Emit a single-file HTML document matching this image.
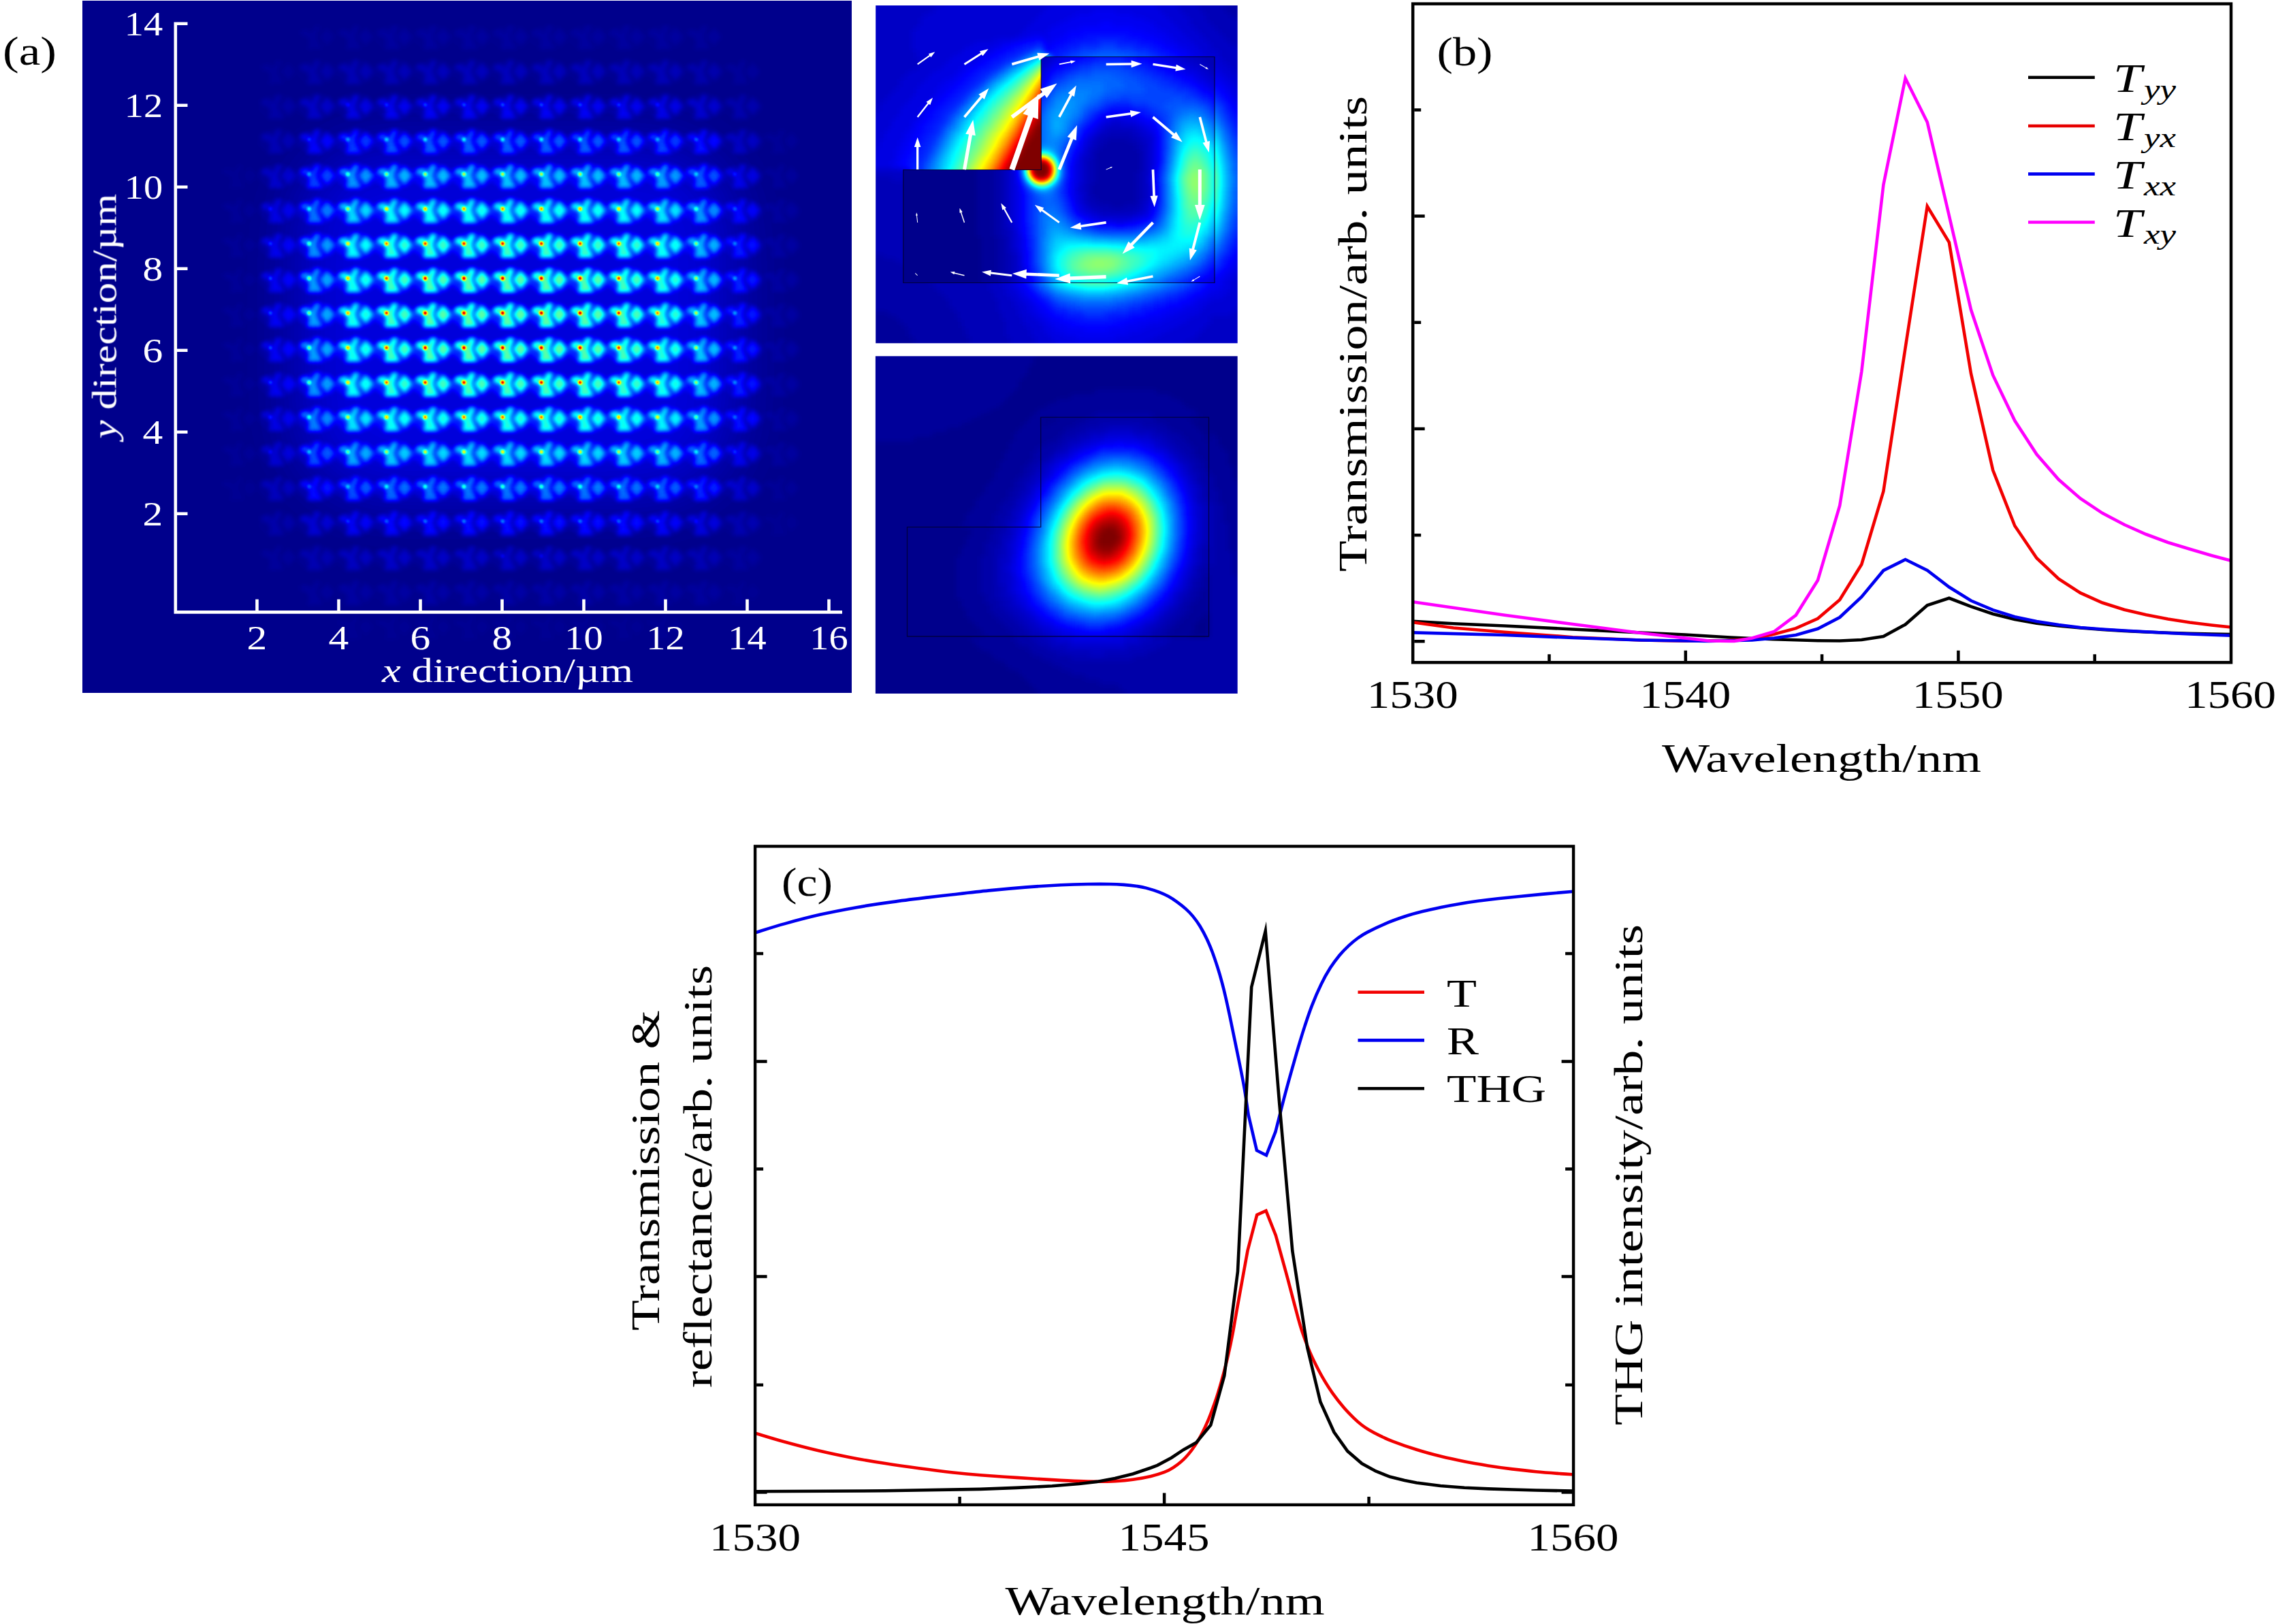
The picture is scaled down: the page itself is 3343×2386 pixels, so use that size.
<!DOCTYPE html>
<html><head><meta charset="utf-8"><title>Figure</title>
<style>html,body{margin:0;padding:0;background:#fff}svg{display:block}text{font-family:"Liberation Serif",serif}</style>
</head><body>
<svg xmlns="http://www.w3.org/2000/svg" width="3343" height="2386" viewBox="0 0 3343 2386">
<defs>
<filter id="jet" filterUnits="userSpaceOnUse" x="0" y="0" width="3343" height="2386" color-interpolation-filters="sRGB">
<feComponentTransfer>
<feFuncR type="table" tableValues="0 0 0 0 .5 1 1 1 .5"/>
<feFuncG type="table" tableValues="0 0 .5 1 1 1 .5 0 0"/>
<feFuncB type="table" tableValues=".55 1 1 1 .5 0 0 0 0"/>
</feComponentTransfer></filter>
<filter id="b22" filterUnits="userSpaceOnUse" x="100" y="0" width="1200" height="1040" color-interpolation-filters="sRGB"><feGaussianBlur stdDeviation="3.3"/></filter>
<filter id="b12" filterUnits="userSpaceOnUse" x="100" y="0" width="1200" height="1040" color-interpolation-filters="sRGB"><feGaussianBlur stdDeviation="1.6"/></filter>
<filter id="b40" filterUnits="userSpaceOnUse" x="100" y="-50" width="1200" height="1100" color-interpolation-filters="sRGB"><feGaussianBlur stdDeviation="48"/></filter>
<filter id="jb" filterUnits="userSpaceOnUse" x="1240" y="-40" width="640" height="1120" color-interpolation-filters="sRGB"><feGaussianBlur stdDeviation="4.5"/>
<feComponentTransfer>
<feFuncR type="table" tableValues="0 0 0 0 .5 1 1 1 .5"/>
<feFuncG type="table" tableValues="0 0 .5 1 1 1 .5 0 0"/>
<feFuncB type="table" tableValues=".55 1 1 1 .5 0 0 0 0"/>
<feFuncA type="linear" slope="0" intercept="1"/>
</feComponentTransfer></filter>
</defs>
<rect width="3343" height="2386" fill="#fff"/>
<g id="pa">
<clipPath id="ca"><rect x="121.2" y="1.0" width="1129.3" height="1016.5"/></clipPath>
<radialGradient id="ga" cx="757.0" cy="472.0" r="1" gradientUnits="userSpaceOnUse" gradientTransform="translate(757.0 472.0) scale(590.4 536.4) translate(-757.0 -472.0)">
<stop offset="0.000" stop-color="#fff" stop-opacity="0.115"/>
<stop offset="0.083" stop-color="#fff" stop-opacity="0.115"/>
<stop offset="0.167" stop-color="#fff" stop-opacity="0.114"/>
<stop offset="0.250" stop-color="#fff" stop-opacity="0.112"/>
<stop offset="0.333" stop-color="#fff" stop-opacity="0.105"/>
<stop offset="0.417" stop-color="#fff" stop-opacity="0.092"/>
<stop offset="0.500" stop-color="#fff" stop-opacity="0.073"/>
<stop offset="0.583" stop-color="#fff" stop-opacity="0.050"/>
<stop offset="0.667" stop-color="#fff" stop-opacity="0.027"/>
<stop offset="0.750" stop-color="#fff" stop-opacity="0.012"/>
<stop offset="0.833" stop-color="#fff" stop-opacity="0.003"/>
<stop offset="0.917" stop-color="#fff" stop-opacity="0.001"/>
<stop offset="1.000" stop-color="#fff" stop-opacity="0.000"/>
</radialGradient>
<g clip-path="url(#ca)"><g filter="url(#jet)">
<rect x="101.2" y="-19.0" width="1169.3" height="1056.5" fill="#000"/>
<rect x="440" y="215" width="635" height="515" rx="120" fill="#fff" opacity="0.085" filter="url(#b40)"/>
<g filter="url(#b22)"><g transform="translate(340.3 255.9) scale(1.1)" opacity="0.009"><path d="M-12-7L-2-8L3-3L9-14L15-12L10 2L14 11L18 18L-3 19L0 10L-2 3L-12-1ZM24-10L34 2L24 14L14 2Z" fill="#fff"/><ellipse cx="11" cy="3" rx="27" ry="17" fill="#fff" fill-opacity=".2"/></g><g transform="translate(340.3 306.9) scale(1.1)" opacity="0.011"><path d="M-12-7L-2-8L3-3L9-14L15-12L10 2L14 11L18 18L-3 19L0 10L-2 3L-12-1ZM24-10L34 2L24 14L14 2Z" fill="#fff"/><ellipse cx="11" cy="3" rx="27" ry="17" fill="#fff" fill-opacity=".2"/></g><g transform="translate(340.3 357.9) scale(1.1)" opacity="0.013"><path d="M-12-7L-2-8L3-3L9-14L15-12L10 2L14 11L18 18L-3 19L0 10L-2 3L-12-1ZM24-10L34 2L24 14L14 2Z" fill="#fff"/><ellipse cx="11" cy="3" rx="27" ry="17" fill="#fff" fill-opacity=".2"/></g><g transform="translate(340.3 408.9) scale(1.1)" opacity="0.013"><path d="M-12-7L-2-8L3-3L9-14L15-12L10 2L14 11L18 18L-3 19L0 10L-2 3L-12-1ZM24-10L34 2L24 14L14 2Z" fill="#fff"/><ellipse cx="11" cy="3" rx="27" ry="17" fill="#fff" fill-opacity=".2"/></g><g transform="translate(340.3 459.9) scale(1.1)" opacity="0.013"><path d="M-12-7L-2-8L3-3L9-14L15-12L10 2L14 11L18 18L-3 19L0 10L-2 3L-12-1ZM24-10L34 2L24 14L14 2Z" fill="#fff"/><ellipse cx="11" cy="3" rx="27" ry="17" fill="#fff" fill-opacity=".2"/></g><g transform="translate(340.3 510.9) scale(1.1)" opacity="0.013"><path d="M-12-7L-2-8L3-3L9-14L15-12L10 2L14 11L18 18L-3 19L0 10L-2 3L-12-1ZM24-10L34 2L24 14L14 2Z" fill="#fff"/><ellipse cx="11" cy="3" rx="27" ry="17" fill="#fff" fill-opacity=".2"/></g><g transform="translate(340.3 561.9) scale(1.1)" opacity="0.013"><path d="M-12-7L-2-8L3-3L9-14L15-12L10 2L14 11L18 18L-3 19L0 10L-2 3L-12-1ZM24-10L34 2L24 14L14 2Z" fill="#fff"/><ellipse cx="11" cy="3" rx="27" ry="17" fill="#fff" fill-opacity=".2"/></g><g transform="translate(340.3 612.9) scale(1.1)" opacity="0.012"><path d="M-12-7L-2-8L3-3L9-14L15-12L10 2L14 11L18 18L-3 19L0 10L-2 3L-12-1ZM24-10L34 2L24 14L14 2Z" fill="#fff"/><ellipse cx="11" cy="3" rx="27" ry="17" fill="#fff" fill-opacity=".2"/></g><g transform="translate(340.3 663.9) scale(1.1)" opacity="0.010"><path d="M-12-7L-2-8L3-3L9-14L15-12L10 2L14 11L18 18L-3 19L0 10L-2 3L-12-1ZM24-10L34 2L24 14L14 2Z" fill="#fff"/><ellipse cx="11" cy="3" rx="27" ry="17" fill="#fff" fill-opacity=".2"/></g><g transform="translate(340.3 714.9) scale(1.1)" opacity="0.007"><path d="M-12-7L-2-8L3-3L9-14L15-12L10 2L14 11L18 18L-3 19L0 10L-2 3L-12-1ZM24-10L34 2L24 14L14 2Z" fill="#fff"/><ellipse cx="11" cy="3" rx="27" ry="17" fill="#fff" fill-opacity=".2"/></g><g transform="translate(397.1 102.9) scale(1.1)" opacity="0.013"><path d="M-12-7L-2-8L3-3L9-14L15-12L10 2L14 11L18 18L-3 19L0 10L-2 3L-12-1ZM24-10L34 2L24 14L14 2Z" fill="#fff"/><ellipse cx="11" cy="3" rx="27" ry="17" fill="#fff" fill-opacity=".2"/></g><g transform="translate(397.1 153.9) scale(1.1)" opacity="0.027"><path d="M-12-7L-2-8L3-3L9-14L15-12L10 2L14 11L18 18L-3 19L0 10L-2 3L-12-1ZM24-10L34 2L24 14L14 2Z" fill="#fff"/><ellipse cx="11" cy="3" rx="27" ry="17" fill="#fff" fill-opacity=".2"/></g><g transform="translate(397.1 204.9) scale(1.1)" opacity="0.045"><path d="M-12-7L-2-8L3-3L9-14L15-12L10 2L14 11L18 18L-3 19L0 10L-2 3L-12-1ZM24-10L34 2L24 14L14 2Z" fill="#fff"/><ellipse cx="11" cy="3" rx="27" ry="17" fill="#fff" fill-opacity=".2"/></g><g transform="translate(397.1 255.9) scale(1.1)" opacity="0.064"><path d="M-12-7L-2-8L3-3L9-14L15-12L10 2L14 11L18 18L-3 19L0 10L-2 3L-12-1ZM24-10L34 2L24 14L14 2Z" fill="#fff"/><ellipse cx="11" cy="3" rx="27" ry="17" fill="#fff" fill-opacity=".2"/></g><g transform="translate(397.1 306.9) scale(1.1)" opacity="0.081"><path d="M-12-7L-2-8L3-3L9-14L15-12L10 2L14 11L18 18L-3 19L0 10L-2 3L-12-1ZM24-10L34 2L24 14L14 2Z" fill="#fff"/><ellipse cx="11" cy="3" rx="27" ry="17" fill="#fff" fill-opacity=".2"/></g><g transform="translate(397.1 357.9) scale(1.1)" opacity="0.091"><path d="M-12-7L-2-8L3-3L9-14L15-12L10 2L14 11L18 18L-3 19L0 10L-2 3L-12-1ZM24-10L34 2L24 14L14 2Z" fill="#fff"/><ellipse cx="11" cy="3" rx="27" ry="17" fill="#fff" fill-opacity=".2"/></g><g transform="translate(397.1 408.9) scale(1.1)" opacity="0.096"><path d="M-12-7L-2-8L3-3L9-14L15-12L10 2L14 11L18 18L-3 19L0 10L-2 3L-12-1ZM24-10L34 2L24 14L14 2Z" fill="#fff"/><ellipse cx="11" cy="3" rx="27" ry="17" fill="#fff" fill-opacity=".2"/></g><g transform="translate(397.1 459.9) scale(1.1)" opacity="0.097"><path d="M-12-7L-2-8L3-3L9-14L15-12L10 2L14 11L18 18L-3 19L0 10L-2 3L-12-1ZM24-10L34 2L24 14L14 2Z" fill="#fff"/><ellipse cx="11" cy="3" rx="27" ry="17" fill="#fff" fill-opacity=".2"/></g><g transform="translate(397.1 510.9) scale(1.1)" opacity="0.097"><path d="M-12-7L-2-8L3-3L9-14L15-12L10 2L14 11L18 18L-3 19L0 10L-2 3L-12-1ZM24-10L34 2L24 14L14 2Z" fill="#fff"/><ellipse cx="11" cy="3" rx="27" ry="17" fill="#fff" fill-opacity=".2"/></g><g transform="translate(397.1 561.9) scale(1.1)" opacity="0.093"><path d="M-12-7L-2-8L3-3L9-14L15-12L10 2L14 11L18 18L-3 19L0 10L-2 3L-12-1ZM24-10L34 2L24 14L14 2Z" fill="#fff"/><ellipse cx="11" cy="3" rx="27" ry="17" fill="#fff" fill-opacity=".2"/></g><g transform="translate(397.1 612.9) scale(1.1)" opacity="0.084"><path d="M-12-7L-2-8L3-3L9-14L15-12L10 2L14 11L18 18L-3 19L0 10L-2 3L-12-1ZM24-10L34 2L24 14L14 2Z" fill="#fff"/><ellipse cx="11" cy="3" rx="27" ry="17" fill="#fff" fill-opacity=".2"/></g><g transform="translate(397.1 663.9) scale(1.1)" opacity="0.069"><path d="M-12-7L-2-8L3-3L9-14L15-12L10 2L14 11L18 18L-3 19L0 10L-2 3L-12-1ZM24-10L34 2L24 14L14 2Z" fill="#fff"/><ellipse cx="11" cy="3" rx="27" ry="17" fill="#fff" fill-opacity=".2"/></g><g transform="translate(397.1 714.9) scale(1.1)" opacity="0.050"><path d="M-12-7L-2-8L3-3L9-14L15-12L10 2L14 11L18 18L-3 19L0 10L-2 3L-12-1ZM24-10L34 2L24 14L14 2Z" fill="#fff"/><ellipse cx="11" cy="3" rx="27" ry="17" fill="#fff" fill-opacity=".2"/></g><g transform="translate(397.1 765.9) scale(1.1)" opacity="0.031"><path d="M-12-7L-2-8L3-3L9-14L15-12L10 2L14 11L18 18L-3 19L0 10L-2 3L-12-1ZM24-10L34 2L24 14L14 2Z" fill="#fff"/><ellipse cx="11" cy="3" rx="27" ry="17" fill="#fff" fill-opacity=".2"/></g><g transform="translate(397.1 816.9) scale(1.1)" opacity="0.016"><path d="M-12-7L-2-8L3-3L9-14L15-12L10 2L14 11L18 18L-3 19L0 10L-2 3L-12-1ZM24-10L34 2L24 14L14 2Z" fill="#fff"/><ellipse cx="11" cy="3" rx="27" ry="17" fill="#fff" fill-opacity=".2"/></g><g transform="translate(454.0 51.9) scale(1.1)" opacity="0.012"><path d="M-12-7L-2-8L3-3L9-14L15-12L10 2L14 11L18 18L-3 19L0 10L-2 3L-12-1ZM24-10L34 2L24 14L14 2Z" fill="#fff"/><ellipse cx="11" cy="3" rx="27" ry="17" fill="#fff" fill-opacity=".2"/></g><g transform="translate(454.0 102.9) scale(1.1)" opacity="0.031"><path d="M-12-7L-2-8L3-3L9-14L15-12L10 2L14 11L18 18L-3 19L0 10L-2 3L-12-1ZM24-10L34 2L24 14L14 2Z" fill="#fff"/><ellipse cx="11" cy="3" rx="27" ry="17" fill="#fff" fill-opacity=".2"/></g><g transform="translate(454.0 153.9) scale(1.1)" opacity="0.064"><path d="M-12-7L-2-8L3-3L9-14L15-12L10 2L14 11L18 18L-3 19L0 10L-2 3L-12-1ZM24-10L34 2L24 14L14 2Z" fill="#fff"/><ellipse cx="11" cy="3" rx="27" ry="17" fill="#fff" fill-opacity=".2"/></g><g transform="translate(454.0 204.9) scale(1.1)" opacity="0.109"><path d="M-12-7L-2-8L3-3L9-14L15-12L10 2L14 11L18 18L-3 19L0 10L-2 3L-12-1ZM24-10L34 2L24 14L14 2Z" fill="#fff"/><ellipse cx="11" cy="3" rx="27" ry="17" fill="#fff" fill-opacity=".2"/></g><g transform="translate(454.0 255.9) scale(1.1)" opacity="0.157"><path d="M-12-7L-2-8L3-3L9-14L15-12L10 2L14 11L18 18L-3 19L0 10L-2 3L-12-1ZM24-10L34 2L24 14L14 2Z" fill="#fff"/><ellipse cx="11" cy="3" rx="27" ry="17" fill="#fff" fill-opacity=".2"/></g><g transform="translate(454.0 306.9) scale(1.1)" opacity="0.197"><path d="M-12-7L-2-8L3-3L9-14L15-12L10 2L14 11L18 18L-3 19L0 10L-2 3L-12-1ZM24-10L34 2L24 14L14 2Z" fill="#fff"/><ellipse cx="11" cy="3" rx="27" ry="17" fill="#fff" fill-opacity=".2"/></g><g transform="translate(454.0 357.9) scale(1.1)" opacity="0.224"><path d="M-12-7L-2-8L3-3L9-14L15-12L10 2L14 11L18 18L-3 19L0 10L-2 3L-12-1ZM24-10L34 2L24 14L14 2Z" fill="#fff"/><ellipse cx="11" cy="3" rx="27" ry="17" fill="#fff" fill-opacity=".2"/></g><g transform="translate(454.0 408.9) scale(1.1)" opacity="0.237"><path d="M-12-7L-2-8L3-3L9-14L15-12L10 2L14 11L18 18L-3 19L0 10L-2 3L-12-1ZM24-10L34 2L24 14L14 2Z" fill="#fff"/><ellipse cx="11" cy="3" rx="27" ry="17" fill="#fff" fill-opacity=".2"/></g><g transform="translate(454.0 459.9) scale(1.1)" opacity="0.240"><path d="M-12-7L-2-8L3-3L9-14L15-12L10 2L14 11L18 18L-3 19L0 10L-2 3L-12-1ZM24-10L34 2L24 14L14 2Z" fill="#fff"/><ellipse cx="11" cy="3" rx="27" ry="17" fill="#fff" fill-opacity=".2"/></g><g transform="translate(454.0 510.9) scale(1.1)" opacity="0.239"><path d="M-12-7L-2-8L3-3L9-14L15-12L10 2L14 11L18 18L-3 19L0 10L-2 3L-12-1ZM24-10L34 2L24 14L14 2Z" fill="#fff"/><ellipse cx="11" cy="3" rx="27" ry="17" fill="#fff" fill-opacity=".2"/></g><g transform="translate(454.0 561.9) scale(1.1)" opacity="0.229"><path d="M-12-7L-2-8L3-3L9-14L15-12L10 2L14 11L18 18L-3 19L0 10L-2 3L-12-1ZM24-10L34 2L24 14L14 2Z" fill="#fff"/><ellipse cx="11" cy="3" rx="27" ry="17" fill="#fff" fill-opacity=".2"/></g><g transform="translate(454.0 612.9) scale(1.1)" opacity="0.206"><path d="M-12-7L-2-8L3-3L9-14L15-12L10 2L14 11L18 18L-3 19L0 10L-2 3L-12-1ZM24-10L34 2L24 14L14 2Z" fill="#fff"/><ellipse cx="11" cy="3" rx="27" ry="17" fill="#fff" fill-opacity=".2"/></g><g transform="translate(454.0 663.9) scale(1.1)" opacity="0.169"><path d="M-12-7L-2-8L3-3L9-14L15-12L10 2L14 11L18 18L-3 19L0 10L-2 3L-12-1ZM24-10L34 2L24 14L14 2Z" fill="#fff"/><ellipse cx="11" cy="3" rx="27" ry="17" fill="#fff" fill-opacity=".2"/></g><g transform="translate(454.0 714.9) scale(1.1)" opacity="0.122"><path d="M-12-7L-2-8L3-3L9-14L15-12L10 2L14 11L18 18L-3 19L0 10L-2 3L-12-1ZM24-10L34 2L24 14L14 2Z" fill="#fff"/><ellipse cx="11" cy="3" rx="27" ry="17" fill="#fff" fill-opacity=".2"/></g><g transform="translate(454.0 765.9) scale(1.1)" opacity="0.076"><path d="M-12-7L-2-8L3-3L9-14L15-12L10 2L14 11L18 18L-3 19L0 10L-2 3L-12-1ZM24-10L34 2L24 14L14 2Z" fill="#fff"/><ellipse cx="11" cy="3" rx="27" ry="17" fill="#fff" fill-opacity=".2"/></g><g transform="translate(454.0 816.9) scale(1.1)" opacity="0.039"><path d="M-12-7L-2-8L3-3L9-14L15-12L10 2L14 11L18 18L-3 19L0 10L-2 3L-12-1ZM24-10L34 2L24 14L14 2Z" fill="#fff"/><ellipse cx="11" cy="3" rx="27" ry="17" fill="#fff" fill-opacity=".2"/></g><g transform="translate(454.0 867.9) scale(1.1)" opacity="0.016"><path d="M-12-7L-2-8L3-3L9-14L15-12L10 2L14 11L18 18L-3 19L0 10L-2 3L-12-1ZM24-10L34 2L24 14L14 2Z" fill="#fff"/><ellipse cx="11" cy="3" rx="27" ry="17" fill="#fff" fill-opacity=".2"/></g><g transform="translate(510.9 51.9) scale(1.1)" opacity="0.017"><path d="M-12-7L-2-8L3-3L9-14L15-12L10 2L14 11L18 18L-3 19L0 10L-2 3L-12-1ZM24-10L34 2L24 14L14 2Z" fill="#fff"/><ellipse cx="11" cy="3" rx="27" ry="17" fill="#fff" fill-opacity=".2"/></g><g transform="translate(510.9 102.9) scale(1.1)" opacity="0.044"><path d="M-12-7L-2-8L3-3L9-14L15-12L10 2L14 11L18 18L-3 19L0 10L-2 3L-12-1ZM24-10L34 2L24 14L14 2Z" fill="#fff"/><ellipse cx="11" cy="3" rx="27" ry="17" fill="#fff" fill-opacity=".2"/></g><g transform="translate(510.9 153.9) scale(1.1)" opacity="0.090"><path d="M-12-7L-2-8L3-3L9-14L15-12L10 2L14 11L18 18L-3 19L0 10L-2 3L-12-1ZM24-10L34 2L24 14L14 2Z" fill="#fff"/><ellipse cx="11" cy="3" rx="27" ry="17" fill="#fff" fill-opacity=".2"/></g><g transform="translate(510.9 204.9) scale(1.1)" opacity="0.154"><path d="M-12-7L-2-8L3-3L9-14L15-12L10 2L14 11L18 18L-3 19L0 10L-2 3L-12-1ZM24-10L34 2L24 14L14 2Z" fill="#fff"/><ellipse cx="11" cy="3" rx="27" ry="17" fill="#fff" fill-opacity=".2"/></g><g transform="translate(510.9 255.9) scale(1.1)" opacity="0.222"><path d="M-12-7L-2-8L3-3L9-14L15-12L10 2L14 11L18 18L-3 19L0 10L-2 3L-12-1ZM24-10L34 2L24 14L14 2Z" fill="#fff"/><ellipse cx="11" cy="3" rx="27" ry="17" fill="#fff" fill-opacity=".2"/></g><g transform="translate(510.9 306.9) scale(1.1)" opacity="0.281"><path d="M-12-7L-2-8L3-3L9-14L15-12L10 2L14 11L18 18L-3 19L0 10L-2 3L-12-1ZM24-10L34 2L24 14L14 2Z" fill="#fff"/><ellipse cx="11" cy="3" rx="27" ry="17" fill="#fff" fill-opacity=".2"/></g><g transform="translate(510.9 357.9) scale(1.1)" opacity="0.321"><path d="M-12-7L-2-8L3-3L9-14L15-12L10 2L14 11L18 18L-3 19L0 10L-2 3L-12-1ZM24-10L34 2L24 14L14 2Z" fill="#fff"/><ellipse cx="11" cy="3" rx="27" ry="17" fill="#fff" fill-opacity=".2"/></g><g transform="translate(510.9 408.9) scale(1.1)" opacity="0.340"><path d="M-12-7L-2-8L3-3L9-14L15-12L10 2L14 11L18 18L-3 19L0 10L-2 3L-12-1ZM24-10L34 2L24 14L14 2Z" fill="#fff"/><ellipse cx="11" cy="3" rx="27" ry="17" fill="#fff" fill-opacity=".2"/></g><g transform="translate(510.9 459.9) scale(1.1)" opacity="0.345"><path d="M-12-7L-2-8L3-3L9-14L15-12L10 2L14 11L18 18L-3 19L0 10L-2 3L-12-1ZM24-10L34 2L24 14L14 2Z" fill="#fff"/><ellipse cx="11" cy="3" rx="27" ry="17" fill="#fff" fill-opacity=".2"/></g><g transform="translate(510.9 510.9) scale(1.1)" opacity="0.343"><path d="M-12-7L-2-8L3-3L9-14L15-12L10 2L14 11L18 18L-3 19L0 10L-2 3L-12-1ZM24-10L34 2L24 14L14 2Z" fill="#fff"/><ellipse cx="11" cy="3" rx="27" ry="17" fill="#fff" fill-opacity=".2"/></g><g transform="translate(510.9 561.9) scale(1.1)" opacity="0.328"><path d="M-12-7L-2-8L3-3L9-14L15-12L10 2L14 11L18 18L-3 19L0 10L-2 3L-12-1ZM24-10L34 2L24 14L14 2Z" fill="#fff"/><ellipse cx="11" cy="3" rx="27" ry="17" fill="#fff" fill-opacity=".2"/></g><g transform="translate(510.9 612.9) scale(1.1)" opacity="0.295"><path d="M-12-7L-2-8L3-3L9-14L15-12L10 2L14 11L18 18L-3 19L0 10L-2 3L-12-1ZM24-10L34 2L24 14L14 2Z" fill="#fff"/><ellipse cx="11" cy="3" rx="27" ry="17" fill="#fff" fill-opacity=".2"/></g><g transform="translate(510.9 663.9) scale(1.1)" opacity="0.240"><path d="M-12-7L-2-8L3-3L9-14L15-12L10 2L14 11L18 18L-3 19L0 10L-2 3L-12-1ZM24-10L34 2L24 14L14 2Z" fill="#fff"/><ellipse cx="11" cy="3" rx="27" ry="17" fill="#fff" fill-opacity=".2"/></g><g transform="translate(510.9 714.9) scale(1.1)" opacity="0.173"><path d="M-12-7L-2-8L3-3L9-14L15-12L10 2L14 11L18 18L-3 19L0 10L-2 3L-12-1ZM24-10L34 2L24 14L14 2Z" fill="#fff"/><ellipse cx="11" cy="3" rx="27" ry="17" fill="#fff" fill-opacity=".2"/></g><g transform="translate(510.9 765.9) scale(1.1)" opacity="0.107"><path d="M-12-7L-2-8L3-3L9-14L15-12L10 2L14 11L18 18L-3 19L0 10L-2 3L-12-1ZM24-10L34 2L24 14L14 2Z" fill="#fff"/><ellipse cx="11" cy="3" rx="27" ry="17" fill="#fff" fill-opacity=".2"/></g><g transform="translate(510.9 816.9) scale(1.1)" opacity="0.055"><path d="M-12-7L-2-8L3-3L9-14L15-12L10 2L14 11L18 18L-3 19L0 10L-2 3L-12-1ZM24-10L34 2L24 14L14 2Z" fill="#fff"/><ellipse cx="11" cy="3" rx="27" ry="17" fill="#fff" fill-opacity=".2"/></g><g transform="translate(510.9 867.9) scale(1.1)" opacity="0.023"><path d="M-12-7L-2-8L3-3L9-14L15-12L10 2L14 11L18 18L-3 19L0 10L-2 3L-12-1ZM24-10L34 2L24 14L14 2Z" fill="#fff"/><ellipse cx="11" cy="3" rx="27" ry="17" fill="#fff" fill-opacity=".2"/></g><g transform="translate(510.9 918.9) scale(1.1)" opacity="0.007"><path d="M-12-7L-2-8L3-3L9-14L15-12L10 2L14 11L18 18L-3 19L0 10L-2 3L-12-1ZM24-10L34 2L24 14L14 2Z" fill="#fff"/><ellipse cx="11" cy="3" rx="27" ry="17" fill="#fff" fill-opacity=".2"/></g><g transform="translate(567.7 51.9) scale(1.1)" opacity="0.019"><path d="M-12-7L-2-8L3-3L9-14L15-12L10 2L14 11L18 18L-3 19L0 10L-2 3L-12-1ZM24-10L34 2L24 14L14 2Z" fill="#fff"/><ellipse cx="11" cy="3" rx="27" ry="17" fill="#fff" fill-opacity=".2"/></g><g transform="translate(567.7 102.9) scale(1.1)" opacity="0.049"><path d="M-12-7L-2-8L3-3L9-14L15-12L10 2L14 11L18 18L-3 19L0 10L-2 3L-12-1ZM24-10L34 2L24 14L14 2Z" fill="#fff"/><ellipse cx="11" cy="3" rx="27" ry="17" fill="#fff" fill-opacity=".2"/></g><g transform="translate(567.7 153.9) scale(1.1)" opacity="0.101"><path d="M-12-7L-2-8L3-3L9-14L15-12L10 2L14 11L18 18L-3 19L0 10L-2 3L-12-1ZM24-10L34 2L24 14L14 2Z" fill="#fff"/><ellipse cx="11" cy="3" rx="27" ry="17" fill="#fff" fill-opacity=".2"/></g><g transform="translate(567.7 204.9) scale(1.1)" opacity="0.172"><path d="M-12-7L-2-8L3-3L9-14L15-12L10 2L14 11L18 18L-3 19L0 10L-2 3L-12-1ZM24-10L34 2L24 14L14 2Z" fill="#fff"/><ellipse cx="11" cy="3" rx="27" ry="17" fill="#fff" fill-opacity=".2"/></g><g transform="translate(567.7 255.9) scale(1.1)" opacity="0.250"><path d="M-12-7L-2-8L3-3L9-14L15-12L10 2L14 11L18 18L-3 19L0 10L-2 3L-12-1ZM24-10L34 2L24 14L14 2Z" fill="#fff"/><ellipse cx="11" cy="3" rx="27" ry="17" fill="#fff" fill-opacity=".2"/></g><g transform="translate(567.7 306.9) scale(1.1)" opacity="0.318"><path d="M-12-7L-2-8L3-3L9-14L15-12L10 2L14 11L18 18L-3 19L0 10L-2 3L-12-1ZM24-10L34 2L24 14L14 2Z" fill="#fff"/><ellipse cx="11" cy="3" rx="27" ry="17" fill="#fff" fill-opacity=".2"/></g><g transform="translate(567.7 357.9) scale(1.1)" opacity="0.364"><path d="M-12-7L-2-8L3-3L9-14L15-12L10 2L14 11L18 18L-3 19L0 10L-2 3L-12-1ZM24-10L34 2L24 14L14 2Z" fill="#fff"/><ellipse cx="11" cy="3" rx="27" ry="17" fill="#fff" fill-opacity=".2"/></g><g transform="translate(567.7 408.9) scale(1.1)" opacity="0.387"><path d="M-12-7L-2-8L3-3L9-14L15-12L10 2L14 11L18 18L-3 19L0 10L-2 3L-12-1ZM24-10L34 2L24 14L14 2Z" fill="#fff"/><ellipse cx="11" cy="3" rx="27" ry="17" fill="#fff" fill-opacity=".2"/></g><g transform="translate(567.7 459.9) scale(1.1)" opacity="0.392"><path d="M-12-7L-2-8L3-3L9-14L15-12L10 2L14 11L18 18L-3 19L0 10L-2 3L-12-1ZM24-10L34 2L24 14L14 2Z" fill="#fff"/><ellipse cx="11" cy="3" rx="27" ry="17" fill="#fff" fill-opacity=".2"/></g><g transform="translate(567.7 510.9) scale(1.1)" opacity="0.389"><path d="M-12-7L-2-8L3-3L9-14L15-12L10 2L14 11L18 18L-3 19L0 10L-2 3L-12-1ZM24-10L34 2L24 14L14 2Z" fill="#fff"/><ellipse cx="11" cy="3" rx="27" ry="17" fill="#fff" fill-opacity=".2"/></g><g transform="translate(567.7 561.9) scale(1.1)" opacity="0.373"><path d="M-12-7L-2-8L3-3L9-14L15-12L10 2L14 11L18 18L-3 19L0 10L-2 3L-12-1ZM24-10L34 2L24 14L14 2Z" fill="#fff"/><ellipse cx="11" cy="3" rx="27" ry="17" fill="#fff" fill-opacity=".2"/></g><g transform="translate(567.7 612.9) scale(1.1)" opacity="0.333"><path d="M-12-7L-2-8L3-3L9-14L15-12L10 2L14 11L18 18L-3 19L0 10L-2 3L-12-1ZM24-10L34 2L24 14L14 2Z" fill="#fff"/><ellipse cx="11" cy="3" rx="27" ry="17" fill="#fff" fill-opacity=".2"/></g><g transform="translate(567.7 663.9) scale(1.1)" opacity="0.271"><path d="M-12-7L-2-8L3-3L9-14L15-12L10 2L14 11L18 18L-3 19L0 10L-2 3L-12-1ZM24-10L34 2L24 14L14 2Z" fill="#fff"/><ellipse cx="11" cy="3" rx="27" ry="17" fill="#fff" fill-opacity=".2"/></g><g transform="translate(567.7 714.9) scale(1.1)" opacity="0.194"><path d="M-12-7L-2-8L3-3L9-14L15-12L10 2L14 11L18 18L-3 19L0 10L-2 3L-12-1ZM24-10L34 2L24 14L14 2Z" fill="#fff"/><ellipse cx="11" cy="3" rx="27" ry="17" fill="#fff" fill-opacity=".2"/></g><g transform="translate(567.7 765.9) scale(1.1)" opacity="0.119"><path d="M-12-7L-2-8L3-3L9-14L15-12L10 2L14 11L18 18L-3 19L0 10L-2 3L-12-1ZM24-10L34 2L24 14L14 2Z" fill="#fff"/><ellipse cx="11" cy="3" rx="27" ry="17" fill="#fff" fill-opacity=".2"/></g><g transform="translate(567.7 816.9) scale(1.1)" opacity="0.061"><path d="M-12-7L-2-8L3-3L9-14L15-12L10 2L14 11L18 18L-3 19L0 10L-2 3L-12-1ZM24-10L34 2L24 14L14 2Z" fill="#fff"/><ellipse cx="11" cy="3" rx="27" ry="17" fill="#fff" fill-opacity=".2"/></g><g transform="translate(567.7 867.9) scale(1.1)" opacity="0.025"><path d="M-12-7L-2-8L3-3L9-14L15-12L10 2L14 11L18 18L-3 19L0 10L-2 3L-12-1ZM24-10L34 2L24 14L14 2Z" fill="#fff"/><ellipse cx="11" cy="3" rx="27" ry="17" fill="#fff" fill-opacity=".2"/></g><g transform="translate(567.7 918.9) scale(1.1)" opacity="0.008"><path d="M-12-7L-2-8L3-3L9-14L15-12L10 2L14 11L18 18L-3 19L0 10L-2 3L-12-1ZM24-10L34 2L24 14L14 2Z" fill="#fff"/><ellipse cx="11" cy="3" rx="27" ry="17" fill="#fff" fill-opacity=".2"/></g><g transform="translate(624.5 51.9) scale(1.1)" opacity="0.019"><path d="M-12-7L-2-8L3-3L9-14L15-12L10 2L14 11L18 18L-3 19L0 10L-2 3L-12-1ZM24-10L34 2L24 14L14 2Z" fill="#fff"/><ellipse cx="11" cy="3" rx="27" ry="17" fill="#fff" fill-opacity=".2"/></g><g transform="translate(624.5 102.9) scale(1.1)" opacity="0.050"><path d="M-12-7L-2-8L3-3L9-14L15-12L10 2L14 11L18 18L-3 19L0 10L-2 3L-12-1ZM24-10L34 2L24 14L14 2Z" fill="#fff"/><ellipse cx="11" cy="3" rx="27" ry="17" fill="#fff" fill-opacity=".2"/></g><g transform="translate(624.5 153.9) scale(1.1)" opacity="0.104"><path d="M-12-7L-2-8L3-3L9-14L15-12L10 2L14 11L18 18L-3 19L0 10L-2 3L-12-1ZM24-10L34 2L24 14L14 2Z" fill="#fff"/><ellipse cx="11" cy="3" rx="27" ry="17" fill="#fff" fill-opacity=".2"/></g><g transform="translate(624.5 204.9) scale(1.1)" opacity="0.178"><path d="M-12-7L-2-8L3-3L9-14L15-12L10 2L14 11L18 18L-3 19L0 10L-2 3L-12-1ZM24-10L34 2L24 14L14 2Z" fill="#fff"/><ellipse cx="11" cy="3" rx="27" ry="17" fill="#fff" fill-opacity=".2"/></g><g transform="translate(624.5 255.9) scale(1.1)" opacity="0.260"><path d="M-12-7L-2-8L3-3L9-14L15-12L10 2L14 11L18 18L-3 19L0 10L-2 3L-12-1ZM24-10L34 2L24 14L14 2Z" fill="#fff"/><ellipse cx="11" cy="3" rx="27" ry="17" fill="#fff" fill-opacity=".2"/></g><g transform="translate(624.5 306.9) scale(1.1)" opacity="0.331"><path d="M-12-7L-2-8L3-3L9-14L15-12L10 2L14 11L18 18L-3 19L0 10L-2 3L-12-1ZM24-10L34 2L24 14L14 2Z" fill="#fff"/><ellipse cx="11" cy="3" rx="27" ry="17" fill="#fff" fill-opacity=".2"/></g><g transform="translate(624.5 357.9) scale(1.1)" opacity="0.380"><path d="M-12-7L-2-8L3-3L9-14L15-12L10 2L14 11L18 18L-3 19L0 10L-2 3L-12-1ZM24-10L34 2L24 14L14 2Z" fill="#fff"/><ellipse cx="11" cy="3" rx="27" ry="17" fill="#fff" fill-opacity=".2"/></g><g transform="translate(624.5 408.9) scale(1.1)" opacity="0.404"><path d="M-12-7L-2-8L3-3L9-14L15-12L10 2L14 11L18 18L-3 19L0 10L-2 3L-12-1ZM24-10L34 2L24 14L14 2Z" fill="#fff"/><ellipse cx="11" cy="3" rx="27" ry="17" fill="#fff" fill-opacity=".2"/></g><g transform="translate(624.5 459.9) scale(1.1)" opacity="0.410"><path d="M-12-7L-2-8L3-3L9-14L15-12L10 2L14 11L18 18L-3 19L0 10L-2 3L-12-1ZM24-10L34 2L24 14L14 2Z" fill="#fff"/><ellipse cx="11" cy="3" rx="27" ry="17" fill="#fff" fill-opacity=".2"/></g><g transform="translate(624.5 510.9) scale(1.1)" opacity="0.407"><path d="M-12-7L-2-8L3-3L9-14L15-12L10 2L14 11L18 18L-3 19L0 10L-2 3L-12-1ZM24-10L34 2L24 14L14 2Z" fill="#fff"/><ellipse cx="11" cy="3" rx="27" ry="17" fill="#fff" fill-opacity=".2"/></g><g transform="translate(624.5 561.9) scale(1.1)" opacity="0.389"><path d="M-12-7L-2-8L3-3L9-14L15-12L10 2L14 11L18 18L-3 19L0 10L-2 3L-12-1ZM24-10L34 2L24 14L14 2Z" fill="#fff"/><ellipse cx="11" cy="3" rx="27" ry="17" fill="#fff" fill-opacity=".2"/></g><g transform="translate(624.5 612.9) scale(1.1)" opacity="0.347"><path d="M-12-7L-2-8L3-3L9-14L15-12L10 2L14 11L18 18L-3 19L0 10L-2 3L-12-1ZM24-10L34 2L24 14L14 2Z" fill="#fff"/><ellipse cx="11" cy="3" rx="27" ry="17" fill="#fff" fill-opacity=".2"/></g><g transform="translate(624.5 663.9) scale(1.1)" opacity="0.281"><path d="M-12-7L-2-8L3-3L9-14L15-12L10 2L14 11L18 18L-3 19L0 10L-2 3L-12-1ZM24-10L34 2L24 14L14 2Z" fill="#fff"/><ellipse cx="11" cy="3" rx="27" ry="17" fill="#fff" fill-opacity=".2"/></g><g transform="translate(624.5 714.9) scale(1.1)" opacity="0.201"><path d="M-12-7L-2-8L3-3L9-14L15-12L10 2L14 11L18 18L-3 19L0 10L-2 3L-12-1ZM24-10L34 2L24 14L14 2Z" fill="#fff"/><ellipse cx="11" cy="3" rx="27" ry="17" fill="#fff" fill-opacity=".2"/></g><g transform="translate(624.5 765.9) scale(1.1)" opacity="0.123"><path d="M-12-7L-2-8L3-3L9-14L15-12L10 2L14 11L18 18L-3 19L0 10L-2 3L-12-1ZM24-10L34 2L24 14L14 2Z" fill="#fff"/><ellipse cx="11" cy="3" rx="27" ry="17" fill="#fff" fill-opacity=".2"/></g><g transform="translate(624.5 816.9) scale(1.1)" opacity="0.063"><path d="M-12-7L-2-8L3-3L9-14L15-12L10 2L14 11L18 18L-3 19L0 10L-2 3L-12-1ZM24-10L34 2L24 14L14 2Z" fill="#fff"/><ellipse cx="11" cy="3" rx="27" ry="17" fill="#fff" fill-opacity=".2"/></g><g transform="translate(624.5 867.9) scale(1.1)" opacity="0.026"><path d="M-12-7L-2-8L3-3L9-14L15-12L10 2L14 11L18 18L-3 19L0 10L-2 3L-12-1ZM24-10L34 2L24 14L14 2Z" fill="#fff"/><ellipse cx="11" cy="3" rx="27" ry="17" fill="#fff" fill-opacity=".2"/></g><g transform="translate(624.5 918.9) scale(1.1)" opacity="0.008"><path d="M-12-7L-2-8L3-3L9-14L15-12L10 2L14 11L18 18L-3 19L0 10L-2 3L-12-1ZM24-10L34 2L24 14L14 2Z" fill="#fff"/><ellipse cx="11" cy="3" rx="27" ry="17" fill="#fff" fill-opacity=".2"/></g><g transform="translate(681.4 51.9) scale(1.1)" opacity="0.019"><path d="M-12-7L-2-8L3-3L9-14L15-12L10 2L14 11L18 18L-3 19L0 10L-2 3L-12-1ZM24-10L34 2L24 14L14 2Z" fill="#fff"/><ellipse cx="11" cy="3" rx="27" ry="17" fill="#fff" fill-opacity=".2"/></g><g transform="translate(681.4 102.9) scale(1.1)" opacity="0.050"><path d="M-12-7L-2-8L3-3L9-14L15-12L10 2L14 11L18 18L-3 19L0 10L-2 3L-12-1ZM24-10L34 2L24 14L14 2Z" fill="#fff"/><ellipse cx="11" cy="3" rx="27" ry="17" fill="#fff" fill-opacity=".2"/></g><g transform="translate(681.4 153.9) scale(1.1)" opacity="0.105"><path d="M-12-7L-2-8L3-3L9-14L15-12L10 2L14 11L18 18L-3 19L0 10L-2 3L-12-1ZM24-10L34 2L24 14L14 2Z" fill="#fff"/><ellipse cx="11" cy="3" rx="27" ry="17" fill="#fff" fill-opacity=".2"/></g><g transform="translate(681.4 204.9) scale(1.1)" opacity="0.180"><path d="M-12-7L-2-8L3-3L9-14L15-12L10 2L14 11L18 18L-3 19L0 10L-2 3L-12-1ZM24-10L34 2L24 14L14 2Z" fill="#fff"/><ellipse cx="11" cy="3" rx="27" ry="17" fill="#fff" fill-opacity=".2"/></g><g transform="translate(681.4 255.9) scale(1.1)" opacity="0.263"><path d="M-12-7L-2-8L3-3L9-14L15-12L10 2L14 11L18 18L-3 19L0 10L-2 3L-12-1ZM24-10L34 2L24 14L14 2Z" fill="#fff"/><ellipse cx="11" cy="3" rx="27" ry="17" fill="#fff" fill-opacity=".2"/></g><g transform="translate(681.4 306.9) scale(1.1)" opacity="0.336"><path d="M-12-7L-2-8L3-3L9-14L15-12L10 2L14 11L18 18L-3 19L0 10L-2 3L-12-1ZM24-10L34 2L24 14L14 2Z" fill="#fff"/><ellipse cx="11" cy="3" rx="27" ry="17" fill="#fff" fill-opacity=".2"/></g><g transform="translate(681.4 357.9) scale(1.1)" opacity="0.386"><path d="M-12-7L-2-8L3-3L9-14L15-12L10 2L14 11L18 18L-3 19L0 10L-2 3L-12-1ZM24-10L34 2L24 14L14 2Z" fill="#fff"/><ellipse cx="11" cy="3" rx="27" ry="17" fill="#fff" fill-opacity=".2"/></g><g transform="translate(681.4 408.9) scale(1.1)" opacity="0.411"><path d="M-12-7L-2-8L3-3L9-14L15-12L10 2L14 11L18 18L-3 19L0 10L-2 3L-12-1ZM24-10L34 2L24 14L14 2Z" fill="#fff"/><ellipse cx="11" cy="3" rx="27" ry="17" fill="#fff" fill-opacity=".2"/></g><g transform="translate(681.4 459.9) scale(1.1)" opacity="0.417"><path d="M-12-7L-2-8L3-3L9-14L15-12L10 2L14 11L18 18L-3 19L0 10L-2 3L-12-1ZM24-10L34 2L24 14L14 2Z" fill="#fff"/><ellipse cx="11" cy="3" rx="27" ry="17" fill="#fff" fill-opacity=".2"/></g><g transform="translate(681.4 510.9) scale(1.1)" opacity="0.414"><path d="M-12-7L-2-8L3-3L9-14L15-12L10 2L14 11L18 18L-3 19L0 10L-2 3L-12-1ZM24-10L34 2L24 14L14 2Z" fill="#fff"/><ellipse cx="11" cy="3" rx="27" ry="17" fill="#fff" fill-opacity=".2"/></g><g transform="translate(681.4 561.9) scale(1.1)" opacity="0.395"><path d="M-12-7L-2-8L3-3L9-14L15-12L10 2L14 11L18 18L-3 19L0 10L-2 3L-12-1ZM24-10L34 2L24 14L14 2Z" fill="#fff"/><ellipse cx="11" cy="3" rx="27" ry="17" fill="#fff" fill-opacity=".2"/></g><g transform="translate(681.4 612.9) scale(1.1)" opacity="0.353"><path d="M-12-7L-2-8L3-3L9-14L15-12L10 2L14 11L18 18L-3 19L0 10L-2 3L-12-1ZM24-10L34 2L24 14L14 2Z" fill="#fff"/><ellipse cx="11" cy="3" rx="27" ry="17" fill="#fff" fill-opacity=".2"/></g><g transform="translate(681.4 663.9) scale(1.1)" opacity="0.285"><path d="M-12-7L-2-8L3-3L9-14L15-12L10 2L14 11L18 18L-3 19L0 10L-2 3L-12-1ZM24-10L34 2L24 14L14 2Z" fill="#fff"/><ellipse cx="11" cy="3" rx="27" ry="17" fill="#fff" fill-opacity=".2"/></g><g transform="translate(681.4 714.9) scale(1.1)" opacity="0.203"><path d="M-12-7L-2-8L3-3L9-14L15-12L10 2L14 11L18 18L-3 19L0 10L-2 3L-12-1ZM24-10L34 2L24 14L14 2Z" fill="#fff"/><ellipse cx="11" cy="3" rx="27" ry="17" fill="#fff" fill-opacity=".2"/></g><g transform="translate(681.4 765.9) scale(1.1)" opacity="0.124"><path d="M-12-7L-2-8L3-3L9-14L15-12L10 2L14 11L18 18L-3 19L0 10L-2 3L-12-1ZM24-10L34 2L24 14L14 2Z" fill="#fff"/><ellipse cx="11" cy="3" rx="27" ry="17" fill="#fff" fill-opacity=".2"/></g><g transform="translate(681.4 816.9) scale(1.1)" opacity="0.063"><path d="M-12-7L-2-8L3-3L9-14L15-12L10 2L14 11L18 18L-3 19L0 10L-2 3L-12-1ZM24-10L34 2L24 14L14 2Z" fill="#fff"/><ellipse cx="11" cy="3" rx="27" ry="17" fill="#fff" fill-opacity=".2"/></g><g transform="translate(681.4 867.9) scale(1.1)" opacity="0.026"><path d="M-12-7L-2-8L3-3L9-14L15-12L10 2L14 11L18 18L-3 19L0 10L-2 3L-12-1ZM24-10L34 2L24 14L14 2Z" fill="#fff"/><ellipse cx="11" cy="3" rx="27" ry="17" fill="#fff" fill-opacity=".2"/></g><g transform="translate(681.4 918.9) scale(1.1)" opacity="0.008"><path d="M-12-7L-2-8L3-3L9-14L15-12L10 2L14 11L18 18L-3 19L0 10L-2 3L-12-1ZM24-10L34 2L24 14L14 2Z" fill="#fff"/><ellipse cx="11" cy="3" rx="27" ry="17" fill="#fff" fill-opacity=".2"/></g><g transform="translate(738.2 51.9) scale(1.1)" opacity="0.019"><path d="M-12-7L-2-8L3-3L9-14L15-12L10 2L14 11L18 18L-3 19L0 10L-2 3L-12-1ZM24-10L34 2L24 14L14 2Z" fill="#fff"/><ellipse cx="11" cy="3" rx="27" ry="17" fill="#fff" fill-opacity=".2"/></g><g transform="translate(738.2 102.9) scale(1.1)" opacity="0.051"><path d="M-12-7L-2-8L3-3L9-14L15-12L10 2L14 11L18 18L-3 19L0 10L-2 3L-12-1ZM24-10L34 2L24 14L14 2Z" fill="#fff"/><ellipse cx="11" cy="3" rx="27" ry="17" fill="#fff" fill-opacity=".2"/></g><g transform="translate(738.2 153.9) scale(1.1)" opacity="0.105"><path d="M-12-7L-2-8L3-3L9-14L15-12L10 2L14 11L18 18L-3 19L0 10L-2 3L-12-1ZM24-10L34 2L24 14L14 2Z" fill="#fff"/><ellipse cx="11" cy="3" rx="27" ry="17" fill="#fff" fill-opacity=".2"/></g><g transform="translate(738.2 204.9) scale(1.1)" opacity="0.181"><path d="M-12-7L-2-8L3-3L9-14L15-12L10 2L14 11L18 18L-3 19L0 10L-2 3L-12-1ZM24-10L34 2L24 14L14 2Z" fill="#fff"/><ellipse cx="11" cy="3" rx="27" ry="17" fill="#fff" fill-opacity=".2"/></g><g transform="translate(738.2 255.9) scale(1.1)" opacity="0.264"><path d="M-12-7L-2-8L3-3L9-14L15-12L10 2L14 11L18 18L-3 19L0 10L-2 3L-12-1ZM24-10L34 2L24 14L14 2Z" fill="#fff"/><ellipse cx="11" cy="3" rx="27" ry="17" fill="#fff" fill-opacity=".2"/></g><g transform="translate(738.2 306.9) scale(1.1)" opacity="0.338"><path d="M-12-7L-2-8L3-3L9-14L15-12L10 2L14 11L18 18L-3 19L0 10L-2 3L-12-1ZM24-10L34 2L24 14L14 2Z" fill="#fff"/><ellipse cx="11" cy="3" rx="27" ry="17" fill="#fff" fill-opacity=".2"/></g><g transform="translate(738.2 357.9) scale(1.1)" opacity="0.388"><path d="M-12-7L-2-8L3-3L9-14L15-12L10 2L14 11L18 18L-3 19L0 10L-2 3L-12-1ZM24-10L34 2L24 14L14 2Z" fill="#fff"/><ellipse cx="11" cy="3" rx="27" ry="17" fill="#fff" fill-opacity=".2"/></g><g transform="translate(738.2 408.9) scale(1.1)" opacity="0.413"><path d="M-12-7L-2-8L3-3L9-14L15-12L10 2L14 11L18 18L-3 19L0 10L-2 3L-12-1ZM24-10L34 2L24 14L14 2Z" fill="#fff"/><ellipse cx="11" cy="3" rx="27" ry="17" fill="#fff" fill-opacity=".2"/></g><g transform="translate(738.2 459.9) scale(1.1)" opacity="0.420"><path d="M-12-7L-2-8L3-3L9-14L15-12L10 2L14 11L18 18L-3 19L0 10L-2 3L-12-1ZM24-10L34 2L24 14L14 2Z" fill="#fff"/><ellipse cx="11" cy="3" rx="27" ry="17" fill="#fff" fill-opacity=".2"/></g><g transform="translate(738.2 510.9) scale(1.1)" opacity="0.417"><path d="M-12-7L-2-8L3-3L9-14L15-12L10 2L14 11L18 18L-3 19L0 10L-2 3L-12-1ZM24-10L34 2L24 14L14 2Z" fill="#fff"/><ellipse cx="11" cy="3" rx="27" ry="17" fill="#fff" fill-opacity=".2"/></g><g transform="translate(738.2 561.9) scale(1.1)" opacity="0.398"><path d="M-12-7L-2-8L3-3L9-14L15-12L10 2L14 11L18 18L-3 19L0 10L-2 3L-12-1ZM24-10L34 2L24 14L14 2Z" fill="#fff"/><ellipse cx="11" cy="3" rx="27" ry="17" fill="#fff" fill-opacity=".2"/></g><g transform="translate(738.2 612.9) scale(1.1)" opacity="0.354"><path d="M-12-7L-2-8L3-3L9-14L15-12L10 2L14 11L18 18L-3 19L0 10L-2 3L-12-1ZM24-10L34 2L24 14L14 2Z" fill="#fff"/><ellipse cx="11" cy="3" rx="27" ry="17" fill="#fff" fill-opacity=".2"/></g><g transform="translate(738.2 663.9) scale(1.1)" opacity="0.286"><path d="M-12-7L-2-8L3-3L9-14L15-12L10 2L14 11L18 18L-3 19L0 10L-2 3L-12-1ZM24-10L34 2L24 14L14 2Z" fill="#fff"/><ellipse cx="11" cy="3" rx="27" ry="17" fill="#fff" fill-opacity=".2"/></g><g transform="translate(738.2 714.9) scale(1.1)" opacity="0.204"><path d="M-12-7L-2-8L3-3L9-14L15-12L10 2L14 11L18 18L-3 19L0 10L-2 3L-12-1ZM24-10L34 2L24 14L14 2Z" fill="#fff"/><ellipse cx="11" cy="3" rx="27" ry="17" fill="#fff" fill-opacity=".2"/></g><g transform="translate(738.2 765.9) scale(1.1)" opacity="0.125"><path d="M-12-7L-2-8L3-3L9-14L15-12L10 2L14 11L18 18L-3 19L0 10L-2 3L-12-1ZM24-10L34 2L24 14L14 2Z" fill="#fff"/><ellipse cx="11" cy="3" rx="27" ry="17" fill="#fff" fill-opacity=".2"/></g><g transform="translate(738.2 816.9) scale(1.1)" opacity="0.063"><path d="M-12-7L-2-8L3-3L9-14L15-12L10 2L14 11L18 18L-3 19L0 10L-2 3L-12-1ZM24-10L34 2L24 14L14 2Z" fill="#fff"/><ellipse cx="11" cy="3" rx="27" ry="17" fill="#fff" fill-opacity=".2"/></g><g transform="translate(738.2 867.9) scale(1.1)" opacity="0.026"><path d="M-12-7L-2-8L3-3L9-14L15-12L10 2L14 11L18 18L-3 19L0 10L-2 3L-12-1ZM24-10L34 2L24 14L14 2Z" fill="#fff"/><ellipse cx="11" cy="3" rx="27" ry="17" fill="#fff" fill-opacity=".2"/></g><g transform="translate(738.2 918.9) scale(1.1)" opacity="0.008"><path d="M-12-7L-2-8L3-3L9-14L15-12L10 2L14 11L18 18L-3 19L0 10L-2 3L-12-1ZM24-10L34 2L24 14L14 2Z" fill="#fff"/><ellipse cx="11" cy="3" rx="27" ry="17" fill="#fff" fill-opacity=".2"/></g><g transform="translate(795.1 51.9) scale(1.1)" opacity="0.019"><path d="M-12-7L-2-8L3-3L9-14L15-12L10 2L14 11L18 18L-3 19L0 10L-2 3L-12-1ZM24-10L34 2L24 14L14 2Z" fill="#fff"/><ellipse cx="11" cy="3" rx="27" ry="17" fill="#fff" fill-opacity=".2"/></g><g transform="translate(795.1 102.9) scale(1.1)" opacity="0.050"><path d="M-12-7L-2-8L3-3L9-14L15-12L10 2L14 11L18 18L-3 19L0 10L-2 3L-12-1ZM24-10L34 2L24 14L14 2Z" fill="#fff"/><ellipse cx="11" cy="3" rx="27" ry="17" fill="#fff" fill-opacity=".2"/></g><g transform="translate(795.1 153.9) scale(1.1)" opacity="0.105"><path d="M-12-7L-2-8L3-3L9-14L15-12L10 2L14 11L18 18L-3 19L0 10L-2 3L-12-1ZM24-10L34 2L24 14L14 2Z" fill="#fff"/><ellipse cx="11" cy="3" rx="27" ry="17" fill="#fff" fill-opacity=".2"/></g><g transform="translate(795.1 204.9) scale(1.1)" opacity="0.180"><path d="M-12-7L-2-8L3-3L9-14L15-12L10 2L14 11L18 18L-3 19L0 10L-2 3L-12-1ZM24-10L34 2L24 14L14 2Z" fill="#fff"/><ellipse cx="11" cy="3" rx="27" ry="17" fill="#fff" fill-opacity=".2"/></g><g transform="translate(795.1 255.9) scale(1.1)" opacity="0.264"><path d="M-12-7L-2-8L3-3L9-14L15-12L10 2L14 11L18 18L-3 19L0 10L-2 3L-12-1ZM24-10L34 2L24 14L14 2Z" fill="#fff"/><ellipse cx="11" cy="3" rx="27" ry="17" fill="#fff" fill-opacity=".2"/></g><g transform="translate(795.1 306.9) scale(1.1)" opacity="0.337"><path d="M-12-7L-2-8L3-3L9-14L15-12L10 2L14 11L18 18L-3 19L0 10L-2 3L-12-1ZM24-10L34 2L24 14L14 2Z" fill="#fff"/><ellipse cx="11" cy="3" rx="27" ry="17" fill="#fff" fill-opacity=".2"/></g><g transform="translate(795.1 357.9) scale(1.1)" opacity="0.387"><path d="M-12-7L-2-8L3-3L9-14L15-12L10 2L14 11L18 18L-3 19L0 10L-2 3L-12-1ZM24-10L34 2L24 14L14 2Z" fill="#fff"/><ellipse cx="11" cy="3" rx="27" ry="17" fill="#fff" fill-opacity=".2"/></g><g transform="translate(795.1 408.9) scale(1.1)" opacity="0.412"><path d="M-12-7L-2-8L3-3L9-14L15-12L10 2L14 11L18 18L-3 19L0 10L-2 3L-12-1ZM24-10L34 2L24 14L14 2Z" fill="#fff"/><ellipse cx="11" cy="3" rx="27" ry="17" fill="#fff" fill-opacity=".2"/></g><g transform="translate(795.1 459.9) scale(1.1)" opacity="0.418"><path d="M-12-7L-2-8L3-3L9-14L15-12L10 2L14 11L18 18L-3 19L0 10L-2 3L-12-1ZM24-10L34 2L24 14L14 2Z" fill="#fff"/><ellipse cx="11" cy="3" rx="27" ry="17" fill="#fff" fill-opacity=".2"/></g><g transform="translate(795.1 510.9) scale(1.1)" opacity="0.415"><path d="M-12-7L-2-8L3-3L9-14L15-12L10 2L14 11L18 18L-3 19L0 10L-2 3L-12-1ZM24-10L34 2L24 14L14 2Z" fill="#fff"/><ellipse cx="11" cy="3" rx="27" ry="17" fill="#fff" fill-opacity=".2"/></g><g transform="translate(795.1 561.9) scale(1.1)" opacity="0.396"><path d="M-12-7L-2-8L3-3L9-14L15-12L10 2L14 11L18 18L-3 19L0 10L-2 3L-12-1ZM24-10L34 2L24 14L14 2Z" fill="#fff"/><ellipse cx="11" cy="3" rx="27" ry="17" fill="#fff" fill-opacity=".2"/></g><g transform="translate(795.1 612.9) scale(1.1)" opacity="0.353"><path d="M-12-7L-2-8L3-3L9-14L15-12L10 2L14 11L18 18L-3 19L0 10L-2 3L-12-1ZM24-10L34 2L24 14L14 2Z" fill="#fff"/><ellipse cx="11" cy="3" rx="27" ry="17" fill="#fff" fill-opacity=".2"/></g><g transform="translate(795.1 663.9) scale(1.1)" opacity="0.286"><path d="M-12-7L-2-8L3-3L9-14L15-12L10 2L14 11L18 18L-3 19L0 10L-2 3L-12-1ZM24-10L34 2L24 14L14 2Z" fill="#fff"/><ellipse cx="11" cy="3" rx="27" ry="17" fill="#fff" fill-opacity=".2"/></g><g transform="translate(795.1 714.9) scale(1.1)" opacity="0.204"><path d="M-12-7L-2-8L3-3L9-14L15-12L10 2L14 11L18 18L-3 19L0 10L-2 3L-12-1ZM24-10L34 2L24 14L14 2Z" fill="#fff"/><ellipse cx="11" cy="3" rx="27" ry="17" fill="#fff" fill-opacity=".2"/></g><g transform="translate(795.1 765.9) scale(1.1)" opacity="0.124"><path d="M-12-7L-2-8L3-3L9-14L15-12L10 2L14 11L18 18L-3 19L0 10L-2 3L-12-1ZM24-10L34 2L24 14L14 2Z" fill="#fff"/><ellipse cx="11" cy="3" rx="27" ry="17" fill="#fff" fill-opacity=".2"/></g><g transform="translate(795.1 816.9) scale(1.1)" opacity="0.063"><path d="M-12-7L-2-8L3-3L9-14L15-12L10 2L14 11L18 18L-3 19L0 10L-2 3L-12-1ZM24-10L34 2L24 14L14 2Z" fill="#fff"/><ellipse cx="11" cy="3" rx="27" ry="17" fill="#fff" fill-opacity=".2"/></g><g transform="translate(795.1 867.9) scale(1.1)" opacity="0.026"><path d="M-12-7L-2-8L3-3L9-14L15-12L10 2L14 11L18 18L-3 19L0 10L-2 3L-12-1ZM24-10L34 2L24 14L14 2Z" fill="#fff"/><ellipse cx="11" cy="3" rx="27" ry="17" fill="#fff" fill-opacity=".2"/></g><g transform="translate(795.1 918.9) scale(1.1)" opacity="0.008"><path d="M-12-7L-2-8L3-3L9-14L15-12L10 2L14 11L18 18L-3 19L0 10L-2 3L-12-1ZM24-10L34 2L24 14L14 2Z" fill="#fff"/><ellipse cx="11" cy="3" rx="27" ry="17" fill="#fff" fill-opacity=".2"/></g><g transform="translate(852.0 51.9) scale(1.1)" opacity="0.019"><path d="M-12-7L-2-8L3-3L9-14L15-12L10 2L14 11L18 18L-3 19L0 10L-2 3L-12-1ZM24-10L34 2L24 14L14 2Z" fill="#fff"/><ellipse cx="11" cy="3" rx="27" ry="17" fill="#fff" fill-opacity=".2"/></g><g transform="translate(852.0 102.9) scale(1.1)" opacity="0.050"><path d="M-12-7L-2-8L3-3L9-14L15-12L10 2L14 11L18 18L-3 19L0 10L-2 3L-12-1ZM24-10L34 2L24 14L14 2Z" fill="#fff"/><ellipse cx="11" cy="3" rx="27" ry="17" fill="#fff" fill-opacity=".2"/></g><g transform="translate(852.0 153.9) scale(1.1)" opacity="0.104"><path d="M-12-7L-2-8L3-3L9-14L15-12L10 2L14 11L18 18L-3 19L0 10L-2 3L-12-1ZM24-10L34 2L24 14L14 2Z" fill="#fff"/><ellipse cx="11" cy="3" rx="27" ry="17" fill="#fff" fill-opacity=".2"/></g><g transform="translate(852.0 204.9) scale(1.1)" opacity="0.179"><path d="M-12-7L-2-8L3-3L9-14L15-12L10 2L14 11L18 18L-3 19L0 10L-2 3L-12-1ZM24-10L34 2L24 14L14 2Z" fill="#fff"/><ellipse cx="11" cy="3" rx="27" ry="17" fill="#fff" fill-opacity=".2"/></g><g transform="translate(852.0 255.9) scale(1.1)" opacity="0.261"><path d="M-12-7L-2-8L3-3L9-14L15-12L10 2L14 11L18 18L-3 19L0 10L-2 3L-12-1ZM24-10L34 2L24 14L14 2Z" fill="#fff"/><ellipse cx="11" cy="3" rx="27" ry="17" fill="#fff" fill-opacity=".2"/></g><g transform="translate(852.0 306.9) scale(1.1)" opacity="0.333"><path d="M-12-7L-2-8L3-3L9-14L15-12L10 2L14 11L18 18L-3 19L0 10L-2 3L-12-1ZM24-10L34 2L24 14L14 2Z" fill="#fff"/><ellipse cx="11" cy="3" rx="27" ry="17" fill="#fff" fill-opacity=".2"/></g><g transform="translate(852.0 357.9) scale(1.1)" opacity="0.382"><path d="M-12-7L-2-8L3-3L9-14L15-12L10 2L14 11L18 18L-3 19L0 10L-2 3L-12-1ZM24-10L34 2L24 14L14 2Z" fill="#fff"/><ellipse cx="11" cy="3" rx="27" ry="17" fill="#fff" fill-opacity=".2"/></g><g transform="translate(852.0 408.9) scale(1.1)" opacity="0.406"><path d="M-12-7L-2-8L3-3L9-14L15-12L10 2L14 11L18 18L-3 19L0 10L-2 3L-12-1ZM24-10L34 2L24 14L14 2Z" fill="#fff"/><ellipse cx="11" cy="3" rx="27" ry="17" fill="#fff" fill-opacity=".2"/></g><g transform="translate(852.0 459.9) scale(1.1)" opacity="0.412"><path d="M-12-7L-2-8L3-3L9-14L15-12L10 2L14 11L18 18L-3 19L0 10L-2 3L-12-1ZM24-10L34 2L24 14L14 2Z" fill="#fff"/><ellipse cx="11" cy="3" rx="27" ry="17" fill="#fff" fill-opacity=".2"/></g><g transform="translate(852.0 510.9) scale(1.1)" opacity="0.409"><path d="M-12-7L-2-8L3-3L9-14L15-12L10 2L14 11L18 18L-3 19L0 10L-2 3L-12-1ZM24-10L34 2L24 14L14 2Z" fill="#fff"/><ellipse cx="11" cy="3" rx="27" ry="17" fill="#fff" fill-opacity=".2"/></g><g transform="translate(852.0 561.9) scale(1.1)" opacity="0.391"><path d="M-12-7L-2-8L3-3L9-14L15-12L10 2L14 11L18 18L-3 19L0 10L-2 3L-12-1ZM24-10L34 2L24 14L14 2Z" fill="#fff"/><ellipse cx="11" cy="3" rx="27" ry="17" fill="#fff" fill-opacity=".2"/></g><g transform="translate(852.0 612.9) scale(1.1)" opacity="0.349"><path d="M-12-7L-2-8L3-3L9-14L15-12L10 2L14 11L18 18L-3 19L0 10L-2 3L-12-1ZM24-10L34 2L24 14L14 2Z" fill="#fff"/><ellipse cx="11" cy="3" rx="27" ry="17" fill="#fff" fill-opacity=".2"/></g><g transform="translate(852.0 663.9) scale(1.1)" opacity="0.283"><path d="M-12-7L-2-8L3-3L9-14L15-12L10 2L14 11L18 18L-3 19L0 10L-2 3L-12-1ZM24-10L34 2L24 14L14 2Z" fill="#fff"/><ellipse cx="11" cy="3" rx="27" ry="17" fill="#fff" fill-opacity=".2"/></g><g transform="translate(852.0 714.9) scale(1.1)" opacity="0.202"><path d="M-12-7L-2-8L3-3L9-14L15-12L10 2L14 11L18 18L-3 19L0 10L-2 3L-12-1ZM24-10L34 2L24 14L14 2Z" fill="#fff"/><ellipse cx="11" cy="3" rx="27" ry="17" fill="#fff" fill-opacity=".2"/></g><g transform="translate(852.0 765.9) scale(1.1)" opacity="0.123"><path d="M-12-7L-2-8L3-3L9-14L15-12L10 2L14 11L18 18L-3 19L0 10L-2 3L-12-1ZM24-10L34 2L24 14L14 2Z" fill="#fff"/><ellipse cx="11" cy="3" rx="27" ry="17" fill="#fff" fill-opacity=".2"/></g><g transform="translate(852.0 816.9) scale(1.1)" opacity="0.063"><path d="M-12-7L-2-8L3-3L9-14L15-12L10 2L14 11L18 18L-3 19L0 10L-2 3L-12-1ZM24-10L34 2L24 14L14 2Z" fill="#fff"/><ellipse cx="11" cy="3" rx="27" ry="17" fill="#fff" fill-opacity=".2"/></g><g transform="translate(852.0 867.9) scale(1.1)" opacity="0.026"><path d="M-12-7L-2-8L3-3L9-14L15-12L10 2L14 11L18 18L-3 19L0 10L-2 3L-12-1ZM24-10L34 2L24 14L14 2Z" fill="#fff"/><ellipse cx="11" cy="3" rx="27" ry="17" fill="#fff" fill-opacity=".2"/></g><g transform="translate(852.0 918.9) scale(1.1)" opacity="0.008"><path d="M-12-7L-2-8L3-3L9-14L15-12L10 2L14 11L18 18L-3 19L0 10L-2 3L-12-1ZM24-10L34 2L24 14L14 2Z" fill="#fff"/><ellipse cx="11" cy="3" rx="27" ry="17" fill="#fff" fill-opacity=".2"/></g><g transform="translate(908.8 51.9) scale(1.1)" opacity="0.019"><path d="M-12-7L-2-8L3-3L9-14L15-12L10 2L14 11L18 18L-3 19L0 10L-2 3L-12-1ZM24-10L34 2L24 14L14 2Z" fill="#fff"/><ellipse cx="11" cy="3" rx="27" ry="17" fill="#fff" fill-opacity=".2"/></g><g transform="translate(908.8 102.9) scale(1.1)" opacity="0.049"><path d="M-12-7L-2-8L3-3L9-14L15-12L10 2L14 11L18 18L-3 19L0 10L-2 3L-12-1ZM24-10L34 2L24 14L14 2Z" fill="#fff"/><ellipse cx="11" cy="3" rx="27" ry="17" fill="#fff" fill-opacity=".2"/></g><g transform="translate(908.8 153.9) scale(1.1)" opacity="0.102"><path d="M-12-7L-2-8L3-3L9-14L15-12L10 2L14 11L18 18L-3 19L0 10L-2 3L-12-1ZM24-10L34 2L24 14L14 2Z" fill="#fff"/><ellipse cx="11" cy="3" rx="27" ry="17" fill="#fff" fill-opacity=".2"/></g><g transform="translate(908.8 204.9) scale(1.1)" opacity="0.175"><path d="M-12-7L-2-8L3-3L9-14L15-12L10 2L14 11L18 18L-3 19L0 10L-2 3L-12-1ZM24-10L34 2L24 14L14 2Z" fill="#fff"/><ellipse cx="11" cy="3" rx="27" ry="17" fill="#fff" fill-opacity=".2"/></g><g transform="translate(908.8 255.9) scale(1.1)" opacity="0.254"><path d="M-12-7L-2-8L3-3L9-14L15-12L10 2L14 11L18 18L-3 19L0 10L-2 3L-12-1ZM24-10L34 2L24 14L14 2Z" fill="#fff"/><ellipse cx="11" cy="3" rx="27" ry="17" fill="#fff" fill-opacity=".2"/></g><g transform="translate(908.8 306.9) scale(1.1)" opacity="0.323"><path d="M-12-7L-2-8L3-3L9-14L15-12L10 2L14 11L18 18L-3 19L0 10L-2 3L-12-1ZM24-10L34 2L24 14L14 2Z" fill="#fff"/><ellipse cx="11" cy="3" rx="27" ry="17" fill="#fff" fill-opacity=".2"/></g><g transform="translate(908.8 357.9) scale(1.1)" opacity="0.369"><path d="M-12-7L-2-8L3-3L9-14L15-12L10 2L14 11L18 18L-3 19L0 10L-2 3L-12-1ZM24-10L34 2L24 14L14 2Z" fill="#fff"/><ellipse cx="11" cy="3" rx="27" ry="17" fill="#fff" fill-opacity=".2"/></g><g transform="translate(908.8 408.9) scale(1.1)" opacity="0.392"><path d="M-12-7L-2-8L3-3L9-14L15-12L10 2L14 11L18 18L-3 19L0 10L-2 3L-12-1ZM24-10L34 2L24 14L14 2Z" fill="#fff"/><ellipse cx="11" cy="3" rx="27" ry="17" fill="#fff" fill-opacity=".2"/></g><g transform="translate(908.8 459.9) scale(1.1)" opacity="0.398"><path d="M-12-7L-2-8L3-3L9-14L15-12L10 2L14 11L18 18L-3 19L0 10L-2 3L-12-1ZM24-10L34 2L24 14L14 2Z" fill="#fff"/><ellipse cx="11" cy="3" rx="27" ry="17" fill="#fff" fill-opacity=".2"/></g><g transform="translate(908.8 510.9) scale(1.1)" opacity="0.395"><path d="M-12-7L-2-8L3-3L9-14L15-12L10 2L14 11L18 18L-3 19L0 10L-2 3L-12-1ZM24-10L34 2L24 14L14 2Z" fill="#fff"/><ellipse cx="11" cy="3" rx="27" ry="17" fill="#fff" fill-opacity=".2"/></g><g transform="translate(908.8 561.9) scale(1.1)" opacity="0.378"><path d="M-12-7L-2-8L3-3L9-14L15-12L10 2L14 11L18 18L-3 19L0 10L-2 3L-12-1ZM24-10L34 2L24 14L14 2Z" fill="#fff"/><ellipse cx="11" cy="3" rx="27" ry="17" fill="#fff" fill-opacity=".2"/></g><g transform="translate(908.8 612.9) scale(1.1)" opacity="0.338"><path d="M-12-7L-2-8L3-3L9-14L15-12L10 2L14 11L18 18L-3 19L0 10L-2 3L-12-1ZM24-10L34 2L24 14L14 2Z" fill="#fff"/><ellipse cx="11" cy="3" rx="27" ry="17" fill="#fff" fill-opacity=".2"/></g><g transform="translate(908.8 663.9) scale(1.1)" opacity="0.275"><path d="M-12-7L-2-8L3-3L9-14L15-12L10 2L14 11L18 18L-3 19L0 10L-2 3L-12-1ZM24-10L34 2L24 14L14 2Z" fill="#fff"/><ellipse cx="11" cy="3" rx="27" ry="17" fill="#fff" fill-opacity=".2"/></g><g transform="translate(908.8 714.9) scale(1.1)" opacity="0.197"><path d="M-12-7L-2-8L3-3L9-14L15-12L10 2L14 11L18 18L-3 19L0 10L-2 3L-12-1ZM24-10L34 2L24 14L14 2Z" fill="#fff"/><ellipse cx="11" cy="3" rx="27" ry="17" fill="#fff" fill-opacity=".2"/></g><g transform="translate(908.8 765.9) scale(1.1)" opacity="0.121"><path d="M-12-7L-2-8L3-3L9-14L15-12L10 2L14 11L18 18L-3 19L0 10L-2 3L-12-1ZM24-10L34 2L24 14L14 2Z" fill="#fff"/><ellipse cx="11" cy="3" rx="27" ry="17" fill="#fff" fill-opacity=".2"/></g><g transform="translate(908.8 816.9) scale(1.1)" opacity="0.062"><path d="M-12-7L-2-8L3-3L9-14L15-12L10 2L14 11L18 18L-3 19L0 10L-2 3L-12-1ZM24-10L34 2L24 14L14 2Z" fill="#fff"/><ellipse cx="11" cy="3" rx="27" ry="17" fill="#fff" fill-opacity=".2"/></g><g transform="translate(908.8 867.9) scale(1.1)" opacity="0.025"><path d="M-12-7L-2-8L3-3L9-14L15-12L10 2L14 11L18 18L-3 19L0 10L-2 3L-12-1ZM24-10L34 2L24 14L14 2Z" fill="#fff"/><ellipse cx="11" cy="3" rx="27" ry="17" fill="#fff" fill-opacity=".2"/></g><g transform="translate(908.8 918.9) scale(1.1)" opacity="0.008"><path d="M-12-7L-2-8L3-3L9-14L15-12L10 2L14 11L18 18L-3 19L0 10L-2 3L-12-1ZM24-10L34 2L24 14L14 2Z" fill="#fff"/><ellipse cx="11" cy="3" rx="27" ry="17" fill="#fff" fill-opacity=".2"/></g><g transform="translate(965.7 51.9) scale(1.1)" opacity="0.018"><path d="M-12-7L-2-8L3-3L9-14L15-12L10 2L14 11L18 18L-3 19L0 10L-2 3L-12-1ZM24-10L34 2L24 14L14 2Z" fill="#fff"/><ellipse cx="11" cy="3" rx="27" ry="17" fill="#fff" fill-opacity=".2"/></g><g transform="translate(965.7 102.9) scale(1.1)" opacity="0.046"><path d="M-12-7L-2-8L3-3L9-14L15-12L10 2L14 11L18 18L-3 19L0 10L-2 3L-12-1ZM24-10L34 2L24 14L14 2Z" fill="#fff"/><ellipse cx="11" cy="3" rx="27" ry="17" fill="#fff" fill-opacity=".2"/></g><g transform="translate(965.7 153.9) scale(1.1)" opacity="0.094"><path d="M-12-7L-2-8L3-3L9-14L15-12L10 2L14 11L18 18L-3 19L0 10L-2 3L-12-1ZM24-10L34 2L24 14L14 2Z" fill="#fff"/><ellipse cx="11" cy="3" rx="27" ry="17" fill="#fff" fill-opacity=".2"/></g><g transform="translate(965.7 204.9) scale(1.1)" opacity="0.160"><path d="M-12-7L-2-8L3-3L9-14L15-12L10 2L14 11L18 18L-3 19L0 10L-2 3L-12-1ZM24-10L34 2L24 14L14 2Z" fill="#fff"/><ellipse cx="11" cy="3" rx="27" ry="17" fill="#fff" fill-opacity=".2"/></g><g transform="translate(965.7 255.9) scale(1.1)" opacity="0.232"><path d="M-12-7L-2-8L3-3L9-14L15-12L10 2L14 11L18 18L-3 19L0 10L-2 3L-12-1ZM24-10L34 2L24 14L14 2Z" fill="#fff"/><ellipse cx="11" cy="3" rx="27" ry="17" fill="#fff" fill-opacity=".2"/></g><g transform="translate(965.7 306.9) scale(1.1)" opacity="0.294"><path d="M-12-7L-2-8L3-3L9-14L15-12L10 2L14 11L18 18L-3 19L0 10L-2 3L-12-1ZM24-10L34 2L24 14L14 2Z" fill="#fff"/><ellipse cx="11" cy="3" rx="27" ry="17" fill="#fff" fill-opacity=".2"/></g><g transform="translate(965.7 357.9) scale(1.1)" opacity="0.335"><path d="M-12-7L-2-8L3-3L9-14L15-12L10 2L14 11L18 18L-3 19L0 10L-2 3L-12-1ZM24-10L34 2L24 14L14 2Z" fill="#fff"/><ellipse cx="11" cy="3" rx="27" ry="17" fill="#fff" fill-opacity=".2"/></g><g transform="translate(965.7 408.9) scale(1.1)" opacity="0.355"><path d="M-12-7L-2-8L3-3L9-14L15-12L10 2L14 11L18 18L-3 19L0 10L-2 3L-12-1ZM24-10L34 2L24 14L14 2Z" fill="#fff"/><ellipse cx="11" cy="3" rx="27" ry="17" fill="#fff" fill-opacity=".2"/></g><g transform="translate(965.7 459.9) scale(1.1)" opacity="0.360"><path d="M-12-7L-2-8L3-3L9-14L15-12L10 2L14 11L18 18L-3 19L0 10L-2 3L-12-1ZM24-10L34 2L24 14L14 2Z" fill="#fff"/><ellipse cx="11" cy="3" rx="27" ry="17" fill="#fff" fill-opacity=".2"/></g><g transform="translate(965.7 510.9) scale(1.1)" opacity="0.358"><path d="M-12-7L-2-8L3-3L9-14L15-12L10 2L14 11L18 18L-3 19L0 10L-2 3L-12-1ZM24-10L34 2L24 14L14 2Z" fill="#fff"/><ellipse cx="11" cy="3" rx="27" ry="17" fill="#fff" fill-opacity=".2"/></g><g transform="translate(965.7 561.9) scale(1.1)" opacity="0.343"><path d="M-12-7L-2-8L3-3L9-14L15-12L10 2L14 11L18 18L-3 19L0 10L-2 3L-12-1ZM24-10L34 2L24 14L14 2Z" fill="#fff"/><ellipse cx="11" cy="3" rx="27" ry="17" fill="#fff" fill-opacity=".2"/></g><g transform="translate(965.7 612.9) scale(1.1)" opacity="0.308"><path d="M-12-7L-2-8L3-3L9-14L15-12L10 2L14 11L18 18L-3 19L0 10L-2 3L-12-1ZM24-10L34 2L24 14L14 2Z" fill="#fff"/><ellipse cx="11" cy="3" rx="27" ry="17" fill="#fff" fill-opacity=".2"/></g><g transform="translate(965.7 663.9) scale(1.1)" opacity="0.251"><path d="M-12-7L-2-8L3-3L9-14L15-12L10 2L14 11L18 18L-3 19L0 10L-2 3L-12-1ZM24-10L34 2L24 14L14 2Z" fill="#fff"/><ellipse cx="11" cy="3" rx="27" ry="17" fill="#fff" fill-opacity=".2"/></g><g transform="translate(965.7 714.9) scale(1.1)" opacity="0.180"><path d="M-12-7L-2-8L3-3L9-14L15-12L10 2L14 11L18 18L-3 19L0 10L-2 3L-12-1ZM24-10L34 2L24 14L14 2Z" fill="#fff"/><ellipse cx="11" cy="3" rx="27" ry="17" fill="#fff" fill-opacity=".2"/></g><g transform="translate(965.7 765.9) scale(1.1)" opacity="0.111"><path d="M-12-7L-2-8L3-3L9-14L15-12L10 2L14 11L18 18L-3 19L0 10L-2 3L-12-1ZM24-10L34 2L24 14L14 2Z" fill="#fff"/><ellipse cx="11" cy="3" rx="27" ry="17" fill="#fff" fill-opacity=".2"/></g><g transform="translate(965.7 816.9) scale(1.1)" opacity="0.057"><path d="M-12-7L-2-8L3-3L9-14L15-12L10 2L14 11L18 18L-3 19L0 10L-2 3L-12-1ZM24-10L34 2L24 14L14 2Z" fill="#fff"/><ellipse cx="11" cy="3" rx="27" ry="17" fill="#fff" fill-opacity=".2"/></g><g transform="translate(965.7 867.9) scale(1.1)" opacity="0.023"><path d="M-12-7L-2-8L3-3L9-14L15-12L10 2L14 11L18 18L-3 19L0 10L-2 3L-12-1ZM24-10L34 2L24 14L14 2Z" fill="#fff"/><ellipse cx="11" cy="3" rx="27" ry="17" fill="#fff" fill-opacity=".2"/></g><g transform="translate(965.7 918.9) scale(1.1)" opacity="0.008"><path d="M-12-7L-2-8L3-3L9-14L15-12L10 2L14 11L18 18L-3 19L0 10L-2 3L-12-1ZM24-10L34 2L24 14L14 2Z" fill="#fff"/><ellipse cx="11" cy="3" rx="27" ry="17" fill="#fff" fill-opacity=".2"/></g><g transform="translate(1022.5 51.9) scale(1.1)" opacity="0.014"><path d="M-12-7L-2-8L3-3L9-14L15-12L10 2L14 11L18 18L-3 19L0 10L-2 3L-12-1ZM24-10L34 2L24 14L14 2Z" fill="#fff"/><ellipse cx="11" cy="3" rx="27" ry="17" fill="#fff" fill-opacity=".2"/></g><g transform="translate(1022.5 102.9) scale(1.1)" opacity="0.035"><path d="M-12-7L-2-8L3-3L9-14L15-12L10 2L14 11L18 18L-3 19L0 10L-2 3L-12-1ZM24-10L34 2L24 14L14 2Z" fill="#fff"/><ellipse cx="11" cy="3" rx="27" ry="17" fill="#fff" fill-opacity=".2"/></g><g transform="translate(1022.5 153.9) scale(1.1)" opacity="0.072"><path d="M-12-7L-2-8L3-3L9-14L15-12L10 2L14 11L18 18L-3 19L0 10L-2 3L-12-1ZM24-10L34 2L24 14L14 2Z" fill="#fff"/><ellipse cx="11" cy="3" rx="27" ry="17" fill="#fff" fill-opacity=".2"/></g><g transform="translate(1022.5 204.9) scale(1.1)" opacity="0.122"><path d="M-12-7L-2-8L3-3L9-14L15-12L10 2L14 11L18 18L-3 19L0 10L-2 3L-12-1ZM24-10L34 2L24 14L14 2Z" fill="#fff"/><ellipse cx="11" cy="3" rx="27" ry="17" fill="#fff" fill-opacity=".2"/></g><g transform="translate(1022.5 255.9) scale(1.1)" opacity="0.176"><path d="M-12-7L-2-8L3-3L9-14L15-12L10 2L14 11L18 18L-3 19L0 10L-2 3L-12-1ZM24-10L34 2L24 14L14 2Z" fill="#fff"/><ellipse cx="11" cy="3" rx="27" ry="17" fill="#fff" fill-opacity=".2"/></g><g transform="translate(1022.5 306.9) scale(1.1)" opacity="0.222"><path d="M-12-7L-2-8L3-3L9-14L15-12L10 2L14 11L18 18L-3 19L0 10L-2 3L-12-1ZM24-10L34 2L24 14L14 2Z" fill="#fff"/><ellipse cx="11" cy="3" rx="27" ry="17" fill="#fff" fill-opacity=".2"/></g><g transform="translate(1022.5 357.9) scale(1.1)" opacity="0.253"><path d="M-12-7L-2-8L3-3L9-14L15-12L10 2L14 11L18 18L-3 19L0 10L-2 3L-12-1ZM24-10L34 2L24 14L14 2Z" fill="#fff"/><ellipse cx="11" cy="3" rx="27" ry="17" fill="#fff" fill-opacity=".2"/></g><g transform="translate(1022.5 408.9) scale(1.1)" opacity="0.267"><path d="M-12-7L-2-8L3-3L9-14L15-12L10 2L14 11L18 18L-3 19L0 10L-2 3L-12-1ZM24-10L34 2L24 14L14 2Z" fill="#fff"/><ellipse cx="11" cy="3" rx="27" ry="17" fill="#fff" fill-opacity=".2"/></g><g transform="translate(1022.5 459.9) scale(1.1)" opacity="0.271"><path d="M-12-7L-2-8L3-3L9-14L15-12L10 2L14 11L18 18L-3 19L0 10L-2 3L-12-1ZM24-10L34 2L24 14L14 2Z" fill="#fff"/><ellipse cx="11" cy="3" rx="27" ry="17" fill="#fff" fill-opacity=".2"/></g><g transform="translate(1022.5 510.9) scale(1.1)" opacity="0.269"><path d="M-12-7L-2-8L3-3L9-14L15-12L10 2L14 11L18 18L-3 19L0 10L-2 3L-12-1ZM24-10L34 2L24 14L14 2Z" fill="#fff"/><ellipse cx="11" cy="3" rx="27" ry="17" fill="#fff" fill-opacity=".2"/></g><g transform="translate(1022.5 561.9) scale(1.1)" opacity="0.258"><path d="M-12-7L-2-8L3-3L9-14L15-12L10 2L14 11L18 18L-3 19L0 10L-2 3L-12-1ZM24-10L34 2L24 14L14 2Z" fill="#fff"/><ellipse cx="11" cy="3" rx="27" ry="17" fill="#fff" fill-opacity=".2"/></g><g transform="translate(1022.5 612.9) scale(1.1)" opacity="0.232"><path d="M-12-7L-2-8L3-3L9-14L15-12L10 2L14 11L18 18L-3 19L0 10L-2 3L-12-1ZM24-10L34 2L24 14L14 2Z" fill="#fff"/><ellipse cx="11" cy="3" rx="27" ry="17" fill="#fff" fill-opacity=".2"/></g><g transform="translate(1022.5 663.9) scale(1.1)" opacity="0.190"><path d="M-12-7L-2-8L3-3L9-14L15-12L10 2L14 11L18 18L-3 19L0 10L-2 3L-12-1ZM24-10L34 2L24 14L14 2Z" fill="#fff"/><ellipse cx="11" cy="3" rx="27" ry="17" fill="#fff" fill-opacity=".2"/></g><g transform="translate(1022.5 714.9) scale(1.1)" opacity="0.137"><path d="M-12-7L-2-8L3-3L9-14L15-12L10 2L14 11L18 18L-3 19L0 10L-2 3L-12-1ZM24-10L34 2L24 14L14 2Z" fill="#fff"/><ellipse cx="11" cy="3" rx="27" ry="17" fill="#fff" fill-opacity=".2"/></g><g transform="translate(1022.5 765.9) scale(1.1)" opacity="0.085"><path d="M-12-7L-2-8L3-3L9-14L15-12L10 2L14 11L18 18L-3 19L0 10L-2 3L-12-1ZM24-10L34 2L24 14L14 2Z" fill="#fff"/><ellipse cx="11" cy="3" rx="27" ry="17" fill="#fff" fill-opacity=".2"/></g><g transform="translate(1022.5 816.9) scale(1.1)" opacity="0.044"><path d="M-12-7L-2-8L3-3L9-14L15-12L10 2L14 11L18 18L-3 19L0 10L-2 3L-12-1ZM24-10L34 2L24 14L14 2Z" fill="#fff"/><ellipse cx="11" cy="3" rx="27" ry="17" fill="#fff" fill-opacity=".2"/></g><g transform="translate(1022.5 867.9) scale(1.1)" opacity="0.018"><path d="M-12-7L-2-8L3-3L9-14L15-12L10 2L14 11L18 18L-3 19L0 10L-2 3L-12-1ZM24-10L34 2L24 14L14 2Z" fill="#fff"/><ellipse cx="11" cy="3" rx="27" ry="17" fill="#fff" fill-opacity=".2"/></g><g transform="translate(1079.3 102.9) scale(1.1)" opacity="0.017"><path d="M-12-7L-2-8L3-3L9-14L15-12L10 2L14 11L18 18L-3 19L0 10L-2 3L-12-1ZM24-10L34 2L24 14L14 2Z" fill="#fff"/><ellipse cx="11" cy="3" rx="27" ry="17" fill="#fff" fill-opacity=".2"/></g><g transform="translate(1079.3 153.9) scale(1.1)" opacity="0.035"><path d="M-12-7L-2-8L3-3L9-14L15-12L10 2L14 11L18 18L-3 19L0 10L-2 3L-12-1ZM24-10L34 2L24 14L14 2Z" fill="#fff"/><ellipse cx="11" cy="3" rx="27" ry="17" fill="#fff" fill-opacity=".2"/></g><g transform="translate(1079.3 204.9) scale(1.1)" opacity="0.059"><path d="M-12-7L-2-8L3-3L9-14L15-12L10 2L14 11L18 18L-3 19L0 10L-2 3L-12-1ZM24-10L34 2L24 14L14 2Z" fill="#fff"/><ellipse cx="11" cy="3" rx="27" ry="17" fill="#fff" fill-opacity=".2"/></g><g transform="translate(1079.3 255.9) scale(1.1)" opacity="0.085"><path d="M-12-7L-2-8L3-3L9-14L15-12L10 2L14 11L18 18L-3 19L0 10L-2 3L-12-1ZM24-10L34 2L24 14L14 2Z" fill="#fff"/><ellipse cx="11" cy="3" rx="27" ry="17" fill="#fff" fill-opacity=".2"/></g><g transform="translate(1079.3 306.9) scale(1.1)" opacity="0.107"><path d="M-12-7L-2-8L3-3L9-14L15-12L10 2L14 11L18 18L-3 19L0 10L-2 3L-12-1ZM24-10L34 2L24 14L14 2Z" fill="#fff"/><ellipse cx="11" cy="3" rx="27" ry="17" fill="#fff" fill-opacity=".2"/></g><g transform="translate(1079.3 357.9) scale(1.1)" opacity="0.122"><path d="M-12-7L-2-8L3-3L9-14L15-12L10 2L14 11L18 18L-3 19L0 10L-2 3L-12-1ZM24-10L34 2L24 14L14 2Z" fill="#fff"/><ellipse cx="11" cy="3" rx="27" ry="17" fill="#fff" fill-opacity=".2"/></g><g transform="translate(1079.3 408.9) scale(1.1)" opacity="0.128"><path d="M-12-7L-2-8L3-3L9-14L15-12L10 2L14 11L18 18L-3 19L0 10L-2 3L-12-1ZM24-10L34 2L24 14L14 2Z" fill="#fff"/><ellipse cx="11" cy="3" rx="27" ry="17" fill="#fff" fill-opacity=".2"/></g><g transform="translate(1079.3 459.9) scale(1.1)" opacity="0.130"><path d="M-12-7L-2-8L3-3L9-14L15-12L10 2L14 11L18 18L-3 19L0 10L-2 3L-12-1ZM24-10L34 2L24 14L14 2Z" fill="#fff"/><ellipse cx="11" cy="3" rx="27" ry="17" fill="#fff" fill-opacity=".2"/></g><g transform="translate(1079.3 510.9) scale(1.1)" opacity="0.129"><path d="M-12-7L-2-8L3-3L9-14L15-12L10 2L14 11L18 18L-3 19L0 10L-2 3L-12-1ZM24-10L34 2L24 14L14 2Z" fill="#fff"/><ellipse cx="11" cy="3" rx="27" ry="17" fill="#fff" fill-opacity=".2"/></g><g transform="translate(1079.3 561.9) scale(1.1)" opacity="0.124"><path d="M-12-7L-2-8L3-3L9-14L15-12L10 2L14 11L18 18L-3 19L0 10L-2 3L-12-1ZM24-10L34 2L24 14L14 2Z" fill="#fff"/><ellipse cx="11" cy="3" rx="27" ry="17" fill="#fff" fill-opacity=".2"/></g><g transform="translate(1079.3 612.9) scale(1.1)" opacity="0.112"><path d="M-12-7L-2-8L3-3L9-14L15-12L10 2L14 11L18 18L-3 19L0 10L-2 3L-12-1ZM24-10L34 2L24 14L14 2Z" fill="#fff"/><ellipse cx="11" cy="3" rx="27" ry="17" fill="#fff" fill-opacity=".2"/></g><g transform="translate(1079.3 663.9) scale(1.1)" opacity="0.092"><path d="M-12-7L-2-8L3-3L9-14L15-12L10 2L14 11L18 18L-3 19L0 10L-2 3L-12-1ZM24-10L34 2L24 14L14 2Z" fill="#fff"/><ellipse cx="11" cy="3" rx="27" ry="17" fill="#fff" fill-opacity=".2"/></g><g transform="translate(1079.3 714.9) scale(1.1)" opacity="0.067"><path d="M-12-7L-2-8L3-3L9-14L15-12L10 2L14 11L18 18L-3 19L0 10L-2 3L-12-1ZM24-10L34 2L24 14L14 2Z" fill="#fff"/><ellipse cx="11" cy="3" rx="27" ry="17" fill="#fff" fill-opacity=".2"/></g><g transform="translate(1079.3 765.9) scale(1.1)" opacity="0.041"><path d="M-12-7L-2-8L3-3L9-14L15-12L10 2L14 11L18 18L-3 19L0 10L-2 3L-12-1ZM24-10L34 2L24 14L14 2Z" fill="#fff"/><ellipse cx="11" cy="3" rx="27" ry="17" fill="#fff" fill-opacity=".2"/></g><g transform="translate(1079.3 816.9) scale(1.1)" opacity="0.021"><path d="M-12-7L-2-8L3-3L9-14L15-12L10 2L14 11L18 18L-3 19L0 10L-2 3L-12-1ZM24-10L34 2L24 14L14 2Z" fill="#fff"/><ellipse cx="11" cy="3" rx="27" ry="17" fill="#fff" fill-opacity=".2"/></g><g transform="translate(1079.3 867.9) scale(1.1)" opacity="0.009"><path d="M-12-7L-2-8L3-3L9-14L15-12L10 2L14 11L18 18L-3 19L0 10L-2 3L-12-1ZM24-10L34 2L24 14L14 2Z" fill="#fff"/><ellipse cx="11" cy="3" rx="27" ry="17" fill="#fff" fill-opacity=".2"/></g><g transform="translate(1136.2 204.9) scale(1.1)" opacity="0.011"><path d="M-12-7L-2-8L3-3L9-14L15-12L10 2L14 11L18 18L-3 19L0 10L-2 3L-12-1ZM24-10L34 2L24 14L14 2Z" fill="#fff"/><ellipse cx="11" cy="3" rx="27" ry="17" fill="#fff" fill-opacity=".2"/></g><g transform="translate(1136.2 255.9) scale(1.1)" opacity="0.016"><path d="M-12-7L-2-8L3-3L9-14L15-12L10 2L14 11L18 18L-3 19L0 10L-2 3L-12-1ZM24-10L34 2L24 14L14 2Z" fill="#fff"/><ellipse cx="11" cy="3" rx="27" ry="17" fill="#fff" fill-opacity=".2"/></g><g transform="translate(1136.2 306.9) scale(1.1)" opacity="0.020"><path d="M-12-7L-2-8L3-3L9-14L15-12L10 2L14 11L18 18L-3 19L0 10L-2 3L-12-1ZM24-10L34 2L24 14L14 2Z" fill="#fff"/><ellipse cx="11" cy="3" rx="27" ry="17" fill="#fff" fill-opacity=".2"/></g><g transform="translate(1136.2 357.9) scale(1.1)" opacity="0.023"><path d="M-12-7L-2-8L3-3L9-14L15-12L10 2L14 11L18 18L-3 19L0 10L-2 3L-12-1ZM24-10L34 2L24 14L14 2Z" fill="#fff"/><ellipse cx="11" cy="3" rx="27" ry="17" fill="#fff" fill-opacity=".2"/></g><g transform="translate(1136.2 408.9) scale(1.1)" opacity="0.024"><path d="M-12-7L-2-8L3-3L9-14L15-12L10 2L14 11L18 18L-3 19L0 10L-2 3L-12-1ZM24-10L34 2L24 14L14 2Z" fill="#fff"/><ellipse cx="11" cy="3" rx="27" ry="17" fill="#fff" fill-opacity=".2"/></g><g transform="translate(1136.2 459.9) scale(1.1)" opacity="0.025"><path d="M-12-7L-2-8L3-3L9-14L15-12L10 2L14 11L18 18L-3 19L0 10L-2 3L-12-1ZM24-10L34 2L24 14L14 2Z" fill="#fff"/><ellipse cx="11" cy="3" rx="27" ry="17" fill="#fff" fill-opacity=".2"/></g><g transform="translate(1136.2 510.9) scale(1.1)" opacity="0.024"><path d="M-12-7L-2-8L3-3L9-14L15-12L10 2L14 11L18 18L-3 19L0 10L-2 3L-12-1ZM24-10L34 2L24 14L14 2Z" fill="#fff"/><ellipse cx="11" cy="3" rx="27" ry="17" fill="#fff" fill-opacity=".2"/></g><g transform="translate(1136.2 561.9) scale(1.1)" opacity="0.024"><path d="M-12-7L-2-8L3-3L9-14L15-12L10 2L14 11L18 18L-3 19L0 10L-2 3L-12-1ZM24-10L34 2L24 14L14 2Z" fill="#fff"/><ellipse cx="11" cy="3" rx="27" ry="17" fill="#fff" fill-opacity=".2"/></g><g transform="translate(1136.2 612.9) scale(1.1)" opacity="0.021"><path d="M-12-7L-2-8L3-3L9-14L15-12L10 2L14 11L18 18L-3 19L0 10L-2 3L-12-1ZM24-10L34 2L24 14L14 2Z" fill="#fff"/><ellipse cx="11" cy="3" rx="27" ry="17" fill="#fff" fill-opacity=".2"/></g><g transform="translate(1136.2 663.9) scale(1.1)" opacity="0.018"><path d="M-12-7L-2-8L3-3L9-14L15-12L10 2L14 11L18 18L-3 19L0 10L-2 3L-12-1ZM24-10L34 2L24 14L14 2Z" fill="#fff"/><ellipse cx="11" cy="3" rx="27" ry="17" fill="#fff" fill-opacity=".2"/></g><g transform="translate(1136.2 714.9) scale(1.1)" opacity="0.013"><path d="M-12-7L-2-8L3-3L9-14L15-12L10 2L14 11L18 18L-3 19L0 10L-2 3L-12-1ZM24-10L34 2L24 14L14 2Z" fill="#fff"/><ellipse cx="11" cy="3" rx="27" ry="17" fill="#fff" fill-opacity=".2"/></g><g transform="translate(1136.2 765.9) scale(1.1)" opacity="0.008"><path d="M-12-7L-2-8L3-3L9-14L15-12L10 2L14 11L18 18L-3 19L0 10L-2 3L-12-1ZM24-10L34 2L24 14L14 2Z" fill="#fff"/><ellipse cx="11" cy="3" rx="27" ry="17" fill="#fff" fill-opacity=".2"/></g></g>
<g filter="url(#b12)"><circle cx="397.1" cy="306.9" r="2.8" fill="#fff" opacity="0.075"/><circle cx="397.1" cy="357.9" r="2.8" fill="#fff" opacity="0.098"/><circle cx="397.1" cy="408.9" r="2.8" fill="#fff" opacity="0.112"/><circle cx="397.1" cy="459.9" r="2.8" fill="#fff" opacity="0.117"/><circle cx="397.1" cy="510.9" r="2.8" fill="#fff" opacity="0.114"/><circle cx="397.1" cy="561.9" r="2.8" fill="#fff" opacity="0.103"/><circle cx="397.1" cy="612.9" r="2.8" fill="#fff" opacity="0.082"/><circle cx="397.1" cy="663.9" r="2.8" fill="#fff" opacity="0.057"/><circle cx="454.0" cy="204.9" r="2.8" fill="#fff" opacity="0.085"/><circle cx="454.0" cy="255.9" r="2.8" fill="#fff" opacity="0.155"/><circle cx="454.0" cy="306.9" r="2.8" fill="#fff" opacity="0.236"/><circle cx="454.0" cy="357.9" r="2.8" fill="#fff" opacity="0.306"/><circle cx="454.0" cy="408.9" r="2.8" fill="#fff" opacity="0.351"/><circle cx="454.0" cy="459.9" r="2.8" fill="#fff" opacity="0.366"/><circle cx="454.0" cy="510.9" r="2.8" fill="#fff" opacity="0.358"/><circle cx="454.0" cy="561.9" r="2.8" fill="#fff" opacity="0.321"/><circle cx="454.0" cy="612.9" r="2.8" fill="#fff" opacity="0.257"/><circle cx="454.0" cy="663.9" r="2.8" fill="#fff" opacity="0.177"/><circle cx="454.0" cy="714.9" r="2.8" fill="#fff" opacity="0.102"/><circle cx="510.9" cy="153.9" r="2.8" fill="#fff" opacity="0.064"/><circle cx="510.9" cy="204.9" r="2.8" fill="#fff" opacity="0.147"/><circle cx="510.9" cy="255.9" r="2.8" fill="#fff" opacity="0.269"/><circle cx="510.9" cy="306.9" r="2.8" fill="#fff" opacity="0.409"/><circle cx="510.9" cy="357.9" r="2.8" fill="#fff" opacity="0.531"/><circle cx="510.9" cy="408.9" r="2.8" fill="#fff" opacity="0.609"/><circle cx="510.9" cy="459.9" r="2.8" fill="#fff" opacity="0.636"/><circle cx="510.9" cy="510.9" r="2.8" fill="#fff" opacity="0.621"/><circle cx="510.9" cy="561.9" r="2.8" fill="#fff" opacity="0.558"/><circle cx="510.9" cy="612.9" r="2.8" fill="#fff" opacity="0.446"/><circle cx="510.9" cy="663.9" r="2.8" fill="#fff" opacity="0.308"/><circle cx="510.9" cy="714.9" r="2.8" fill="#fff" opacity="0.178"/><circle cx="510.9" cy="765.9" r="2.8" fill="#fff" opacity="0.083"/><circle cx="567.7" cy="153.9" r="2.8" fill="#fff" opacity="0.084"/><circle cx="567.7" cy="204.9" r="2.8" fill="#fff" opacity="0.193"/><circle cx="567.7" cy="255.9" r="2.8" fill="#fff" opacity="0.354"/><circle cx="567.7" cy="306.9" r="2.8" fill="#fff" opacity="0.537"/><circle cx="567.7" cy="357.9" r="2.8" fill="#fff" opacity="0.698"/><circle cx="567.7" cy="408.9" r="2.8" fill="#fff" opacity="0.800"/><circle cx="567.7" cy="459.9" r="2.8" fill="#fff" opacity="0.836"/><circle cx="567.7" cy="510.9" r="2.8" fill="#fff" opacity="0.816"/><circle cx="567.7" cy="561.9" r="2.8" fill="#fff" opacity="0.733"/><circle cx="567.7" cy="612.9" r="2.8" fill="#fff" opacity="0.586"/><circle cx="567.7" cy="663.9" r="2.8" fill="#fff" opacity="0.405"/><circle cx="567.7" cy="714.9" r="2.8" fill="#fff" opacity="0.233"/><circle cx="567.7" cy="765.9" r="2.8" fill="#fff" opacity="0.109"/><circle cx="624.5" cy="153.9" r="2.8" fill="#fff" opacity="0.098"/><circle cx="624.5" cy="204.9" r="2.8" fill="#fff" opacity="0.223"/><circle cx="624.5" cy="255.9" r="2.8" fill="#fff" opacity="0.410"/><circle cx="624.5" cy="306.9" r="2.8" fill="#fff" opacity="0.622"/><circle cx="624.5" cy="357.9" r="2.8" fill="#fff" opacity="0.808"/><circle cx="624.5" cy="408.9" r="2.8" fill="#fff" opacity="0.926"/><circle cx="624.5" cy="459.9" r="2.8" fill="#fff" opacity="0.967"/><circle cx="624.5" cy="510.9" r="2.8" fill="#fff" opacity="0.945"/><circle cx="624.5" cy="561.9" r="2.8" fill="#fff" opacity="0.848"/><circle cx="624.5" cy="612.9" r="2.8" fill="#fff" opacity="0.679"/><circle cx="624.5" cy="663.9" r="2.8" fill="#fff" opacity="0.468"/><circle cx="624.5" cy="714.9" r="2.8" fill="#fff" opacity="0.270"/><circle cx="624.5" cy="765.9" r="2.8" fill="#fff" opacity="0.126"/><circle cx="681.4" cy="153.9" r="2.8" fill="#fff" opacity="0.106"/><circle cx="681.4" cy="204.9" r="2.8" fill="#fff" opacity="0.242"/><circle cx="681.4" cy="255.9" r="2.8" fill="#fff" opacity="0.444"/><circle cx="681.4" cy="306.9" r="2.8" fill="#fff" opacity="0.674"/><circle cx="681.4" cy="357.9" r="2.8" fill="#fff" opacity="0.875"/><circle cx="681.4" cy="408.9" r="2.8" fill="#fff" opacity="1.000"/><circle cx="681.4" cy="459.9" r="2.8" fill="#fff" opacity="1.000"/><circle cx="681.4" cy="510.9" r="2.8" fill="#fff" opacity="1.000"/><circle cx="681.4" cy="561.9" r="2.8" fill="#fff" opacity="0.919"/><circle cx="681.4" cy="612.9" r="2.8" fill="#fff" opacity="0.735"/><circle cx="681.4" cy="663.9" r="2.8" fill="#fff" opacity="0.507"/><circle cx="681.4" cy="714.9" r="2.8" fill="#fff" opacity="0.292"/><circle cx="681.4" cy="765.9" r="2.8" fill="#fff" opacity="0.136"/><circle cx="738.2" cy="153.9" r="2.8" fill="#fff" opacity="0.109"/><circle cx="738.2" cy="204.9" r="2.8" fill="#fff" opacity="0.249"/><circle cx="738.2" cy="255.9" r="2.8" fill="#fff" opacity="0.457"/><circle cx="738.2" cy="306.9" r="2.8" fill="#fff" opacity="0.694"/><circle cx="738.2" cy="357.9" r="2.8" fill="#fff" opacity="0.901"/><circle cx="738.2" cy="408.9" r="2.8" fill="#fff" opacity="1.000"/><circle cx="738.2" cy="459.9" r="2.8" fill="#fff" opacity="1.000"/><circle cx="738.2" cy="510.9" r="2.8" fill="#fff" opacity="1.000"/><circle cx="738.2" cy="561.9" r="2.8" fill="#fff" opacity="0.946"/><circle cx="738.2" cy="612.9" r="2.8" fill="#fff" opacity="0.757"/><circle cx="738.2" cy="663.9" r="2.8" fill="#fff" opacity="0.522"/><circle cx="738.2" cy="714.9" r="2.8" fill="#fff" opacity="0.301"/><circle cx="738.2" cy="765.9" r="2.8" fill="#fff" opacity="0.140"/><circle cx="738.2" cy="816.9" r="2.8" fill="#fff" opacity="0.051"/><circle cx="795.1" cy="153.9" r="2.8" fill="#fff" opacity="0.107"/><circle cx="795.1" cy="204.9" r="2.8" fill="#fff" opacity="0.245"/><circle cx="795.1" cy="255.9" r="2.8" fill="#fff" opacity="0.449"/><circle cx="795.1" cy="306.9" r="2.8" fill="#fff" opacity="0.681"/><circle cx="795.1" cy="357.9" r="2.8" fill="#fff" opacity="0.885"/><circle cx="795.1" cy="408.9" r="2.8" fill="#fff" opacity="1.000"/><circle cx="795.1" cy="459.9" r="2.8" fill="#fff" opacity="1.000"/><circle cx="795.1" cy="510.9" r="2.8" fill="#fff" opacity="1.000"/><circle cx="795.1" cy="561.9" r="2.8" fill="#fff" opacity="0.929"/><circle cx="795.1" cy="612.9" r="2.8" fill="#fff" opacity="0.743"/><circle cx="795.1" cy="663.9" r="2.8" fill="#fff" opacity="0.513"/><circle cx="795.1" cy="714.9" r="2.8" fill="#fff" opacity="0.296"/><circle cx="795.1" cy="765.9" r="2.8" fill="#fff" opacity="0.138"/><circle cx="795.1" cy="816.9" r="2.8" fill="#fff" opacity="0.050"/><circle cx="852.0" cy="153.9" r="2.8" fill="#fff" opacity="0.100"/><circle cx="852.0" cy="204.9" r="2.8" fill="#fff" opacity="0.229"/><circle cx="852.0" cy="255.9" r="2.8" fill="#fff" opacity="0.419"/><circle cx="852.0" cy="306.9" r="2.8" fill="#fff" opacity="0.637"/><circle cx="852.0" cy="357.9" r="2.8" fill="#fff" opacity="0.827"/><circle cx="852.0" cy="408.9" r="2.8" fill="#fff" opacity="0.948"/><circle cx="852.0" cy="459.9" r="2.8" fill="#fff" opacity="0.991"/><circle cx="852.0" cy="510.9" r="2.8" fill="#fff" opacity="0.968"/><circle cx="852.0" cy="561.9" r="2.8" fill="#fff" opacity="0.869"/><circle cx="852.0" cy="612.9" r="2.8" fill="#fff" opacity="0.695"/><circle cx="852.0" cy="663.9" r="2.8" fill="#fff" opacity="0.480"/><circle cx="852.0" cy="714.9" r="2.8" fill="#fff" opacity="0.276"/><circle cx="852.0" cy="765.9" r="2.8" fill="#fff" opacity="0.129"/><circle cx="908.8" cy="153.9" r="2.8" fill="#fff" opacity="0.088"/><circle cx="908.8" cy="204.9" r="2.8" fill="#fff" opacity="0.201"/><circle cx="908.8" cy="255.9" r="2.8" fill="#fff" opacity="0.369"/><circle cx="908.8" cy="306.9" r="2.8" fill="#fff" opacity="0.561"/><circle cx="908.8" cy="357.9" r="2.8" fill="#fff" opacity="0.728"/><circle cx="908.8" cy="408.9" r="2.8" fill="#fff" opacity="0.835"/><circle cx="908.8" cy="459.9" r="2.8" fill="#fff" opacity="0.872"/><circle cx="908.8" cy="510.9" r="2.8" fill="#fff" opacity="0.852"/><circle cx="908.8" cy="561.9" r="2.8" fill="#fff" opacity="0.765"/><circle cx="908.8" cy="612.9" r="2.8" fill="#fff" opacity="0.612"/><circle cx="908.8" cy="663.9" r="2.8" fill="#fff" opacity="0.422"/><circle cx="908.8" cy="714.9" r="2.8" fill="#fff" opacity="0.243"/><circle cx="908.8" cy="765.9" r="2.8" fill="#fff" opacity="0.114"/><circle cx="965.7" cy="153.9" r="2.8" fill="#fff" opacity="0.070"/><circle cx="965.7" cy="204.9" r="2.8" fill="#fff" opacity="0.159"/><circle cx="965.7" cy="255.9" r="2.8" fill="#fff" opacity="0.292"/><circle cx="965.7" cy="306.9" r="2.8" fill="#fff" opacity="0.444"/><circle cx="965.7" cy="357.9" r="2.8" fill="#fff" opacity="0.577"/><circle cx="965.7" cy="408.9" r="2.8" fill="#fff" opacity="0.661"/><circle cx="965.7" cy="459.9" r="2.8" fill="#fff" opacity="0.691"/><circle cx="965.7" cy="510.9" r="2.8" fill="#fff" opacity="0.675"/><circle cx="965.7" cy="561.9" r="2.8" fill="#fff" opacity="0.606"/><circle cx="965.7" cy="612.9" r="2.8" fill="#fff" opacity="0.485"/><circle cx="965.7" cy="663.9" r="2.8" fill="#fff" opacity="0.334"/><circle cx="965.7" cy="714.9" r="2.8" fill="#fff" opacity="0.193"/><circle cx="965.7" cy="765.9" r="2.8" fill="#fff" opacity="0.090"/><circle cx="1022.5" cy="204.9" r="2.8" fill="#fff" opacity="0.100"/><circle cx="1022.5" cy="255.9" r="2.8" fill="#fff" opacity="0.184"/><circle cx="1022.5" cy="306.9" r="2.8" fill="#fff" opacity="0.279"/><circle cx="1022.5" cy="357.9" r="2.8" fill="#fff" opacity="0.362"/><circle cx="1022.5" cy="408.9" r="2.8" fill="#fff" opacity="0.415"/><circle cx="1022.5" cy="459.9" r="2.8" fill="#fff" opacity="0.434"/><circle cx="1022.5" cy="510.9" r="2.8" fill="#fff" opacity="0.424"/><circle cx="1022.5" cy="561.9" r="2.8" fill="#fff" opacity="0.381"/><circle cx="1022.5" cy="612.9" r="2.8" fill="#fff" opacity="0.304"/><circle cx="1022.5" cy="663.9" r="2.8" fill="#fff" opacity="0.210"/><circle cx="1022.5" cy="714.9" r="2.8" fill="#fff" opacity="0.121"/><circle cx="1022.5" cy="765.9" r="2.8" fill="#fff" opacity="0.057"/><circle cx="1079.3" cy="255.9" r="2.8" fill="#fff" opacity="0.070"/><circle cx="1079.3" cy="306.9" r="2.8" fill="#fff" opacity="0.107"/><circle cx="1079.3" cy="357.9" r="2.8" fill="#fff" opacity="0.139"/><circle cx="1079.3" cy="408.9" r="2.8" fill="#fff" opacity="0.159"/><circle cx="1079.3" cy="459.9" r="2.8" fill="#fff" opacity="0.166"/><circle cx="1079.3" cy="510.9" r="2.8" fill="#fff" opacity="0.162"/><circle cx="1079.3" cy="561.9" r="2.8" fill="#fff" opacity="0.146"/><circle cx="1079.3" cy="612.9" r="2.8" fill="#fff" opacity="0.116"/><circle cx="1079.3" cy="663.9" r="2.8" fill="#fff" opacity="0.080"/></g>
</g></g>
<path d="M257.8 32.4V901.7M255.5 899.4H1237M260 754.7h15.5M260 634.7h15.5M260 514.7h15.5M260 394.7h15.5M260 274.7h15.5M260 154.7h15.5M260 34.7h15.5M377.5 897v-16.5M497.5 897v-16.5M617.5 897v-16.5M737.5 897v-16.5M857.5 897v-16.5M977.5 897v-16.5M1097.5 897v-16.5M1217.5 897v-16.5" stroke="#fff" stroke-width="4.6" fill="none"/>
<g fill="#fff" font-size="50">
<text x="209.5" y="772.0" textLength="29.7" lengthAdjust="spacingAndGlyphs">2</text>
<text x="209.5" y="652.0" textLength="29.7" lengthAdjust="spacingAndGlyphs">4</text>
<text x="209.5" y="532.0" textLength="29.7" lengthAdjust="spacingAndGlyphs">6</text>
<text x="209.5" y="412.0" textLength="29.7" lengthAdjust="spacingAndGlyphs">8</text>
<text x="182.8" y="292.0" textLength="56.4" lengthAdjust="spacingAndGlyphs">10</text>
<text x="182.8" y="172.0" textLength="56.4" lengthAdjust="spacingAndGlyphs">12</text>
<text x="182.8" y="52.0" textLength="56.4" lengthAdjust="spacingAndGlyphs">14</text>
<text x="362.6" y="953.8" textLength="29.7" lengthAdjust="spacingAndGlyphs">2</text>
<text x="482.6" y="953.8" textLength="29.7" lengthAdjust="spacingAndGlyphs">4</text>
<text x="602.6" y="953.8" textLength="29.7" lengthAdjust="spacingAndGlyphs">6</text>
<text x="722.6" y="953.8" textLength="29.7" lengthAdjust="spacingAndGlyphs">8</text>
<text x="829.3" y="953.8" textLength="56.4" lengthAdjust="spacingAndGlyphs">10</text>
<text x="949.3" y="953.8" textLength="56.4" lengthAdjust="spacingAndGlyphs">12</text>
<text x="1069.3" y="953.8" textLength="56.4" lengthAdjust="spacingAndGlyphs">14</text>
<text x="1189.3" y="953.8" textLength="56.4" lengthAdjust="spacingAndGlyphs">16</text>
<text x="561" y="1002" font-size="51" textLength="369" lengthAdjust="spacingAndGlyphs"><tspan font-style="italic">x</tspan> direction/µm</text>
<text transform="translate(170.4 644.5) rotate(-90)" font-size="51" textLength="360" lengthAdjust="spacingAndGlyphs"><tspan font-style="italic">y</tspan> direction/µm</text>
</g>
<text x="4" y="95.3" font-size="60" textLength="79" lengthAdjust="spacingAndGlyphs">(a)</text>
</g>
<g id="ptr">
<clipPath id="ctr"><rect x="1286.2" y="8.0" width="531.5" height="496.3"/></clipPath>
<clipPath id="cL"><path d="M1326.8 249.5H1529.3V83.5H1784.0V415.5H1326.8Z"/></clipPath>
<g clip-path="url(#ctr)">
<g filter="url(#jb)"><rect x="1256.2" y="-22.0" width="591.5" height="556.3" fill="#0d0d0d"/><g transform="translate(1280.2 2.0) scale(6.0)" shape-rendering="crispEdges"><path fill="#040404" d="M0 76h4v1h-4zM0 77h6v1h-6zM0 78h7v1h-7zM0 79h8v1h-8zM0 80h9v2h-9zM0 82h10v1h-10zM0 83h11v2h-11z"/><path fill="#080808" d="M86 0h5v2h-5zM87 2h4v1h-4zM88 3h3v1h-3zM0 62h3v1h-3zM0 63h6v1h-6zM0 64h8v1h-8zM0 65h10v1h-10zM0 66h11v1h-11zM0 67h13v1h-13zM0 68h14v1h-14zM0 69h15v1h-15zM0 70h16v1h-16zM0 71h17v1h-17zM0 72h18v1h-18zM0 73h19v2h-19zM0 75h20v1h-20zM4 76h17v1h-17zM6 77h15v1h-15zM7 78h15v1h-15zM8 79h14v1h-14zM9 80h14v2h-14zM10 82h14v1h-14zM11 83h13v2h-13z"/><path fill="#0c0c0c" d="M80 0h6v2h-6zM81 2h6v1h-6zM82 3h6v1h-6zM82 4h9v1h-9zM83 5h8v1h-8zM84 6h7v1h-7zM85 7h6v1h-6zM86 8h5v1h-5zM87 9h4v1h-4zM88 10h3v1h-3zM90 11h1v1h-1zM0 42h1v1h-1zM0 43h5v1h-5zM0 44h11v1h-11zM0 45h17v1h-17zM0 46h20v1h-20zM0 47h21v1h-21zM0 48h22v2h-22zM0 50h23v1h-23zM0 51h24v1h-24zM0 52h25v3h-25zM0 55h26v2h-26zM0 57h27v4h-27zM0 61h28v1h-28zM3 62h25v1h-25zM6 63h22v1h-22zM8 64h20v1h-20zM10 65h18v1h-18zM11 66h17v1h-17zM13 67h15v1h-15zM14 68h15v1h-15zM15 69h14v1h-14zM16 70h13v1h-13zM17 71h13v1h-13zM18 72h12v1h-12zM19 73h12v2h-12zM20 75h11v1h-11zM21 76h11v2h-11zM22 78h11v2h-11zM23 80h10v2h-10zM24 82h10v3h-10z"/><path fill="#101010" d="M0 0h18v1h-18zM75 0h5v2h-5zM0 1h16v1h-16zM0 2h15v1h-15zM76 2h5v1h-5zM0 3h13v1h-13zM77 3h5v1h-5zM0 4h12v2h-12zM0 14h12v2h-12zM78 4h4v1h-4zM78 5h5v1h-5zM0 6h11v1h-11zM0 12h11v2h-11zM0 16h11v1h-11zM79 6h5v1h-5zM0 7h10v5h-10zM80 7h5v1h-5zM81 8h5v1h-5zM82 9h5v1h-5zM83 10h5v1h-5zM83 11h7v1h-7zM85 12h6v2h-6zM86 14h5v1h-5zM87 15h4v1h-4zM88 16h3v1h-3zM88 76h3v1h-3zM0 17h9v1h-9zM0 41h9v1h-9zM89 17h2v1h-2zM89 75h2v1h-2zM0 18h8v1h-8zM0 19h7v2h-7zM0 21h6v1h-6zM0 22h5v1h-5zM0 23h4v1h-4zM0 24h3v1h-3zM0 25h2v2h-2zM0 27h1v1h-1zM58 34h3v1h-3zM57 35h7v1h-7zM57 49h7v1h-7zM56 36h9v1h-9zM55 37h10v7h-10zM55 48h10v1h-10zM1 42h8v1h-8zM5 43h4v1h-4zM11 44h18v1h-18zM54 44h11v4h-11zM17 45h12v1h-12zM20 46h9v1h-9zM21 47h8v1h-8zM22 48h7v2h-7zM23 50h6v1h-6zM24 51h6v1h-6zM25 52h5v3h-5zM26 55h4v2h-4zM27 57h4v4h-4zM28 61h3v2h-3zM28 63h4v5h-4zM29 68h3v2h-3zM29 70h4v1h-4zM30 71h3v1h-3zM30 72h4v1h-4zM31 73h4v2h-4zM90 74h1v1h-1zM31 75h5v1h-5zM32 76h4v1h-4zM32 77h5v1h-5zM83 77h8v2h-8zM33 78h4v1h-4zM33 79h5v1h-5zM82 79h9v1h-9zM33 80h6v2h-6zM81 80h10v1h-10zM80 81h11v1h-11zM34 82h6v2h-6zM79 82h12v1h-12zM77 83h14v1h-14zM34 84h7v1h-7zM76 84h15v1h-15z"/><path fill="#141414" d="M18 0h27v1h-27zM69 0h6v1h-6zM16 1h27v1h-27zM70 1h5v1h-5zM15 2h27v1h-27zM71 2h5v1h-5zM13 3h28v1h-28zM72 3h5v1h-5zM12 4h28v1h-28zM73 4h5v1h-5zM12 5h27v1h-27zM74 5h4v1h-4zM11 6h27v1h-27zM75 6h4v1h-4zM10 7h27v1h-27zM76 7h4v1h-4zM10 8h26v1h-26zM77 8h4v1h-4zM10 9h20v1h-20zM78 9h4v1h-4zM10 10h15v1h-15zM79 10h4v1h-4zM10 11h13v1h-13zM80 11h3v1h-3zM11 12h11v1h-11zM81 12h4v1h-4zM11 13h9v1h-9zM82 13h3v1h-3zM12 14h7v1h-7zM83 14h3v1h-3zM12 15h6v1h-6zM84 15h3v1h-3zM11 16h6v1h-6zM85 16h3v1h-3zM9 17h6v1h-6zM86 17h3v1h-3zM8 18h6v1h-6zM87 18h4v1h-4zM87 71h4v1h-4zM7 19h6v1h-6zM88 19h3v1h-3zM88 68h3v3h-3zM7 20h5v1h-5zM89 20h2v1h-2zM89 67h2v1h-2zM6 21h5v1h-5zM90 21h1v1h-1zM90 66h1v1h-1zM5 22h6v1h-6zM4 23h6v1h-6zM3 24h6v1h-6zM2 25h6v1h-6zM2 26h5v1h-5zM1 27h6v1h-6zM0 28h6v1h-6zM0 29h5v2h-5zM0 31h4v1h-4zM0 32h3v2h-3zM58 32h4v1h-4zM57 33h7v1h-7zM0 34h2v2h-2zM56 34h2v1h-2zM61 34h5v1h-5zM55 35h2v1h-2zM64 35h3v1h-3zM0 36h1v2h-1zM54 36h2v1h-2zM65 36h2v6h-2zM54 37h1v2h-1zM53 39h2v5h-2zM53 48h2v1h-2zM65 42h1v7h-1zM29 44h2v7h-2zM53 44h1v4h-1zM54 49h3v1h-3zM64 49h2v1h-2zM55 50h10v1h-10zM30 51h1v1h-1zM59 51h3v1h-3zM30 52h2v5h-2zM31 57h1v1h-1zM31 58h2v5h-2zM32 63h1v3h-1zM32 66h2v4h-2zM33 70h2v1h-2zM33 71h3v1h-3zM34 72h2v1h-2zM86 72h5v1h-5zM35 73h2v1h-2zM83 73h8v1h-8zM35 74h3v1h-3zM82 74h8v1h-8zM36 75h2v1h-2zM81 75h8v1h-8zM36 76h3v1h-3zM80 76h8v1h-8zM37 77h3v1h-3zM78 77h5v1h-5zM37 78h4v1h-4zM77 78h6v1h-6zM38 79h4v1h-4zM75 79h7v1h-7zM39 80h3v1h-3zM73 80h8v1h-8zM39 81h4v1h-4zM71 81h9v1h-9zM40 82h4v1h-4zM69 82h10v1h-10zM40 83h5v1h-5zM67 83h10v1h-10zM41 84h5v1h-5zM64 84h12v1h-12z"/><path fill="#181818" d="M45 0h24v1h-24zM43 1h27v1h-27zM42 2h12v1h-12zM60 2h11v1h-11zM41 3h9v1h-9zM64 3h8v1h-8zM40 4h8v1h-8zM67 4h6v1h-6zM39 5h7v1h-7zM69 5h5v1h-5zM38 6h6v1h-6zM70 6h5v1h-5zM37 7h6v1h-6zM72 7h4v1h-4zM36 8h3v1h-3zM42 8h1v1h-1zM73 8h4v1h-4zM30 9h5v1h-5zM74 9h4v1h-4zM25 10h7v1h-7zM75 10h4v1h-4zM23 11h7v1h-7zM77 11h3v1h-3zM22 12h6v1h-6zM78 12h3v1h-3zM20 13h6v1h-6zM79 13h3v1h-3zM79 74h3v1h-3zM19 14h6v1h-6zM80 14h3v1h-3zM80 73h3v1h-3zM18 15h5v1h-5zM81 15h3v1h-3zM17 16h5v1h-5zM82 16h3v1h-3zM15 17h6v1h-6zM83 17h3v1h-3zM14 18h6v1h-6zM85 18h2v1h-2zM13 19h5v1h-5zM86 19h2v1h-2zM86 68h2v2h-2zM12 20h5v1h-5zM87 20h2v1h-2zM87 67h2v1h-2zM11 21h5v2h-5zM88 21h2v1h-2zM88 66h2v1h-2zM88 22h3v1h-3zM10 23h5v1h-5zM89 23h2v1h-2zM89 65h2v1h-2zM9 24h5v1h-5zM90 24h1v1h-1zM90 63h1v2h-1zM8 25h5v1h-5zM7 26h5v2h-5zM6 28h5v1h-5zM5 29h5v2h-5zM4 31h5v1h-5zM57 31h6v1h-6zM3 32h5v2h-5zM56 32h2v1h-2zM62 32h3v1h-3zM62 51h3v1h-3zM55 33h2v1h-2zM64 33h3v1h-3zM2 34h5v2h-5zM54 34h2v1h-2zM66 34h1v1h-1zM66 42h1v8h-1zM54 35h1v1h-1zM67 35h1v7h-1zM1 36h5v2h-5zM53 36h1v2h-1zM0 38h6v1h-6zM52 38h2v1h-2zM52 49h2v1h-2zM0 39h5v2h-5zM52 39h1v6h-1zM52 47h1v2h-1zM31 44h2v8h-2zM51 45h2v2h-2zM53 50h2v1h-2zM65 50h2v1h-2zM55 51h4v1h-4zM32 52h1v5h-1zM59 52h3v1h-3zM32 57h2v1h-2zM33 58h1v5h-1zM33 63h2v3h-2zM34 66h1v3h-1zM34 69h2v1h-2zM35 70h1v1h-1zM85 70h3v1h-3zM36 71h1v1h-1zM83 71h4v1h-4zM36 72h2v1h-2zM82 72h4v1h-4zM37 73h2v1h-2zM38 74h2v2h-2zM77 75h4v1h-4zM39 76h2v1h-2zM75 76h5v1h-5zM40 77h2v1h-2zM73 77h5v1h-5zM41 78h2v1h-2zM71 78h6v1h-6zM42 79h2v1h-2zM68 79h7v1h-7zM42 80h3v1h-3zM66 80h7v1h-7zM43 81h4v1h-4zM63 81h8v1h-8zM44 82h6v1h-6zM60 82h9v1h-9zM45 83h22v1h-22zM46 84h18v1h-18z"/><path fill="#1c1c1c" d="M54 2h6v1h-6zM50 3h14v1h-14zM48 4h19v1h-19zM46 5h10v1h-10zM59 5h10v1h-10zM44 6h7v1h-7zM64 6h6v1h-6zM43 7h5v1h-5zM67 7h5v1h-5zM39 8h3v1h-3zM43 8h4v1h-4zM69 8h4v1h-4zM35 9h3v1h-3zM42 9h3v1h-3zM71 9h3v1h-3zM32 10h2v1h-2zM43 10h1v1h-1zM72 10h3v1h-3zM30 11h2v1h-2zM74 11h3v1h-3zM28 12h2v1h-2zM75 12h3v1h-3zM26 13h3v1h-3zM77 13h2v1h-2zM25 14h2v1h-2zM78 14h2v1h-2zM78 73h2v1h-2zM23 15h3v1h-3zM79 15h2v1h-2zM22 16h2v1h-2zM81 16h1v1h-1zM21 17h2v1h-2zM82 17h1v1h-1zM20 18h2v1h-2zM83 18h2v1h-2zM18 19h3v1h-3zM84 19h2v1h-2zM84 68h2v1h-2zM17 20h3v1h-3zM85 20h2v1h-2zM85 67h2v1h-2zM16 21h3v1h-3zM86 21h2v1h-2zM86 66h2v1h-2zM16 22h2v1h-2zM87 22h1v1h-1zM15 23h2v1h-2zM88 23h1v1h-1zM14 24h2v1h-2zM88 24h2v1h-2zM88 64h2v1h-2zM13 25h2v1h-2zM89 25h2v1h-2zM89 62h2v1h-2zM12 26h2v1h-2zM90 26h1v2h-1zM90 61h1v1h-1zM12 27h1v1h-1zM11 28h2v1h-2zM10 29h2v1h-2zM10 30h1v1h-1zM57 30h7v1h-7zM9 31h2v1h-2zM56 31h1v1h-1zM63 31h3v1h-3zM8 32h2v2h-2zM55 32h1v1h-1zM65 32h2v1h-2zM65 51h2v1h-2zM54 33h1v1h-1zM67 33h1v2h-1zM67 42h1v8h-1zM7 34h2v2h-2zM53 34h1v2h-1zM6 36h2v2h-2zM52 36h1v2h-1zM52 50h1v1h-1zM68 36h1v4h-1zM6 38h1v1h-1zM51 38h1v7h-1zM51 47h1v3h-1zM5 39h2v2h-2zM33 44h1v12h-1zM53 51h2v1h-2zM55 52h4v1h-4zM62 52h3v1h-3zM33 56h2v1h-2zM34 57h1v6h-1zM35 63h1v6h-1zM89 63h1v1h-1zM87 65h2v1h-2zM36 69h1v1h-1zM83 69h3v1h-3zM36 70h2v1h-2zM82 70h3v1h-3zM37 71h1v1h-1zM81 71h2v1h-2zM38 72h1v1h-1zM79 72h3v1h-3zM39 73h1v1h-1zM40 74h1v1h-1zM76 74h3v1h-3zM40 75h2v1h-2zM73 75h4v1h-4zM41 76h2v1h-2zM71 76h4v1h-4zM42 77h2v1h-2zM68 77h5v1h-5zM43 78h3v1h-3zM65 78h6v1h-6zM44 79h4v1h-4zM62 79h6v1h-6zM45 80h7v1h-7zM58 80h8v1h-8zM47 81h16v1h-16zM50 82h10v1h-10z"/><path fill="#202020" d="M56 5h3v1h-3zM51 6h13v1h-13zM48 7h19v1h-19zM47 8h5v1h-5zM63 8h6v1h-6zM38 9h3v1h-3zM45 9h4v1h-4zM66 9h5v1h-5zM34 10h3v1h-3zM42 10h1v1h-1zM44 10h3v1h-3zM44 77h3v1h-3zM69 10h3v1h-3zM32 11h3v1h-3zM42 11h3v1h-3zM71 11h3v1h-3zM30 12h3v1h-3zM42 12h2v1h-2zM42 75h2v1h-2zM73 12h2v1h-2zM29 13h2v1h-2zM75 13h2v1h-2zM27 14h2v1h-2zM75 14h3v1h-3zM75 73h3v1h-3zM26 15h2v1h-2zM77 15h2v1h-2zM77 72h2v1h-2zM24 16h2v1h-2zM79 16h2v1h-2zM79 71h2v1h-2zM23 17h2v1h-2zM80 17h2v1h-2zM22 18h2v1h-2zM81 18h2v1h-2zM21 19h2v1h-2zM82 19h2v1h-2zM20 20h2v1h-2zM83 20h2v1h-2zM19 21h2v1h-2zM85 21h1v1h-1zM85 66h1v1h-1zM18 22h2v1h-2zM85 22h2v1h-2zM17 23h2v1h-2zM86 23h2v1h-2zM16 24h2v1h-2zM87 24h1v1h-1zM87 64h1v1h-1zM15 25h2v1h-2zM88 25h1v1h-1zM88 62h1v1h-1zM14 26h2v1h-2zM88 26h2v1h-2zM13 27h2v2h-2zM89 27h1v1h-1zM89 61h1v1h-1zM90 28h1v2h-1zM90 58h1v2h-1zM12 29h2v1h-2zM58 29h6v1h-6zM11 30h2v2h-2zM56 30h1v1h-1zM64 30h2v1h-2zM55 31h1v1h-1zM66 31h1v1h-1zM10 32h2v2h-2zM54 32h1v1h-1zM67 32h1v1h-1zM67 50h1v2h-1zM53 33h1v1h-1zM68 33h1v3h-1zM68 40h1v3h-1zM68 44h1v5h-1zM9 34h2v2h-2zM52 34h1v2h-1zM52 51h1v1h-1zM8 36h2v2h-2zM51 37h1v1h-1zM51 50h1v1h-1zM7 38h2v2h-2zM50 39h1v10h-1zM7 40h1v1h-1zM34 44h1v12h-1zM53 52h2v1h-2zM65 52h2v1h-2zM56 53h8v1h-8zM35 57h1v6h-1zM89 60h2v1h-2zM87 63h2v1h-2zM36 65h1v4h-1zM86 65h1v1h-1zM84 67h1v1h-1zM83 68h1v1h-1zM37 69h1v1h-1zM82 69h1v1h-1zM38 70h1v1h-1zM81 70h1v1h-1zM38 71h2v1h-2zM39 72h2v1h-2zM40 73h2v1h-2zM41 74h2v1h-2zM72 74h4v1h-4zM69 75h4v1h-4zM43 76h2v1h-2zM67 76h4v1h-4zM63 77h5v1h-5zM46 78h4v1h-4zM60 78h5v1h-5zM48 79h14v1h-14zM52 80h6v1h-6z"/><path fill="#242424" d="M52 8h11v1h-11zM41 9h1v1h-1zM41 72h1v1h-1zM49 9h6v1h-6zM61 9h5v1h-5zM37 10h3v1h-3zM47 10h4v1h-4zM65 10h4v1h-4zM35 11h2v1h-2zM45 11h3v1h-3zM45 76h3v1h-3zM68 11h3v1h-3zM33 12h2v1h-2zM44 12h2v1h-2zM70 12h3v1h-3zM31 13h2v1h-2zM44 13h1v1h-1zM44 75h1v1h-1zM72 13h3v1h-3zM72 73h3v1h-3zM29 14h3v1h-3zM73 14h2v1h-2zM28 15h2v1h-2zM75 15h2v1h-2zM75 72h2v1h-2zM26 16h3v1h-3zM77 16h2v1h-2zM77 71h2v1h-2zM25 17h2v1h-2zM78 17h2v1h-2zM24 18h2v1h-2zM80 18h1v1h-1zM23 19h2v1h-2zM81 19h1v1h-1zM81 69h1v1h-1zM22 20h2v1h-2zM82 20h1v1h-1zM21 21h2v1h-2zM83 21h2v1h-2zM20 22h2v1h-2zM84 22h1v1h-1zM84 66h1v1h-1zM19 23h2v1h-2zM85 23h1v1h-1zM85 65h1v1h-1zM18 24h2v1h-2zM86 24h1v1h-1zM86 63h1v2h-1zM17 25h2v1h-2zM87 25h1v2h-1zM87 62h1v1h-1zM16 26h2v1h-2zM15 27h2v2h-2zM88 27h1v1h-1zM88 60h1v2h-1zM58 28h5v1h-5zM58 77h5v1h-5zM88 28h2v1h-2zM14 29h2v1h-2zM56 29h2v1h-2zM64 29h2v1h-2zM64 53h2v1h-2zM89 29h1v1h-1zM89 58h1v2h-1zM13 30h2v2h-2zM55 30h1v1h-1zM66 30h2v1h-2zM89 30h2v1h-2zM54 31h1v1h-1zM67 31h2v1h-2zM90 31h1v2h-1zM90 56h1v2h-1zM12 32h2v1h-2zM53 32h1v1h-1zM68 32h1v1h-1zM68 43h1v1h-1zM68 49h1v2h-1zM12 33h1v1h-1zM52 33h1v1h-1zM52 52h1v1h-1zM69 33h1v8h-1zM11 34h2v1h-2zM11 35h1v1h-1zM51 35h1v2h-1zM51 51h1v1h-1zM10 36h2v1h-2zM10 37h1v1h-1zM50 37h1v2h-1zM50 49h1v2h-1zM9 38h2v2h-2zM8 40h2v1h-2zM49 40h1v8h-1zM9 41h1v1h-1zM35 44h1v13h-1zM67 52h1v1h-1zM54 53h2v1h-2zM36 58h1v7h-1zM37 67h1v2h-1zM83 67h1v1h-1zM81 68h2v1h-2zM38 69h1v1h-1zM39 70h1v1h-1zM79 70h2v1h-2zM40 71h1v1h-1zM42 73h1v1h-1zM43 74h1v1h-1zM69 74h3v1h-3zM66 75h3v1h-3zM63 76h4v1h-4zM47 77h5v1h-5zM50 78h10v1h-10z"/><path fill="#282828" d="M55 9h6v1h-6zM40 10h2v1h-2zM51 10h5v1h-5zM60 10h5v1h-5zM37 11h3v1h-3zM48 11h3v1h-3zM64 11h4v1h-4zM35 12h3v1h-3zM46 12h3v1h-3zM68 12h2v1h-2zM33 13h3v1h-3zM45 13h2v1h-2zM70 13h2v1h-2zM32 14h2v1h-2zM44 14h2v1h-2zM71 14h2v1h-2zM30 15h2v1h-2zM73 15h2v1h-2zM29 16h2v1h-2zM75 16h2v1h-2zM75 71h2v1h-2zM27 17h2v1h-2zM76 17h2v1h-2zM26 18h2v1h-2zM78 18h2v1h-2zM25 19h2v1h-2zM79 19h2v1h-2zM79 69h2v1h-2zM24 20h2v1h-2zM81 20h1v1h-1zM23 21h2v1h-2zM82 21h1v1h-1zM22 22h2v1h-2zM83 22h1v1h-1zM83 66h1v1h-1zM21 23h2v1h-2zM84 23h1v1h-1zM84 65h1v1h-1zM20 24h2v1h-2zM85 24h1v1h-1zM85 63h1v2h-1zM19 25h2v1h-2zM86 25h1v2h-1zM86 62h1v1h-1zM18 26h2v1h-2zM17 27h2v1h-2zM59 27h2v1h-2zM87 27h1v2h-1zM87 60h1v2h-1zM17 28h1v1h-1zM57 28h1v1h-1zM63 28h3v1h-3zM63 75h3v1h-3zM16 29h2v1h-2zM55 29h1v1h-1zM66 29h2v1h-2zM88 29h1v2h-1zM88 58h1v2h-1zM15 30h2v2h-2zM54 30h1v1h-1zM68 30h1v1h-1zM68 51h1v1h-1zM53 31h1v1h-1zM53 53h1v1h-1zM69 31h1v2h-1zM69 41h1v2h-1zM69 44h1v5h-1zM89 31h1v2h-1zM89 56h1v2h-1zM14 32h2v1h-2zM52 32h1v1h-1zM13 33h2v2h-2zM90 33h1v3h-1zM90 53h1v3h-1zM51 34h1v1h-1zM51 52h1v1h-1zM12 35h2v2h-2zM50 36h1v1h-1zM50 51h1v1h-1zM11 37h2v2h-2zM49 38h1v2h-1zM49 48h1v2h-1zM11 39h1v1h-1zM10 40h2v2h-2zM9 42h2v2h-2zM36 44h1v2h-1zM36 54h1v4h-1zM48 45h1v1h-1zM66 53h1v1h-1zM56 54h8v1h-8zM37 61h1v6h-1zM81 67h2v1h-2zM38 68h1v1h-1zM80 68h1v1h-1zM77 70h2v1h-2zM42 72h1v1h-1zM72 72h3v1h-3zM43 73h1v1h-1zM69 73h3v1h-3zM44 74h1v1h-1zM66 74h3v1h-3zM45 75h3v1h-3zM48 76h4v1h-4zM57 76h6v1h-6zM52 77h6v1h-6z"/><path fill="#2d2d2d" d="M56 10h4v1h-4zM40 11h1v1h-1zM40 70h1v1h-1zM51 11h5v1h-5zM60 11h4v1h-4zM38 12h1v1h-1zM38 65h1v3h-1zM49 12h2v1h-2zM65 12h3v1h-3zM36 13h1v1h-1zM36 46h1v8h-1zM47 13h1v1h-1zM68 13h2v1h-2zM34 14h1v1h-1zM46 14h1v1h-1zM69 14h2v1h-2zM32 15h1v1h-1zM44 15h2v1h-2zM71 15h2v1h-2zM31 16h1v1h-1zM73 16h2v1h-2zM73 71h2v1h-2zM29 17h1v1h-1zM74 17h2v1h-2zM28 18h1v1h-1zM76 18h2v1h-2zM27 19h1v1h-1zM78 19h1v1h-1zM78 69h1v1h-1zM26 20h1v1h-1zM79 20h2v1h-2zM80 21h2v1h-2zM82 22h1v1h-1zM82 66h1v1h-1zM83 23h1v1h-1zM83 65h1v1h-1zM22 24h1v1h-1zM84 24h1v1h-1zM84 64h1v1h-1zM21 25h1v1h-1zM85 25h1v1h-1zM85 62h1v1h-1zM20 26h1v1h-1zM19 27h1v1h-1zM57 27h2v1h-2zM61 27h4v1h-4zM86 27h1v1h-1zM86 61h1v1h-1zM18 28h1v2h-1zM56 28h1v1h-1zM66 28h1v1h-1zM54 29h1v1h-1zM68 29h1v1h-1zM68 52h1v1h-1zM87 29h1v1h-1zM87 59h1v1h-1zM17 30h1v1h-1zM53 30h1v1h-1zM69 30h1v1h-1zM69 43h1v1h-1zM69 49h1v2h-1zM52 31h1v1h-1zM52 53h1v1h-1zM88 31h1v2h-1zM88 56h1v2h-1zM16 32h1v1h-1zM70 32h1v7h-1zM15 33h1v2h-1zM51 33h1v1h-1zM89 33h1v2h-1zM89 53h1v3h-1zM14 35h1v2h-1zM50 35h1v1h-1zM50 52h1v1h-1zM90 36h1v3h-1zM90 49h1v4h-1zM13 37h1v2h-1zM49 37h1v1h-1zM49 50h1v1h-1zM12 39h1v3h-1zM48 39h1v6h-1zM48 46h1v3h-1zM11 42h1v2h-1zM37 44h1v1h-1zM37 56h1v5h-1zM67 53h1v1h-1zM54 54h2v1h-2zM64 54h2v1h-2zM80 67h1v1h-1zM39 68h1v2h-1zM79 68h1v1h-1zM76 70h1v1h-1zM41 71h1v1h-1zM43 72h1v1h-1zM70 72h2v1h-2zM44 73h1v1h-1zM67 73h2v1h-2zM45 74h2v1h-2zM63 74h3v1h-3zM48 75h3v1h-3zM59 75h4v1h-4zM52 76h5v1h-5z"/><path fill="#313131" d="M41 11h1v1h-1zM41 70h1v1h-1zM56 11h4v1h-4zM51 12h4v1h-4zM61 12h4v1h-4zM48 13h3v1h-3zM65 13h3v1h-3zM35 14h1v1h-1zM47 14h2v1h-2zM67 14h2v1h-2zM67 28h2v1h-2zM33 15h1v1h-1zM46 15h1v1h-1zM69 15h2v1h-2zM44 16h2v1h-2zM71 16h2v1h-2zM71 71h2v1h-2zM30 17h1v1h-1zM72 17h2v1h-2zM29 18h1v1h-1zM74 18h2v1h-2zM74 70h2v1h-2zM76 19h2v1h-2zM78 20h1v1h-1zM78 68h1v1h-1zM25 21h1v1h-1zM79 21h1v1h-1zM79 67h1v1h-1zM24 22h1v1h-1zM81 22h1v1h-1zM81 66h1v1h-1zM23 23h1v1h-1zM82 23h1v1h-1zM82 65h1v1h-1zM83 24h1v1h-1zM83 64h1v1h-1zM84 25h1v1h-1zM84 63h1v1h-1zM58 26h6v1h-6zM85 26h1v2h-1zM85 61h1v1h-1zM20 27h1v1h-1zM56 27h1v1h-1zM65 27h2v1h-2zM19 28h1v1h-1zM55 28h1v1h-1zM86 28h1v2h-1zM86 59h1v2h-1zM69 29h1v1h-1zM69 51h1v1h-1zM70 30h1v2h-1zM70 39h1v3h-1zM87 30h1v2h-1zM87 57h1v2h-1zM17 31h1v1h-1zM51 32h1v1h-1zM51 53h1v1h-1zM16 33h1v1h-1zM88 33h1v2h-1zM88 54h1v2h-1zM50 34h1v1h-1zM15 35h1v1h-1zM89 35h1v3h-1zM89 51h1v2h-1zM49 36h1v1h-1zM49 51h1v1h-1zM14 37h1v1h-1zM48 37h1v2h-1zM48 49h1v2h-1zM13 39h1v1h-1zM90 39h1v10h-1zM47 41h1v7h-1zM12 42h1v1h-1zM37 45h1v11h-1zM68 53h1v1h-1zM53 54h1v1h-1zM66 54h1v1h-1zM58 55h5v1h-5zM38 59h1v6h-1zM39 67h1v1h-1zM40 69h1v1h-1zM77 69h1v1h-1zM42 71h1v1h-1zM68 72h2v1h-2zM45 73h1v1h-1zM64 73h3v1h-3zM47 74h3v1h-3zM60 74h3v1h-3zM51 75h8v1h-8z"/><path fill="#353535" d="M39 12h1v1h-1zM39 64h1v3h-1zM55 12h6v1h-6zM37 13h1v1h-1zM51 13h2v1h-2zM63 13h2v1h-2zM63 55h2v1h-2zM49 14h2v1h-2zM64 14h3v1h-3zM64 26h3v1h-3zM47 15h2v1h-2zM67 15h2v1h-2zM67 27h2v1h-2zM32 16h1v1h-1zM46 16h1v1h-1zM69 16h2v1h-2zM69 71h2v1h-2zM44 17h1v1h-1zM44 72h1v1h-1zM70 17h2v1h-2zM72 18h2v1h-2zM72 70h2v1h-2zM28 19h1v1h-1zM74 19h2v1h-2zM27 20h1v1h-1zM76 20h2v1h-2zM26 21h1v1h-1zM78 21h1v1h-1zM78 67h1v1h-1zM25 22h1v1h-1zM79 22h2v1h-2zM24 23h1v1h-1zM81 23h1v1h-1zM81 65h1v1h-1zM23 24h1v1h-1zM82 24h1v1h-1zM82 64h1v1h-1zM22 25h1v1h-1zM83 25h1v1h-1zM83 63h1v1h-1zM21 26h1v1h-1zM57 26h1v1h-1zM84 26h1v1h-1zM84 62h1v1h-1zM55 27h1v1h-1zM54 28h1v1h-1zM69 28h1v1h-1zM69 52h1v1h-1zM85 28h1v1h-1zM85 60h1v1h-1zM19 29h1v1h-1zM53 29h1v1h-1zM70 29h1v1h-1zM70 42h1v9h-1zM18 30h1v1h-1zM52 30h1v1h-1zM52 54h1v1h-1zM86 30h1v1h-1zM86 58h1v1h-1zM51 31h1v1h-1zM17 32h1v1h-1zM87 32h1v1h-1zM87 56h1v1h-1zM50 33h1v1h-1zM50 53h1v1h-1zM16 34h1v1h-1zM49 35h1v1h-1zM49 52h1v1h-1zM88 35h1v2h-1zM88 52h1v2h-1zM15 36h1v1h-1zM48 36h1v1h-1zM48 51h1v1h-1zM14 38h1v1h-1zM47 38h1v3h-1zM47 48h1v2h-1zM89 38h1v4h-1zM89 46h1v5h-1zM13 40h1v2h-1zM12 43h1v1h-1zM38 44h1v6h-1zM38 52h1v7h-1zM67 54h1v1h-1zM55 55h3v1h-3zM80 66h1v1h-1zM40 68h1v1h-1zM77 68h1v1h-1zM75 69h2v1h-2zM42 70h1v1h-1zM43 71h1v1h-1zM66 72h2v1h-2zM46 73h2v1h-2zM62 73h2v1h-2zM50 74h10v1h-10z"/><path fill="#393939" d="M53 13h10v1h-10zM36 14h1v1h-1zM51 14h3v1h-3zM61 14h3v1h-3zM34 15h1v1h-1zM49 15h2v1h-2zM64 15h3v1h-3zM47 16h2v1h-2zM66 16h3v1h-3zM31 17h1v1h-1zM45 17h2v1h-2zM45 72h2v1h-2zM68 17h2v1h-2zM30 18h1v1h-1zM44 18h1v1h-1zM44 71h1v1h-1zM70 18h2v1h-2zM71 19h3v1h-3zM73 20h3v1h-3zM75 21h3v1h-3zM77 22h2v1h-2zM79 23h2v1h-2zM81 24h1v1h-1zM81 64h1v1h-1zM57 25h9v1h-9zM82 25h1v1h-1zM82 63h1v1h-1zM56 26h1v1h-1zM67 26h2v1h-2zM67 71h2v1h-2zM83 26h1v1h-1zM83 62h1v1h-1zM21 27h1v1h-1zM54 27h1v1h-1zM69 27h1v1h-1zM69 53h1v1h-1zM84 27h1v1h-1zM84 61h1v1h-1zM20 28h1v1h-1zM53 28h1v1h-1zM70 28h1v1h-1zM70 51h1v1h-1zM52 29h1v1h-1zM71 29h1v11h-1zM71 70h1v1h-1zM85 29h1v1h-1zM85 59h1v1h-1zM19 30h1v1h-1zM51 30h1v1h-1zM51 54h1v1h-1zM18 31h1v1h-1zM86 31h1v1h-1zM86 57h1v1h-1zM50 32h1v1h-1zM17 33h1v1h-1zM87 33h1v2h-1zM87 54h1v2h-1zM49 34h1v1h-1zM49 53h1v1h-1zM16 35h1v1h-1zM48 35h1v1h-1zM48 52h1v1h-1zM15 37h1v1h-1zM47 37h1v1h-1zM47 50h1v1h-1zM88 37h1v2h-1zM88 49h1v3h-1zM14 39h1v1h-1zM46 40h1v8h-1zM13 42h1v1h-1zM89 42h1v4h-1zM39 44h1v4h-1zM39 57h1v7h-1zM38 50h1v2h-1zM68 54h1v1h-1zM53 55h2v1h-2zM65 55h2v1h-2zM80 65h1v1h-1zM79 66h1v1h-1zM40 67h1v1h-1zM77 67h1v1h-1zM75 68h2v1h-2zM41 69h1v1h-1zM74 69h1v1h-1zM64 72h2v1h-2zM48 73h3v1h-3zM59 73h3v1h-3z"/><path fill="#3d3d3d" d="M40 12h1v1h-1zM40 44h1v3h-1zM40 65h1v2h-1zM38 13h1v1h-1zM54 14h7v1h-7zM35 15h1v1h-1zM51 15h3v1h-3zM61 15h3v1h-3zM33 16h1v1h-1zM49 16h1v1h-1zM49 33h1v1h-1zM64 16h2v1h-2zM32 17h1v1h-1zM47 17h1v1h-1zM47 36h1v1h-1zM47 51h1v1h-1zM66 17h2v1h-2zM45 18h2v1h-2zM68 18h2v1h-2zM29 19h1v1h-1zM44 19h1v1h-1zM69 19h2v1h-2zM69 26h2v1h-2zM69 70h2v1h-2zM28 20h1v1h-1zM70 20h3v1h-3zM27 21h1v1h-1zM72 21h3v1h-3zM26 22h1v1h-1zM75 22h2v1h-2zM25 23h1v1h-1zM77 23h2v1h-2zM24 24h1v1h-1zM58 24h9v1h-9zM80 24h1v1h-1zM23 25h1v1h-1zM56 25h1v1h-1zM66 25h3v1h-3zM81 25h1v1h-1zM22 26h1v1h-1zM55 26h1v1h-1zM53 27h1v1h-1zM70 27h1v1h-1zM70 52h1v1h-1zM83 27h1v1h-1zM83 61h1v1h-1zM52 28h1v1h-1zM52 55h1v1h-1zM71 28h1v1h-1zM71 40h1v2h-1zM84 28h1v1h-1zM84 60h1v1h-1zM20 29h1v1h-1zM51 29h1v1h-1zM72 29h1v1h-1zM85 30h1v1h-1zM85 58h1v1h-1zM50 31h1v1h-1zM50 54h1v1h-1zM18 32h1v1h-1zM86 32h1v2h-1zM86 56h1v1h-1zM17 34h1v1h-1zM48 34h1v1h-1zM87 35h1v2h-1zM87 52h1v2h-1zM16 36h1v1h-1zM15 38h1v1h-1zM46 38h1v2h-1zM46 48h1v2h-1zM88 39h1v4h-1zM88 44h1v5h-1zM14 40h1v2h-1zM45 41h1v6h-1zM13 43h1v1h-1zM39 48h1v9h-1zM69 54h1v1h-1zM67 55h1v1h-1zM59 56h4v1h-4zM78 66h1v1h-1zM76 67h1v1h-1zM41 68h1v1h-1zM74 68h1v1h-1zM42 69h1v1h-1zM72 69h2v1h-2zM43 70h1v1h-1zM66 71h1v1h-1zM47 72h2v1h-2zM62 72h2v1h-2zM51 73h8v1h-8z"/><path fill="#414141" d="M41 12h1v1h-1zM41 46h1v1h-1zM41 67h1v1h-1zM39 13h1v1h-1zM37 14h1v1h-1zM54 15h7v1h-7zM50 16h3v1h-3zM61 16h3v1h-3zM48 17h2v1h-2zM64 17h2v1h-2zM64 71h2v1h-2zM31 18h1v1h-1zM47 18h1v1h-1zM47 35h1v1h-1zM47 52h1v1h-1zM65 18h3v1h-3zM45 19h1v1h-1zM45 39h1v2h-1zM45 47h1v2h-1zM66 19h3v1h-3zM44 20h1v1h-1zM44 41h1v3h-1zM44 45h1v2h-1zM67 20h3v1h-3zM68 21h4v1h-4zM68 22h7v1h-7zM59 23h18v1h-18zM57 24h1v1h-1zM67 24h6v1h-6zM77 24h3v1h-3zM55 25h1v1h-1zM69 25h3v1h-3zM80 25h1v1h-1zM80 64h1v1h-1zM23 26h1v1h-1zM54 26h1v1h-1zM71 26h2v2h-2zM82 26h1v1h-1zM82 62h1v1h-1zM22 27h1v1h-1zM21 28h1v1h-1zM72 28h1v1h-1zM72 30h1v6h-1zM84 29h1v1h-1zM84 59h1v1h-1zM20 30h1v1h-1zM50 30h1v1h-1zM19 31h1v1h-1zM85 31h1v1h-1zM85 57h1v1h-1zM49 32h1v1h-1zM49 54h1v1h-1zM18 33h1v1h-1zM86 34h1v1h-1zM86 54h1v2h-1zM17 35h1v1h-1zM16 37h1v1h-1zM46 37h1v1h-1zM46 50h1v1h-1zM87 37h1v2h-1zM87 50h1v2h-1zM15 39h1v2h-1zM14 42h1v2h-1zM71 42h1v9h-1zM71 69h1v1h-1zM88 43h1v1h-1zM41 44h4v1h-4zM41 45h2v1h-2zM40 47h2v1h-2zM40 48h1v17h-1zM48 53h1v1h-1zM70 53h1v1h-1zM51 55h1v1h-1zM68 55h1v1h-1zM68 70h1v1h-1zM55 56h4v1h-4zM63 56h3v1h-3zM81 63h1v1h-1zM79 65h1v1h-1zM77 66h1v1h-1zM75 67h1v1h-1zM73 68h1v1h-1zM45 71h2v1h-2zM49 72h2v1h-2zM59 72h3v1h-3z"/><path fill="#454545" d="M43 13h1v1h-1zM43 45h1v1h-1zM43 69h1v1h-1zM36 15h1v1h-1zM34 16h1v1h-1zM53 16h8v1h-8zM33 17h1v1h-1zM50 17h3v1h-3zM60 17h4v1h-4zM48 18h2v1h-2zM62 18h3v1h-3zM30 19h1v1h-1zM46 19h2v1h-2zM63 19h3v1h-3zM29 20h1v1h-1zM45 20h1v1h-1zM45 37h1v2h-1zM45 49h1v2h-1zM64 20h3v1h-3zM28 21h1v1h-1zM44 21h1v1h-1zM44 39h1v2h-1zM44 70h1v1h-1zM63 21h5v1h-5zM27 22h1v1h-1zM60 22h8v1h-8zM26 23h1v1h-1zM57 23h2v1h-2zM25 24h1v1h-1zM55 24h2v1h-2zM73 24h4v1h-4zM24 25h1v1h-1zM54 25h1v1h-1zM72 25h5v1h-5zM78 25h2v1h-2zM53 26h1v1h-1zM73 26h2v1h-2zM81 26h1v1h-1zM81 62h1v1h-1zM52 27h1v1h-1zM73 27h1v3h-1zM82 27h1v1h-1zM82 61h1v1h-1zM22 28h1v1h-1zM51 28h1v1h-1zM83 28h1v1h-1zM83 60h1v1h-1zM21 29h1v1h-1zM50 29h1v1h-1zM50 55h1v1h-1zM84 30h1v1h-1zM20 31h1v1h-1zM49 31h1v1h-1zM19 32h1v1h-1zM85 32h1v1h-1zM85 56h1v1h-1zM48 33h1v1h-1zM48 54h1v1h-1zM18 34h1v1h-1zM47 34h1v1h-1zM47 53h1v1h-1zM47 71h1v1h-1zM46 35h1v2h-1zM46 51h1v2h-1zM86 35h1v1h-1zM86 52h1v2h-1zM17 36h1v1h-1zM72 36h1v3h-1zM72 68h1v1h-1zM16 38h1v1h-1zM87 39h1v3h-1zM87 46h1v4h-1zM15 41h1v1h-1zM42 46h2v1h-2zM42 47h3v1h-3zM41 48h4v1h-4zM41 49h1v4h-1zM41 65h1v2h-1zM71 51h1v1h-1zM70 54h1v1h-1zM70 69h1v1h-1zM69 55h1v1h-1zM53 56h2v1h-2zM66 56h1v1h-1zM80 63h1v1h-1zM79 64h1v1h-1zM78 65h1v1h-1zM76 66h1v1h-1zM74 67h1v1h-1zM42 68h1v1h-1zM66 70h2v1h-2zM62 71h2v1h-2zM51 72h8v1h-8z"/><path fill="#494949" d="M40 13h1v1h-1zM38 14h1v1h-1zM35 16h1v1h-1zM53 17h7v1h-7zM32 18h1v1h-1zM50 18h3v1h-3zM59 18h3v1h-3zM31 19h1v1h-1zM48 19h2v1h-2zM48 71h2v1h-2zM60 19h3v1h-3zM46 20h2v1h-2zM60 20h4v1h-4zM45 21h1v1h-1zM45 36h1v1h-1zM45 51h1v1h-1zM45 70h1v1h-1zM59 21h4v1h-4zM44 22h1v1h-1zM44 37h1v2h-1zM57 22h3v1h-3zM56 23h1v1h-1zM54 24h1v1h-1zM53 25h1v1h-1zM77 25h1v1h-1zM77 65h1v1h-1zM24 26h1v1h-1zM52 26h1v1h-1zM52 56h1v1h-1zM75 26h2v1h-2zM79 26h2v1h-2zM23 27h1v1h-1zM51 27h1v1h-1zM74 27h1v2h-1zM81 27h1v1h-1zM50 28h1v1h-1zM82 28h1v1h-1zM83 29h1v1h-1zM83 59h1v1h-1zM21 30h1v1h-1zM49 30h1v1h-1zM49 55h1v1h-1zM73 30h1v3h-1zM73 67h1v1h-1zM48 31h1v2h-1zM19 33h1v1h-1zM47 33h1v1h-1zM47 54h1v1h-1zM85 33h1v1h-1zM85 55h1v1h-1zM46 34h1v1h-1zM46 53h1v1h-1zM18 35h1v1h-1zM86 36h1v2h-1zM86 51h1v1h-1zM17 37h1v1h-1zM16 39h1v2h-1zM72 39h1v2h-1zM15 42h1v2h-1zM87 42h1v4h-1zM42 49h3v2h-3zM42 51h1v1h-1zM42 67h1v1h-1zM71 52h1v1h-1zM41 53h1v12h-1zM67 56h1v1h-1zM84 58h1v1h-1zM78 64h1v1h-1zM75 66h1v1h-1zM70 68h2v1h-2zM68 69h2v1h-2zM65 70h1v1h-1zM60 71h2v1h-2z"/><path fill="#4d4d4d" d="M37 15h1v1h-1zM34 17h1v1h-1zM53 18h6v1h-6zM50 19h10v1h-10zM30 20h1v1h-1zM48 20h2v1h-2zM56 20h4v1h-4zM29 21h1v1h-1zM46 21h2v1h-2zM56 21h3v1h-3zM28 22h1v1h-1zM45 22h1v1h-1zM45 35h1v1h-1zM55 22h2v1h-2zM27 23h1v1h-1zM44 23h1v1h-1zM44 36h1v1h-1zM44 69h1v1h-1zM54 23h2v1h-2zM26 24h1v1h-1zM53 24h1v1h-1zM25 25h1v1h-1zM52 25h1v1h-1zM51 26h1v1h-1zM77 26h2v1h-2zM50 27h1v1h-1zM75 27h1v1h-1zM80 27h1v1h-1zM80 62h1v1h-1zM23 28h1v1h-1zM81 28h1v1h-1zM81 61h1v1h-1zM22 29h1v1h-1zM49 29h1v1h-1zM74 29h1v1h-1zM74 66h1v1h-1zM82 29h1v1h-1zM82 60h1v1h-1zM48 30h1v1h-1zM48 55h1v1h-1zM83 30h1v1h-1zM83 58h1v1h-1zM21 31h1v1h-1zM84 31h1v1h-1zM84 57h1v1h-1zM20 32h1v1h-1zM47 32h1v1h-1zM73 33h1v3h-1zM19 34h1v1h-1zM85 34h1v1h-1zM85 54h1v1h-1zM18 36h1v1h-1zM17 38h1v1h-1zM86 38h1v2h-1zM86 48h1v3h-1zM16 41h1v1h-1zM72 41h1v2h-1zM72 45h1v6h-1zM43 51h2v1h-2zM42 52h4v1h-4zM42 53h1v4h-1zM42 66h1v1h-1zM71 53h1v1h-1zM70 55h1v1h-1zM50 56h2v1h-2zM50 71h2v1h-2zM68 56h1v1h-1zM56 57h10v1h-10zM79 63h1v1h-1zM77 64h1v1h-1zM76 65h1v1h-1zM71 67h2v1h-2zM43 68h1v1h-1zM69 68h1v1h-1zM67 69h1v1h-1zM46 70h1v1h-1zM63 70h2v1h-2zM57 71h3v1h-3z"/><path fill="#515151" d="M41 13h2v1h-2zM39 14h1v1h-1zM36 16h1v1h-1zM33 18h1v1h-1zM32 19h1v1h-1zM50 20h6v1h-6zM48 21h8v1h-8zM46 22h2v1h-2zM53 22h2v1h-2zM45 23h1v1h-1zM52 23h2v1h-2zM44 24h1v1h-1zM44 35h1v1h-1zM52 24h1v1h-1zM51 25h1v1h-1zM25 26h1v1h-1zM50 26h1v1h-1zM24 27h1v1h-1zM49 27h1v2h-1zM49 56h1v1h-1zM76 27h4v1h-4zM75 28h1v1h-1zM75 65h1v1h-1zM48 29h1v1h-1zM22 30h1v1h-1zM74 30h1v2h-1zM47 31h1v1h-1zM47 55h1v1h-1zM47 70h1v1h-1zM83 31h1v1h-1zM83 57h1v1h-1zM84 32h1v1h-1zM84 56h1v1h-1zM20 33h1v1h-1zM46 33h1v1h-1zM46 54h1v1h-1zM44 34h2v1h-2zM19 35h1v1h-1zM85 35h1v2h-1zM85 52h1v2h-1zM73 36h1v2h-1zM18 37h1v1h-1zM17 39h1v2h-1zM86 40h1v8h-1zM16 42h1v2h-1zM72 43h1v2h-1zM72 51h1v2h-1zM43 53h3v1h-3zM43 54h1v2h-1zM43 67h1v1h-1zM71 54h1v1h-1zM69 56h1v1h-1zM42 57h1v5h-1zM42 64h1v2h-1zM53 57h3v1h-3zM66 57h2v1h-2zM82 59h1v1h-1zM81 60h1v1h-1zM78 63h1v1h-1zM76 64h1v1h-1zM72 66h2v1h-2zM70 67h1v1h-1zM68 68h1v1h-1zM66 69h1v1h-1zM62 70h1v1h-1zM52 71h5v1h-5z"/><path fill="#555555" d="M38 15h1v1h-1zM35 17h1v1h-1zM31 20h1v1h-1zM30 21h1v1h-1zM29 22h1v1h-1zM48 22h5v1h-5zM28 23h1v1h-1zM46 23h6v1h-6zM27 24h1v1h-1zM45 24h2v1h-2zM49 24h3v1h-3zM26 25h1v1h-1zM44 25h1v2h-1zM44 55h1v1h-1zM44 68h1v1h-1zM49 25h2v1h-2zM49 26h1v1h-1zM48 27h1v2h-1zM48 56h1v1h-1zM24 28h1v1h-1zM76 28h5v1h-5zM23 29h1v1h-1zM47 29h1v2h-1zM75 29h1v2h-1zM75 64h1v1h-1zM81 29h1v1h-1zM82 30h1v1h-1zM82 58h1v1h-1zM22 31h1v1h-1zM21 32h1v1h-1zM44 32h3v1h-3zM74 32h1v2h-1zM83 32h1v1h-1zM44 33h2v1h-2zM44 54h2v1h-2zM84 33h1v1h-1zM84 55h1v1h-1zM20 34h1v1h-1zM19 36h1v1h-1zM85 37h1v1h-1zM85 51h1v1h-1zM18 38h1v2h-1zM73 38h1v2h-1zM17 41h1v1h-1zM72 53h1v1h-1zM46 55h1v1h-1zM71 55h1v1h-1zM71 66h1v1h-1zM43 56h1v2h-1zM70 56h1v1h-1zM51 57h2v1h-2zM68 57h1v1h-1zM80 61h1v1h-1zM42 62h1v2h-1zM79 62h1v1h-1zM77 63h1v1h-1zM73 65h2v1h-2zM69 67h1v1h-1zM67 68h1v1h-1zM45 69h1v1h-1zM65 69h1v1h-1zM48 70h2v1h-2zM60 70h2v1h-2z"/><path fill="#595959" d="M40 14h1v1h-1zM37 16h1v1h-1zM34 18h1v1h-1zM33 19h1v1h-1zM47 24h2v1h-2zM45 25h4v2h-4zM26 26h1v1h-1zM25 27h1v1h-1zM44 27h1v2h-1zM44 30h1v1h-1zM44 56h1v1h-1zM46 27h2v1h-2zM46 56h2v1h-2zM47 28h1v1h-1zM46 29h1v2h-1zM46 69h1v1h-1zM76 29h1v1h-1zM76 63h1v1h-1zM80 29h1v1h-1zM80 60h1v1h-1zM23 30h1v1h-1zM81 30h1v1h-1zM81 59h1v1h-1zM44 31h3v1h-3zM75 31h1v1h-1zM82 31h1v1h-1zM22 32h1v1h-1zM21 33h1v1h-1zM74 34h1v2h-1zM74 64h1v1h-1zM84 34h1v1h-1zM84 54h1v1h-1zM20 35h1v1h-1zM19 37h1v1h-1zM85 38h1v2h-1zM85 49h1v2h-1zM18 40h1v1h-1zM73 40h1v2h-1zM17 42h1v2h-1zM72 54h1v1h-1zM72 65h1v1h-1zM45 55h1v1h-1zM71 56h1v1h-1zM83 56h1v1h-1zM50 57h1v1h-1zM69 57h1v1h-1zM43 58h1v2h-1zM43 66h1v1h-1zM60 58h5v1h-5zM79 61h1v1h-1zM78 62h1v1h-1zM70 66h1v1h-1zM68 67h1v1h-1zM66 68h1v1h-1zM64 69h1v1h-1zM50 70h2v1h-2zM58 70h2v1h-2z"/><path fill="#5d5d5d" d="M39 15h1v1h-1zM36 17h1v1h-1zM32 20h1v1h-1zM31 21h1v1h-1zM30 22h1v1h-1zM29 23h1v1h-1zM28 24h1v1h-1zM27 25h1v1h-1zM45 27h1v1h-1zM45 30h1v1h-1zM45 56h1v1h-1zM45 68h1v1h-1zM25 28h1v1h-1zM45 28h2v1h-2zM24 29h1v1h-1zM44 29h2v1h-2zM77 29h3v1h-3zM76 30h1v1h-1zM80 30h1v1h-1zM23 31h1v1h-1zM75 32h1v1h-1zM75 63h1v1h-1zM82 32h1v1h-1zM82 57h1v1h-1zM83 33h1v1h-1zM83 55h1v1h-1zM21 34h1v1h-1zM84 35h1v1h-1zM84 53h1v1h-1zM20 36h1v1h-1zM74 36h1v2h-1zM19 38h1v2h-1zM85 40h1v2h-1zM85 46h1v3h-1zM18 41h1v1h-1zM73 42h1v1h-1zM73 44h1v8h-1zM73 64h1v1h-1zM72 55h1v1h-1zM44 57h1v2h-1zM44 67h1v1h-1zM47 57h3v1h-3zM70 57h1v1h-1zM55 58h5v1h-5zM65 58h3v1h-3zM81 58h1v1h-1zM43 60h1v6h-1zM78 61h1v1h-1zM77 62h1v1h-1zM71 65h1v1h-1zM69 66h1v1h-1zM67 67h1v1h-1zM65 68h1v1h-1zM47 69h1v1h-1zM62 69h2v1h-2zM52 70h6v1h-6z"/><path fill="#616161" d="M35 18h1v1h-1zM34 19h1v1h-1zM28 25h1v1h-1zM27 26h1v1h-1zM26 27h1v1h-1zM25 29h1v1h-1zM24 30h1v1h-1zM77 30h3v1h-3zM76 31h1v1h-1zM76 62h1v1h-1zM81 31h1v1h-1zM23 32h1v1h-1zM22 33h1v1h-1zM75 33h1v1h-1zM83 34h1v1h-1zM83 54h1v1h-1zM21 35h1v1h-1zM84 36h1v1h-1zM84 52h1v1h-1zM20 37h1v2h-1zM74 38h1v1h-1zM74 63h1v1h-1zM19 40h1v1h-1zM18 42h1v2h-1zM85 42h1v4h-1zM73 43h1v1h-1zM73 52h1v2h-1zM72 56h1v1h-1zM72 64h1v1h-1zM82 56h1v1h-1zM45 57h2v1h-2zM71 57h1v1h-1zM45 58h1v1h-1zM51 58h4v1h-4zM68 58h2v1h-2zM44 59h1v1h-1zM44 66h1v1h-1zM80 59h1v1h-1zM79 60h1v1h-1zM77 61h1v1h-1zM70 65h1v1h-1zM68 66h1v1h-1zM66 67h1v1h-1zM46 68h1v1h-1zM64 68h1v1h-1zM48 69h1v1h-1zM61 69h1v1h-1z"/><path fill="#656565" d="M41 14h1v1h-1zM38 16h1v1h-1zM37 17h1v1h-1zM33 20h1v1h-1zM32 21h1v1h-1zM31 22h1v1h-1zM30 23h1v1h-1zM29 24h1v1h-1zM27 27h1v1h-1zM26 28h1v1h-1zM24 31h1v1h-1zM77 31h1v1h-1zM80 31h1v1h-1zM80 58h1v1h-1zM76 32h1v1h-1zM76 61h1v1h-1zM81 32h1v1h-1zM81 57h1v1h-1zM23 33h1v1h-1zM82 33h1v1h-1zM82 55h1v1h-1zM22 34h1v2h-1zM75 34h1v2h-1zM83 35h1v1h-1zM83 53h1v1h-1zM21 36h1v2h-1zM84 37h1v2h-1zM84 50h1v2h-1zM20 39h1v1h-1zM74 39h1v2h-1zM19 41h1v2h-1zM73 54h1v2h-1zM72 57h1v1h-1zM46 58h5v1h-5zM70 58h1v1h-1zM45 59h1v1h-1zM45 67h1v1h-1zM79 59h1v1h-1zM44 60h1v2h-1zM44 65h1v1h-1zM78 60h1v1h-1zM74 62h2v1h-2zM72 63h2v1h-2zM71 64h1v1h-1zM69 65h1v1h-1zM67 66h1v1h-1zM65 67h1v1h-1zM47 68h1v1h-1zM63 68h1v1h-1zM49 69h1v1h-1zM60 69h1v1h-1z"/><path fill="#696969" d="M40 15h1v1h-1zM36 18h1v1h-1zM35 19h1v1h-1zM34 20h1v1h-1zM33 21h1v1h-1zM32 22h1v1h-1zM31 23h1v1h-1zM30 24h1v1h-1zM29 25h1v1h-1zM28 26h1v1h-1zM27 28h1v1h-1zM26 29h1v1h-1zM25 30h1v1h-1zM78 31h2v1h-2zM24 32h1v1h-1zM77 32h1v1h-1zM80 32h1v1h-1zM76 33h1v1h-1zM81 33h1v1h-1zM81 56h1v1h-1zM23 34h1v1h-1zM82 34h1v1h-1zM82 54h1v1h-1zM22 36h1v1h-1zM75 36h1v1h-1zM83 36h1v1h-1zM83 52h1v1h-1zM21 38h1v1h-1zM84 39h1v1h-1zM84 49h1v1h-1zM20 40h1v1h-1zM74 41h1v1h-1zM74 47h1v6h-1zM19 43h1v1h-1zM73 56h1v2h-1zM71 58h2v1h-2zM46 59h1v1h-1zM46 67h1v1h-1zM60 59h11v1h-11zM78 59h1v1h-1zM45 60h1v1h-1zM76 60h2v1h-2zM74 61h2v1h-2zM44 62h1v3h-1zM72 62h2v1h-2zM71 63h1v1h-1zM70 64h1v1h-1zM68 65h1v1h-1zM66 66h1v1h-1zM64 67h1v1h-1zM62 68h1v1h-1zM50 69h2v1h-2zM58 69h2v1h-2z"/><path fill="#6d6d6d" d="M39 16h1v1h-1zM29 26h1v1h-1zM28 27h1v1h-1zM26 30h1v1h-1zM25 31h1v1h-1zM78 32h2v1h-2zM24 33h1v1h-1zM77 33h1v1h-1zM77 59h1v1h-1zM76 34h1v1h-1zM23 35h1v1h-1zM82 35h1v1h-1zM82 53h1v1h-1zM22 37h1v1h-1zM75 37h1v2h-1zM83 37h1v1h-1zM83 51h1v1h-1zM21 39h1v1h-1zM84 40h1v2h-1zM84 46h1v3h-1zM20 41h1v2h-1zM74 42h1v1h-1zM74 44h1v3h-1zM74 53h1v3h-1zM81 55h1v1h-1zM80 57h1v1h-1zM73 58h1v1h-1zM79 58h1v1h-1zM47 59h3v1h-3zM53 59h7v1h-7zM71 59h4v1h-4zM46 60h1v1h-1zM70 60h6v1h-6zM45 61h1v1h-1zM45 66h1v1h-1zM71 61h3v1h-3zM71 62h1v1h-1zM70 63h1v1h-1zM69 64h1v1h-1zM67 65h1v1h-1zM63 67h1v1h-1zM48 68h1v1h-1zM60 68h2v1h-2zM52 69h6v1h-6z"/><path fill="#717171" d="M42 14h2v1h-2zM38 17h1v1h-1zM37 18h1v1h-1zM36 19h1v1h-1zM35 20h1v1h-1zM34 21h1v1h-1zM33 22h1v1h-1zM32 23h1v1h-1zM31 24h1v1h-1zM30 25h1v1h-1zM28 28h1v1h-1zM27 29h1v1h-1zM26 31h1v1h-1zM25 32h1v1h-1zM78 33h3v1h-3zM24 34h1v1h-1zM81 34h1v1h-1zM81 54h1v1h-1zM76 35h1v1h-1zM23 36h1v1h-1zM82 36h1v1h-1zM82 52h1v1h-1zM22 38h1v1h-1zM83 38h1v1h-1zM83 49h1v2h-1zM75 39h1v1h-1zM21 40h1v1h-1zM84 42h1v4h-1zM20 43h1v1h-1zM74 43h1v1h-1zM74 56h1v2h-1zM80 56h1v1h-1zM79 57h1v1h-1zM74 58h5v1h-5zM50 59h3v1h-3zM75 59h2v1h-2zM47 60h1v1h-1zM47 67h1v1h-1zM64 60h6v1h-6zM69 61h2v2h-2zM45 62h1v4h-1zM69 63h1v1h-1zM68 64h1v1h-1zM66 65h1v1h-1zM46 66h1v1h-1zM65 66h1v1h-1zM62 67h1v1h-1zM49 68h2v1h-2zM59 68h1v1h-1z"/><path fill="#757575" d="M41 15h1v1h-1zM31 25h1v1h-1zM30 26h1v1h-1zM29 27h1v1h-1zM28 29h1v1h-1zM27 30h1v1h-1zM26 32h1v1h-1zM25 33h1v1h-1zM77 34h2v1h-2zM80 34h1v1h-1zM80 55h1v1h-1zM24 35h1v1h-1zM81 35h1v1h-1zM76 36h1v1h-1zM23 37h1v1h-1zM82 37h1v1h-1zM82 51h1v1h-1zM22 39h1v1h-1zM83 39h1v2h-1zM83 48h1v1h-1zM75 40h1v1h-1zM75 49h1v8h-1zM21 41h1v2h-1zM79 56h1v1h-1zM75 57h4v1h-4zM48 60h1v1h-1zM48 67h1v1h-1zM61 60h3v1h-3zM46 61h1v2h-1zM46 65h1v1h-1zM67 61h2v1h-2zM68 62h1v2h-1zM67 64h1v1h-1zM65 65h1v1h-1zM64 66h1v1h-1zM61 67h1v1h-1zM51 68h2v1h-2zM57 68h2v1h-2z"/><path fill="#797979" d="M40 16h1v1h-1zM39 17h1v1h-1zM38 18h1v1h-1zM37 19h1v1h-1zM36 20h1v1h-1zM35 21h1v1h-1zM34 22h1v1h-1zM33 23h1v1h-1zM32 24h1v1h-1zM30 27h1v1h-1zM29 28h1v1h-1zM28 30h1v1h-1zM27 31h1v1h-1zM26 33h1v1h-1zM25 34h1v2h-1zM79 34h1v1h-1zM79 55h1v1h-1zM77 35h1v1h-1zM80 35h1v1h-1zM80 54h1v1h-1zM24 36h1v1h-1zM81 36h1v1h-1zM81 53h1v1h-1zM76 37h1v2h-1zM76 55h1v1h-1zM23 38h1v1h-1zM82 38h1v1h-1zM82 50h1v1h-1zM22 40h1v2h-1zM75 41h1v1h-1zM75 46h1v3h-1zM83 41h1v2h-1zM83 45h1v3h-1zM21 43h1v1h-1zM76 56h3v1h-3zM49 60h2v1h-2zM59 60h2v1h-2zM47 61h1v1h-1zM47 66h1v1h-1zM65 61h2v1h-2zM67 62h1v2h-1zM46 63h1v2h-1zM66 64h1v1h-1zM63 66h1v1h-1zM49 67h1v1h-1zM60 67h1v1h-1zM53 68h4v1h-4z"/><path fill="#7d7d7d" d="M33 24h1v1h-1zM32 25h1v1h-1zM31 26h1v1h-1zM30 28h1v1h-1zM29 29h1v1h-1zM27 32h1v1h-1zM26 34h1v1h-1zM78 35h2v1h-2zM25 36h1v1h-1zM77 36h1v1h-1zM24 37h1v2h-1zM81 37h1v1h-1zM81 52h1v1h-1zM23 39h1v2h-1zM76 39h1v1h-1zM76 52h1v3h-1zM82 39h1v1h-1zM82 49h1v1h-1zM22 42h1v1h-1zM75 42h1v1h-1zM75 44h1v2h-1zM83 43h1v2h-1zM80 53h1v1h-1zM79 54h1v1h-1zM77 55h2v1h-2zM51 60h8v1h-8zM48 61h1v1h-1zM48 66h1v1h-1zM63 61h2v1h-2zM47 62h1v1h-1zM47 65h1v1h-1zM65 62h2v1h-2zM66 63h1v1h-1zM65 64h1v1h-1zM64 65h1v1h-1zM62 66h1v1h-1zM50 67h1v1h-1zM59 67h1v1h-1z"/><path fill="#828282" d="M36 21h1v1h-1zM35 22h1v1h-1zM34 23h1v1h-1zM31 27h1v1h-1zM29 30h1v1h-1zM28 31h1v1h-1zM27 33h1v1h-1zM26 35h1v1h-1zM78 36h3v1h-3zM25 37h1v1h-1zM77 37h1v1h-1zM77 53h1v1h-1zM81 38h1v1h-1zM81 51h1v1h-1zM24 39h1v1h-1zM76 40h1v1h-1zM76 49h1v3h-1zM82 40h1v1h-1zM82 47h1v2h-1zM23 41h1v1h-1zM22 43h1v1h-1zM75 43h1v1h-1zM80 52h1v1h-1zM79 53h1v1h-1zM77 54h2v1h-2zM49 61h1v1h-1zM49 66h1v1h-1zM61 61h2v1h-2zM48 62h1v1h-1zM64 62h1v1h-1zM64 64h1v1h-1zM47 63h1v2h-1zM64 63h2v1h-2zM63 65h1v1h-1zM61 66h1v1h-1zM51 67h2v1h-2zM57 67h2v1h-2z"/><path fill="#868686" d="M42 15h2v1h-2zM40 17h1v1h-1zM39 18h1v1h-1zM38 19h1v1h-1zM37 20h1v1h-1zM33 25h1v1h-1zM32 26h1v1h-1zM31 28h1v1h-1zM30 29h1v1h-1zM29 31h1v1h-1zM28 32h1v1h-1zM27 34h1v1h-1zM26 36h1v1h-1zM78 37h3v1h-3zM25 38h1v1h-1zM77 38h1v1h-1zM77 51h1v1h-1zM81 39h1v1h-1zM81 49h1v2h-1zM76 41h1v1h-1zM76 46h1v3h-1zM82 41h1v2h-1zM82 45h1v2h-1zM23 42h1v1h-1zM80 51h1v1h-1zM77 52h3v1h-3zM78 53h1v1h-1zM50 61h2v1h-2zM59 61h2v1h-2zM49 62h1v1h-1zM63 62h1v3h-1zM48 63h1v3h-1zM62 65h1v1h-1zM50 66h1v1h-1zM60 66h1v1h-1zM53 67h4v1h-4z"/><path fill="#8a8a8a" d="M41 16h1v1h-1zM36 22h1v1h-1zM35 23h1v1h-1zM34 24h1v1h-1zM32 27h1v1h-1zM30 30h1v1h-1zM28 33h1v1h-1zM27 35h1v1h-1zM26 37h1v1h-1zM78 38h3v1h-3zM77 39h1v1h-1zM77 49h1v2h-1zM24 40h1v1h-1zM81 40h1v1h-1zM81 48h1v1h-1zM76 42h1v1h-1zM76 44h1v2h-1zM23 43h1v1h-1zM82 43h1v2h-1zM80 50h1v1h-1zM78 51h2v1h-2zM52 61h7v1h-7zM50 62h1v1h-1zM61 62h2v1h-2zM49 63h1v3h-1zM62 63h1v2h-1zM61 65h1v1h-1zM51 66h1v1h-1zM58 66h2v1h-2z"/><path fill="#8e8e8e" d="M38 20h1v1h-1zM37 21h1v1h-1zM34 25h1v1h-1zM33 26h1v1h-1zM32 28h1v1h-1zM31 29h1v1h-1zM30 31h1v1h-1zM29 32h1v1h-1zM28 34h1v1h-1zM27 36h1v1h-1zM25 39h1v1h-1zM78 39h3v1h-3zM77 40h1v1h-1zM77 47h1v2h-1zM24 41h1v1h-1zM81 41h1v1h-1zM81 46h1v2h-1zM76 43h1v1h-1zM80 49h1v1h-1zM78 50h2v1h-2zM51 62h1v1h-1zM60 62h1v1h-1zM60 65h1v1h-1zM50 63h1v1h-1zM50 65h1v1h-1zM61 63h1v2h-1zM52 66h6v1h-6z"/><path fill="#929292" d="M39 19h1v1h-1zM36 23h1v1h-1zM35 24h1v1h-1zM33 27h1v1h-1zM31 30h1v1h-1zM29 33h1v1h-1zM28 35h1v1h-1zM27 37h1v1h-1zM26 38h1v1h-1zM25 40h1v1h-1zM78 40h3v1h-3zM78 48h3v1h-3zM77 41h1v2h-1zM77 45h1v2h-1zM24 42h1v2h-1zM81 42h1v4h-1zM80 47h1v1h-1zM78 49h2v1h-2zM52 62h3v1h-3zM57 62h3v1h-3zM51 63h1v1h-1zM60 63h1v2h-1zM50 64h2v1h-2zM51 65h2v1h-2zM58 65h2v1h-2z"/><path fill="#969696" d="M40 18h1v1h-1zM37 22h1v1h-1zM35 25h1v1h-1zM34 26h1v1h-1zM33 28h1v1h-1zM32 29h1v1h-1zM31 31h1v1h-1zM30 32h1v1h-1zM29 34h1v1h-1zM28 36h1v1h-1zM26 39h1v1h-1zM25 41h1v1h-1zM78 41h3v1h-3zM80 42h1v1h-1zM80 45h1v2h-1zM77 43h1v2h-1zM78 46h1v1h-1zM78 47h2v1h-2zM55 62h2v1h-2zM52 63h2v1h-2zM59 63h1v2h-1zM52 64h1v1h-1zM53 65h5v1h-5z"/><path fill="#9a9a9a" d="M42 16h2v1h-2zM41 17h1v1h-1zM38 21h1v1h-1zM36 24h1v1h-1zM34 27h1v1h-1zM32 30h1v1h-1zM30 33h1v1h-1zM29 35h1v1h-1zM28 37h1v1h-1zM27 38h1v1h-1zM26 40h1v1h-1zM25 42h1v1h-1zM78 42h2v1h-2zM78 45h2v1h-2zM78 43h1v1h-1zM80 43h1v1h-1zM78 44h3v1h-3zM79 46h1v1h-1zM54 63h5v1h-5zM53 64h6v1h-6z"/><path fill="#9e9e9e" d="M39 20h1v1h-1zM37 23h1v1h-1zM35 26h1v1h-1zM33 29h1v1h-1zM32 31h1v1h-1zM31 32h1v1h-1zM30 34h1v1h-1zM29 36h1v1h-1zM27 39h1v1h-1zM26 41h1v1h-1zM25 43h1v1h-1zM79 43h1v1h-1z"/><path fill="#a2a2a2" d="M40 19h1v1h-1zM38 22h1v1h-1zM36 25h1v1h-1zM34 28h1v1h-1zM33 30h1v1h-1zM31 33h1v1h-1zM30 35h1v1h-1zM28 38h1v1h-1zM27 40h1v1h-1zM26 42h1v1h-1z"/><path fill="#a6a6a6" d="M41 18h1v1h-1zM39 21h1v1h-1zM37 24h1v1h-1zM35 27h1v1h-1zM34 29h1v1h-1zM32 32h1v1h-1zM29 37h1v1h-1zM28 39h1v1h-1zM26 43h1v1h-1z"/><path fill="#aaaaaa" d="M42 17h2v1h-2zM40 20h1v1h-1zM38 23h1v1h-1zM36 26h1v1h-1zM33 31h1v1h-1zM31 34h1v1h-1zM30 36h1v1h-1zM29 38h1v1h-1zM27 41h1v1h-1z"/><path fill="#aeaeae" d="M39 22h1v1h-1zM37 25h1v1h-1zM35 28h1v1h-1zM34 30h1v1h-1zM32 33h1v1h-1zM31 35h1v1h-1zM28 40h1v1h-1zM27 42h1v1h-1z"/><path fill="#b2b2b2" d="M41 19h1v1h-1zM38 24h1v1h-1zM36 27h1v1h-1zM35 29h1v1h-1zM33 32h1v1h-1zM32 34h1v1h-1zM30 37h1v1h-1zM29 39h1v1h-1zM28 41h1v1h-1zM27 43h1v1h-1z"/><path fill="#b6b6b6" d="M42 18h2v1h-2zM40 21h1v1h-1zM37 26h1v1h-1zM34 31h1v1h-1zM33 33h1v1h-1zM31 36h1v1h-1zM30 38h1v1h-1zM29 40h1v1h-1z"/><path fill="#bababa" d="M39 23h1v1h-1zM36 28h1v1h-1zM35 30h1v1h-1zM32 35h1v1h-1zM31 37h1v1h-1zM28 42h1v1h-1z"/><path fill="#bebebe" d="M41 20h1v1h-1zM38 25h1v1h-1zM37 27h1v1h-1zM34 32h1v1h-1zM33 34h1v1h-1zM30 39h1v1h-1zM29 41h1v1h-1zM28 43h1v1h-1z"/><path fill="#c2c2c2" d="M42 19h2v1h-2zM40 22h1v1h-1zM39 24h1v1h-1zM36 29h1v1h-1zM35 31h1v1h-1zM32 36h1v1h-1zM31 38h1v1h-1z"/><path fill="#c6c6c6" d="M41 21h1v1h-1zM38 26h1v1h-1zM37 28h1v1h-1zM34 33h1v1h-1zM33 35h1v1h-1zM30 40h1v1h-1zM29 42h1v1h-1z"/><path fill="#cacaca" d="M40 23h1v1h-1zM39 25h1v1h-1zM36 30h1v1h-1zM35 32h1v1h-1zM32 37h1v1h-1zM31 39h1v1h-1zM29 43h1v1h-1z"/><path fill="#cecece" d="M42 20h2v1h-2zM38 27h1v1h-1zM37 29h1v1h-1zM34 34h1v1h-1zM33 36h1v1h-1zM30 41h1v1h-1z"/><path fill="#d2d2d2" d="M41 22h1v1h-1zM40 24h1v1h-1zM36 31h1v1h-1zM35 33h1v1h-1zM32 38h1v1h-1zM31 40h1v1h-1z"/><path fill="#d7d7d7" d="M42 21h2v1h-2zM39 26h1v1h-1zM38 28h1v1h-1zM34 35h1v1h-1zM33 37h1v1h-1zM30 42h1v1h-1z"/><path fill="#dbdbdb" d="M41 23h1v1h-1zM40 25h1v1h-1zM37 30h1v1h-1zM36 32h1v1h-1zM32 39h1v1h-1zM31 41h1v1h-1zM30 43h1v1h-1z"/><path fill="#dfdfdf" d="M42 22h2v1h-2zM39 27h1v1h-1zM38 29h1v1h-1zM35 34h1v1h-1zM34 36h1v1h-1zM33 38h1v1h-1z"/><path fill="#e3e3e3" d="M41 24h1v1h-1zM40 26h1v1h-1zM39 28h1v1h-1zM37 31h1v1h-1zM36 33h1v1h-1zM35 35h1v1h-1zM32 40h1v1h-1zM31 42h1v1h-1z"/><path fill="#e7e7e7" d="M42 23h2v1h-2zM41 25h1v1h-1zM40 27h1v1h-1zM38 30h1v1h-1zM37 32h1v1h-1zM36 34h1v1h-1zM34 37h1v1h-1zM33 39h1v1h-1zM32 41h1v1h-1zM31 43h1v1h-1z"/><path fill="#ebebeb" d="M42 24h2v1h-2zM41 26h1v1h-1zM39 29h1v1h-1zM38 31h1v1h-1zM35 36h1v1h-1zM34 38h1v1h-1z"/><path fill="#efefef" d="M42 25h2v1h-2zM40 28h1v1h-1zM39 30h1v1h-1zM37 33h1v1h-1zM36 35h1v1h-1zM35 37h1v1h-1zM33 40h1v1h-1zM32 42h1v1h-1z"/><path fill="#f3f3f3" d="M42 26h2v1h-2zM41 27h1v1h-1zM40 29h1v1h-1zM38 32h1v1h-1zM37 34h1v1h-1zM34 39h1v1h-1zM33 41h1v1h-1zM32 43h1v1h-1z"/><path fill="#f7f7f7" d="M41 28h1v1h-1zM39 31h1v1h-1zM38 33h1v1h-1zM36 36h1v1h-1zM35 38h1v1h-1z"/><path fill="#fbfbfb" d="M42 27h2v1h-2zM41 29h1v1h-1zM40 30h1v1h-1zM39 32h1v1h-1zM37 35h1v1h-1zM36 37h1v1h-1zM34 40h1v1h-1zM33 42h1v1h-1zM38 42h1v1h-1z"/><path fill="#ffffff" d="M42 28h2v2h-2zM41 30h3v1h-3zM40 31h4v2h-4zM39 33h5v1h-5zM39 42h5v1h-5zM38 34h6v2h-6zM37 36h7v2h-7zM36 38h8v1h-8zM35 39h9v2h-9zM34 41h10v1h-10zM34 42h4v1h-4zM33 43h11v1h-11z"/></g></g>
<g clip-path="url(#cL)"><g filter="url(#jb)"><rect x="1296.8" y="53.5" width="517.2" height="392.0" fill="#060606"/><g transform="translate(1314.8 71.5) scale(6.0)" shape-rendering="crispEdges"><path fill="#000000" d="M0 0h23v5h-23zM0 5h22v6h-22zM0 11h21v7h-21zM0 46h21v14h-21zM0 18h20v28h-20z"/><path fill="#040404" d="M23 0h9v1h-9zM23 1h8v2h-8zM23 3h7v1h-7zM23 4h6v1h-6zM22 5h7v1h-7zM22 6h6v3h-6zM22 9h5v2h-5zM21 11h5v3h-5zM21 57h5v3h-5zM21 14h4v4h-4zM21 46h4v11h-4zM20 18h5v1h-5zM20 19h4v27h-4z"/><path fill="#080808" d="M32 0h3v1h-3zM77 0h4v1h-4zM31 1h4v1h-4zM78 1h3v1h-3zM31 2h3v1h-3zM79 2h2v1h-2zM30 3h3v1h-3zM80 3h1v1h-1zM29 4h3v2h-3zM28 6h3v1h-3zM28 7h2v2h-2zM27 9h2v2h-2zM26 11h3v1h-3zM26 59h3v1h-3zM26 12h2v2h-2zM26 57h2v2h-2zM25 14h3v1h-3zM25 56h3v1h-3zM25 15h2v3h-2zM25 46h2v10h-2zM25 18h1v1h-1zM24 19h2v27h-2zM52 22h5v1h-5zM51 23h8v1h-8zM50 24h9v1h-9zM50 37h9v1h-9zM49 25h11v5h-11zM49 30h10v3h-10zM49 36h10v1h-10zM48 33h11v3h-11zM53 38h3v1h-3z"/><path fill="#0c0c0c" d="M35 0h3v1h-3zM71 0h6v1h-6zM35 1h2v1h-2zM73 1h5v1h-5zM34 2h2v1h-2zM75 2h4v1h-4zM33 3h2v1h-2zM76 3h4v1h-4zM32 4h2v2h-2zM77 4h4v1h-4zM78 5h3v1h-3zM78 59h3v1h-3zM31 6h2v1h-2zM79 6h2v1h-2zM79 58h2v1h-2zM30 7h2v2h-2zM80 7h1v1h-1zM80 57h1v1h-1zM29 9h2v2h-2zM29 11h1v1h-1zM29 59h1v1h-1zM28 12h2v1h-2zM28 58h2v1h-2zM28 13h1v2h-1zM28 56h1v2h-1zM27 15h2v1h-2zM27 50h2v6h-2zM27 16h1v2h-1zM27 46h1v4h-1zM26 18h2v2h-2zM26 44h2v2h-2zM26 20h1v24h-1zM52 20h6v1h-6zM50 21h9v1h-9zM50 39h9v1h-9zM49 22h3v1h-3zM57 22h3v1h-3zM49 23h2v1h-2zM59 23h2v2h-2zM59 30h2v7h-2zM48 24h2v1h-2zM48 25h1v2h-1zM60 25h1v5h-1zM47 27h2v6h-2zM47 36h2v1h-2zM47 33h1v3h-1zM47 37h3v1h-3zM59 37h1v1h-1zM48 38h5v1h-5zM56 38h4v1h-4z"/><path fill="#101010" d="M38 0h2v1h-2zM67 0h4v1h-4zM37 1h2v1h-2zM69 1h4v1h-4zM36 2h2v1h-2zM71 2h4v1h-4zM35 3h2v1h-2zM73 3h3v1h-3zM34 4h2v1h-2zM75 4h2v1h-2zM34 5h1v1h-1zM76 5h2v1h-2zM76 59h2v1h-2zM33 6h1v1h-1zM77 6h2v1h-2zM77 58h2v1h-2zM32 7h2v1h-2zM78 7h2v1h-2zM32 8h1v1h-1zM79 8h2v1h-2zM79 56h2v1h-2zM31 9h1v2h-1zM80 9h1v1h-1zM80 55h1v1h-1zM30 11h1v2h-1zM30 58h1v1h-1zM29 13h1v3h-1zM29 50h1v7h-1zM28 16h1v4h-1zM28 44h1v5h-1zM53 18h2v1h-2zM51 19h8v1h-8zM27 20h2v1h-2zM27 43h2v1h-2zM50 20h2v1h-2zM58 20h2v1h-2zM27 21h1v22h-1zM49 21h1v1h-1zM59 21h2v1h-2zM59 39h2v1h-2zM48 22h1v2h-1zM60 22h2v1h-2zM60 37h2v1h-2zM61 23h1v14h-1zM47 24h1v2h-1zM47 38h1v1h-1zM46 26h2v1h-2zM46 27h1v6h-1zM46 35h1v3h-1zM45 33h2v2h-2zM60 38h1v1h-1zM48 39h2v1h-2zM50 40h9v1h-9zM28 49h2v1h-2zM29 57h2v1h-2zM79 57h1v1h-1zM30 59h2v1h-2z"/><path fill="#141414" d="M40 0h3v1h-3zM63 0h4v1h-4zM39 1h2v1h-2zM66 1h3v1h-3zM38 2h1v1h-1zM68 2h3v1h-3zM37 3h1v1h-1zM70 3h3v1h-3zM36 4h1v1h-1zM72 4h3v1h-3zM35 5h1v1h-1zM74 5h2v1h-2zM74 59h2v1h-2zM34 6h1v2h-1zM75 6h2v1h-2zM76 7h2v1h-2zM33 8h1v1h-1zM77 8h2v1h-2zM77 57h2v1h-2zM32 9h1v2h-1zM32 59h1v1h-1zM78 9h2v1h-2zM79 10h2v1h-2zM31 11h1v2h-1zM31 57h1v2h-1zM80 11h1v1h-1zM80 53h1v2h-1zM30 13h1v3h-1zM30 50h1v7h-1zM29 16h1v5h-1zM29 44h1v5h-1zM53 17h3v1h-3zM51 18h2v1h-2zM55 18h4v1h-4zM50 19h1v1h-1zM59 19h2v1h-2zM59 40h2v1h-2zM49 20h1v1h-1zM60 20h2v1h-2zM28 21h1v22h-1zM48 21h1v1h-1zM61 21h2v1h-2zM47 22h1v2h-1zM62 22h1v9h-1zM62 33h1v4h-1zM46 24h1v2h-1zM46 38h1v1h-1zM45 26h1v7h-1zM45 35h1v3h-1zM44 34h1v1h-1zM61 38h1v2h-1zM46 39h2v1h-2zM48 40h2v1h-2zM50 41h8v1h-8zM79 55h1v1h-1zM78 56h1v1h-1zM76 58h1v1h-1z"/><path fill="#181818" d="M43 0h3v1h-3zM60 0h3v1h-3zM41 1h2v1h-2zM63 1h3v1h-3zM39 2h2v1h-2zM65 2h3v1h-3zM38 3h1v1h-1zM67 3h3v1h-3zM37 4h1v1h-1zM69 4h3v1h-3zM36 5h1v1h-1zM71 5h3v1h-3zM35 6h2v1h-2zM73 6h2v1h-2zM35 7h1v1h-1zM74 7h2v1h-2zM74 58h2v1h-2zM34 8h1v1h-1zM76 8h1v1h-1zM33 9h1v2h-1zM33 59h1v1h-1zM77 9h1v1h-1zM77 56h1v1h-1zM78 10h1v1h-1zM78 55h1v1h-1zM32 11h1v2h-1zM32 57h1v2h-1zM79 11h1v1h-1zM79 53h1v2h-1zM80 12h1v2h-1zM80 52h1v1h-1zM31 13h1v3h-1zM31 53h1v4h-1zM30 16h1v4h-1zM30 45h1v5h-1zM53 16h1v1h-1zM51 17h2v1h-2zM56 17h3v1h-3zM50 18h1v1h-1zM59 18h2v1h-2zM49 19h1v1h-1zM61 19h1v1h-1zM61 40h1v1h-1zM48 20h1v1h-1zM62 20h1v1h-1zM62 31h1v2h-1zM62 37h1v2h-1zM29 21h1v8h-1zM29 30h1v14h-1zM47 21h1v1h-1zM63 21h1v8h-1zM46 22h1v2h-1zM45 25h1v1h-1zM45 38h1v2h-1zM44 27h1v7h-1zM44 35h1v3h-1zM46 40h2v1h-2zM48 41h2v1h-2zM58 41h2v1h-2zM54 42h2v1h-2zM75 57h2v1h-2zM72 59h2v1h-2z"/><path fill="#1c1c1c" d="M46 0h4v1h-4zM55 0h5v1h-5zM43 1h3v1h-3zM59 1h4v1h-4zM41 2h2v1h-2zM62 2h3v1h-3zM39 3h2v1h-2zM64 3h3v1h-3zM38 4h1v1h-1zM67 4h2v1h-2zM37 5h1v1h-1zM69 5h2v1h-2zM71 6h2v1h-2zM36 7h1v1h-1zM73 7h1v1h-1zM35 8h1v1h-1zM74 8h2v1h-2zM34 9h1v2h-1zM34 59h1v1h-1zM75 9h2v1h-2zM75 56h2v1h-2zM77 10h1v1h-1zM77 55h1v1h-1zM33 11h1v1h-1zM33 57h1v2h-1zM78 11h1v1h-1zM78 53h1v2h-1zM79 12h1v2h-1zM79 52h1v1h-1zM32 13h1v2h-1zM32 55h1v2h-1zM80 14h1v1h-1zM80 50h1v2h-1zM31 16h1v2h-1zM31 46h1v7h-1zM51 16h2v1h-2zM54 16h5v1h-5zM50 17h1v1h-1zM59 17h2v1h-2zM49 18h1v1h-1zM61 18h2v1h-2zM48 19h1v1h-1zM62 19h2v1h-2zM30 20h1v5h-1zM30 33h1v12h-1zM47 20h1v1h-1zM47 41h1v1h-1zM63 20h1v1h-1zM63 29h1v9h-1zM46 21h1v1h-1zM45 23h1v2h-1zM45 40h1v1h-1zM44 25h1v2h-1zM44 38h1v2h-1zM43 28h1v9h-1zM29 29h1v1h-1zM62 39h1v2h-1zM60 41h2v1h-2zM49 42h5v1h-5zM56 42h3v1h-3zM74 57h1v1h-1zM72 58h2v1h-2zM70 59h2v1h-2z"/><path fill="#202020" d="M50 0h5v1h-5zM46 1h4v1h-4zM56 1h3v1h-3zM43 2h3v1h-3zM59 2h3v1h-3zM41 3h2v1h-2zM62 3h2v1h-2zM39 4h2v1h-2zM64 4h3v1h-3zM38 5h1v1h-1zM66 5h3v1h-3zM37 6h1v2h-1zM68 6h3v1h-3zM70 7h3v1h-3zM36 8h1v1h-1zM72 8h2v1h-2zM72 57h2v1h-2zM35 9h1v1h-1zM35 59h1v1h-1zM74 9h1v1h-1zM74 56h1v1h-1zM75 10h2v1h-2zM34 11h1v1h-1zM34 58h1v1h-1zM77 11h1v1h-1zM77 54h1v1h-1zM33 12h1v2h-1zM33 56h1v1h-1zM78 12h1v2h-1zM78 52h1v1h-1zM79 14h1v1h-1zM79 51h1v1h-1zM32 15h1v2h-1zM32 49h1v6h-1zM52 15h7v1h-7zM80 15h1v2h-1zM80 49h1v1h-1zM50 16h1v1h-1zM59 16h2v1h-2zM59 42h2v1h-2zM49 17h1v1h-1zM61 17h2v1h-2zM31 18h1v5h-1zM31 35h1v11h-1zM48 18h1v1h-1zM48 42h1v1h-1zM63 18h1v1h-1zM63 38h1v2h-1zM47 19h1v1h-1zM46 20h1v1h-1zM46 41h1v1h-1zM64 20h1v9h-1zM45 22h1v1h-1zM44 24h1v1h-1zM44 40h1v1h-1zM30 25h1v2h-1zM30 32h1v1h-1zM43 26h1v2h-1zM43 37h1v2h-1zM42 32h1v4h-1zM62 41h1v1h-1zM54 43h2v1h-2zM76 55h1v1h-1zM70 58h2v1h-2zM68 59h2v1h-2z"/><path fill="#242424" d="M50 1h6v1h-6zM46 2h3v1h-3zM56 2h3v1h-3zM56 43h3v1h-3zM43 3h2v1h-2zM59 3h3v1h-3zM41 4h2v1h-2zM62 4h2v1h-2zM39 5h2v1h-2zM64 5h2v1h-2zM38 6h1v1h-1zM66 6h2v1h-2zM66 59h2v1h-2zM68 7h2v1h-2zM37 8h1v1h-1zM70 8h2v1h-2zM36 9h1v1h-1zM36 59h1v1h-1zM72 9h2v1h-2zM35 10h1v2h-1zM35 58h1v1h-1zM74 10h1v1h-1zM75 11h2v1h-2zM34 12h1v1h-1zM34 57h1v1h-1zM77 12h1v1h-1zM77 53h1v1h-1zM33 14h1v2h-1zM33 54h1v2h-1zM52 14h6v1h-6zM78 14h1v1h-1zM78 51h1v1h-1zM50 15h2v1h-2zM59 15h2v1h-2zM79 15h1v1h-1zM79 50h1v1h-1zM49 16h1v1h-1zM61 16h2v1h-2zM32 17h1v4h-1zM32 43h1v6h-1zM48 17h1v1h-1zM63 17h1v1h-1zM63 40h1v1h-1zM80 17h1v1h-1zM80 48h1v1h-1zM47 18h1v1h-1zM64 18h1v2h-1zM64 29h1v2h-1zM64 33h1v5h-1zM46 19h1v1h-1zM45 20h1v2h-1zM45 41h1v1h-1zM44 22h1v2h-1zM31 23h1v2h-1zM31 34h1v1h-1zM43 24h1v2h-1zM43 39h1v1h-1zM30 27h1v1h-1zM30 31h1v1h-1zM42 27h1v5h-1zM42 36h1v2h-1zM46 42h2v1h-2zM61 42h1v1h-1zM49 43h5v1h-5zM76 54h1v1h-1zM74 55h2v1h-2zM73 56h1v1h-1zM71 57h1v1h-1zM69 58h1v1h-1z"/><path fill="#282828" d="M49 2h7v1h-7zM45 3h3v1h-3zM56 3h3v1h-3zM43 4h2v1h-2zM59 4h3v1h-3zM41 5h2v1h-2zM61 5h3v1h-3zM39 6h2v1h-2zM63 6h3v1h-3zM38 7h1v1h-1zM65 7h3v1h-3zM67 8h3v1h-3zM37 9h1v1h-1zM37 59h1v1h-1zM69 9h3v1h-3zM36 10h1v1h-1zM36 58h1v1h-1zM72 10h2v1h-2zM73 11h2v1h-2zM35 12h1v1h-1zM35 57h1v1h-1zM75 12h2v1h-2zM34 13h1v2h-1zM34 55h1v2h-1zM53 13h5v1h-5zM77 13h1v1h-1zM77 52h1v1h-1zM51 14h1v1h-1zM58 14h4v1h-4zM49 15h1v1h-1zM61 15h2v1h-2zM78 15h1v1h-1zM78 50h1v1h-1zM33 16h1v3h-1zM33 46h1v8h-1zM48 16h1v1h-1zM48 43h1v1h-1zM63 16h1v1h-1zM63 41h1v1h-1zM79 16h1v1h-1zM79 49h1v1h-1zM47 17h1v1h-1zM64 17h1v1h-1zM64 31h1v2h-1zM64 38h1v2h-1zM46 18h1v1h-1zM65 18h1v10h-1zM80 18h1v1h-1zM80 46h1v2h-1zM45 19h1v1h-1zM45 42h1v1h-1zM32 21h1v3h-1zM32 35h1v8h-1zM44 21h1v1h-1zM44 41h1v1h-1zM43 23h1v1h-1zM43 40h1v1h-1zM31 25h1v1h-1zM31 33h1v1h-1zM42 25h1v2h-1zM42 38h1v2h-1zM30 28h1v3h-1zM41 32h1v5h-1zM62 42h1v1h-1zM59 43h2v1h-2zM76 53h1v1h-1zM75 54h1v1h-1zM73 55h1v1h-1zM72 56h1v1h-1zM69 57h2v1h-2zM67 58h2v1h-2zM64 59h2v1h-2z"/><path fill="#2d2d2d" d="M48 3h8v1h-8zM45 4h3v1h-3zM56 4h3v1h-3zM43 5h2v1h-2zM58 5h3v1h-3zM41 6h1v1h-1zM41 26h1v6h-1zM41 37h1v2h-1zM60 6h3v1h-3zM39 7h2v1h-2zM62 7h3v1h-3zM38 8h1v1h-1zM38 59h1v1h-1zM64 8h3v1h-3zM65 9h4v1h-4zM37 10h1v1h-1zM68 10h4v1h-4zM36 11h1v1h-1zM71 11h2v1h-2zM55 12h2v1h-2zM74 12h1v1h-1zM74 54h1v1h-1zM35 13h1v1h-1zM35 56h1v1h-1zM51 13h2v1h-2zM58 13h4v1h-4zM76 13h1v1h-1zM76 52h1v1h-1zM50 14h1v1h-1zM62 14h2v1h-2zM77 14h1v1h-1zM77 51h1v1h-1zM34 15h1v2h-1zM34 53h1v2h-1zM48 15h1v1h-1zM63 15h2v1h-2zM47 16h1v1h-1zM64 16h2v1h-2zM78 16h1v1h-1zM78 49h1v1h-1zM46 17h1v1h-1zM65 17h1v1h-1zM65 28h1v2h-1zM79 17h1v1h-1zM79 47h1v2h-1zM45 18h1v1h-1zM33 19h1v4h-1zM33 35h1v11h-1zM80 19h1v2h-1zM80 45h1v1h-1zM44 20h1v1h-1zM44 42h1v1h-1zM43 22h1v1h-1zM43 41h1v1h-1zM32 24h1v1h-1zM32 34h1v1h-1zM42 24h1v1h-1zM42 40h1v1h-1zM31 26h1v1h-1zM40 34h1v2h-1zM64 40h1v1h-1zM63 42h1v1h-1zM63 59h1v1h-1zM46 43h2v1h-2zM61 43h1v1h-1zM50 44h9v1h-9zM75 53h1v1h-1zM72 55h1v1h-1zM70 56h2v1h-2zM68 57h1v1h-1zM65 58h2v1h-2z"/><path fill="#313131" d="M48 4h8v1h-8zM45 5h3v1h-3zM55 5h3v1h-3zM42 6h2v1h-2zM57 6h3v1h-3zM41 7h1v1h-1zM41 24h1v2h-1zM41 39h1v1h-1zM59 7h3v1h-3zM39 8h1v1h-1zM60 8h4v1h-4zM38 9h1v1h-1zM61 9h4v1h-4zM61 10h7v1h-7zM37 11h1v1h-1zM37 58h1v1h-1zM55 11h16v1h-16zM36 12h1v1h-1zM36 57h1v1h-1zM51 12h4v1h-4zM57 12h11v1h-11zM70 12h4v1h-4zM50 13h1v1h-1zM62 13h4v1h-4zM74 13h2v1h-2zM35 14h1v2h-1zM35 55h1v1h-1zM48 14h2v1h-2zM48 44h2v1h-2zM64 14h2v1h-2zM76 14h1v1h-1zM76 51h1v1h-1zM47 15h1v1h-1zM65 15h2v1h-2zM77 15h1v1h-1zM77 50h1v1h-1zM46 16h1v1h-1zM66 16h1v9h-1zM34 17h1v4h-1zM34 36h1v17h-1zM78 17h1v1h-1zM78 48h1v1h-1zM79 18h1v2h-1zM79 46h1v1h-1zM44 19h1v1h-1zM43 21h1v1h-1zM43 42h1v1h-1zM80 21h1v1h-1zM80 44h1v1h-1zM33 23h1v1h-1zM42 23h1v1h-1zM42 41h1v1h-1zM65 30h1v9h-1zM31 32h1v1h-1zM40 33h1v1h-1zM40 36h1v2h-1zM64 41h1v1h-1zM64 58h1v1h-1zM45 43h1v1h-1zM62 43h1v1h-1zM59 44h2v1h-2zM75 52h1v1h-1zM74 53h1v1h-1zM73 54h1v1h-1zM71 55h1v1h-1zM69 56h1v1h-1zM66 57h2v1h-2zM61 59h2v1h-2z"/><path fill="#353535" d="M48 5h7v1h-7zM44 6h4v1h-4zM53 6h4v1h-4zM42 7h2v1h-2zM55 7h4v1h-4zM40 8h2v1h-2zM56 8h4v1h-4zM39 9h1v1h-1zM39 34h1v4h-1zM56 9h5v1h-5zM38 10h1v1h-1zM53 10h8v1h-8zM51 11h4v1h-4zM37 12h1v1h-1zM50 12h1v1h-1zM68 12h2v1h-2zM36 13h1v2h-1zM36 56h1v1h-1zM49 13h1v1h-1zM66 13h8v1h-8zM47 14h1v1h-1zM47 44h1v1h-1zM66 14h3v1h-3zM75 14h1v1h-1zM46 15h1v1h-1zM67 15h1v4h-1zM76 15h1v1h-1zM76 50h1v1h-1zM35 16h1v2h-1zM35 36h1v4h-1zM35 53h1v2h-1zM77 16h1v1h-1zM77 49h1v1h-1zM45 17h1v1h-1zM44 18h1v1h-1zM44 43h1v1h-1zM78 18h1v1h-1zM78 47h1v1h-1zM43 20h1v1h-1zM79 20h1v1h-1zM79 45h1v1h-1zM34 21h1v3h-1zM34 35h1v1h-1zM42 22h1v1h-1zM80 22h1v1h-1zM80 42h1v2h-1zM41 23h1v1h-1zM41 40h1v1h-1zM33 24h1v1h-1zM33 34h1v1h-1zM32 25h1v1h-1zM32 33h1v1h-1zM66 25h1v3h-1zM40 32h1v1h-1zM40 38h1v2h-1zM65 39h1v2h-1zM65 57h1v1h-1zM64 42h1v1h-1zM63 43h1v1h-1zM61 44h1v1h-1zM73 53h1v1h-1zM72 54h1v1h-1zM70 55h1v1h-1zM67 56h2v1h-2zM62 58h2v1h-2zM39 59h2v1h-2zM59 59h2v1h-2z"/><path fill="#393939" d="M48 6h5v1h-5zM44 7h11v1h-11zM42 8h2v1h-2zM51 8h5v2h-5zM40 9h2v1h-2zM39 10h1v1h-1zM39 39h1v1h-1zM51 10h2v1h-2zM38 11h1v1h-1zM38 35h1v1h-1zM38 58h1v1h-1zM50 11h1v1h-1zM48 12h2v1h-2zM37 13h1v1h-1zM37 57h1v1h-1zM47 13h2v1h-2zM46 14h1v1h-1zM69 14h6v1h-6zM36 15h1v1h-1zM36 39h1v1h-1zM36 55h1v1h-1zM68 15h2v1h-2zM68 55h2v1h-2zM75 15h1v1h-1zM75 51h1v1h-1zM45 16h1v1h-1zM68 16h1v1h-1zM76 16h1v1h-1zM44 17h1v1h-1zM77 17h1v1h-1zM77 48h1v1h-1zM35 18h1v5h-1zM35 35h1v1h-1zM35 40h1v13h-1zM43 18h1v2h-1zM43 43h1v1h-1zM67 19h1v3h-1zM78 19h1v1h-1zM78 46h1v1h-1zM42 21h1v1h-1zM42 42h1v1h-1zM79 21h1v1h-1zM79 44h1v1h-1zM41 22h1v1h-1zM41 41h1v1h-1zM41 59h1v1h-1zM80 23h1v2h-1zM80 41h1v1h-1zM40 24h1v3h-1zM40 40h1v1h-1zM31 27h1v1h-1zM66 28h1v2h-1zM66 56h1v1h-1zM36 36h3v2h-3zM36 38h4v1h-4zM65 41h1v1h-1zM64 43h1v1h-1zM64 57h1v1h-1zM45 44h2v1h-2zM62 44h1v1h-1zM50 45h9v1h-9zM74 52h1v1h-1zM72 53h1v1h-1zM70 54h2v1h-2zM61 58h1v1h-1zM57 59h2v1h-2z"/><path fill="#3d3d3d" d="M44 8h7v1h-7zM42 9h9v1h-9zM40 10h2v1h-2zM48 10h3v1h-3zM39 11h1v1h-1zM39 33h1v1h-1zM39 58h1v1h-1zM47 11h3v1h-3zM38 12h1v2h-1zM38 34h1v1h-1zM47 12h1v1h-1zM46 13h1v1h-1zM37 14h1v1h-1zM37 56h1v1h-1zM45 14h1v2h-1zM70 15h2v1h-2zM73 15h2v1h-2zM36 16h1v7h-1zM36 41h1v5h-1zM36 54h1v1h-1zM44 16h1v1h-1zM44 44h1v1h-1zM69 16h1v1h-1zM69 54h1v1h-1zM75 16h1v1h-1zM75 50h1v1h-1zM43 17h1v1h-1zM68 17h1v2h-1zM76 17h1v1h-1zM76 49h1v1h-1zM77 18h1v1h-1zM77 47h1v1h-1zM42 19h1v2h-1zM42 43h1v1h-1zM78 20h1v1h-1zM78 45h1v1h-1zM41 21h1v1h-1zM41 42h1v1h-1zM40 22h1v2h-1zM40 27h1v1h-1zM40 31h1v1h-1zM40 41h1v1h-1zM67 22h1v4h-1zM67 55h1v1h-1zM79 22h1v1h-1zM79 43h1v1h-1zM35 23h1v1h-1zM34 24h1v1h-1zM80 25h1v1h-1zM80 39h1v2h-1zM66 30h1v10h-1zM31 31h1v1h-1zM36 35h2v1h-2zM37 39h2v1h-2zM36 40h4v1h-4zM65 42h1v1h-1zM65 56h1v1h-1zM63 44h1v1h-1zM48 45h2v1h-2zM59 45h2v1h-2zM59 58h2v1h-2zM74 51h1v1h-1zM73 52h1v1h-1zM71 53h1v1h-1zM62 57h2v1h-2zM42 59h2v1h-2zM55 59h2v1h-2z"/><path fill="#414141" d="M42 10h6v1h-6zM40 11h7v1h-7zM39 12h2v1h-2zM44 12h3v1h-3zM44 59h3v1h-3zM44 13h2v1h-2zM38 14h1v1h-1zM38 57h1v1h-1zM44 14h1v1h-1zM37 15h1v7h-1zM37 42h1v2h-1zM43 15h2v1h-2zM72 15h1v1h-1zM72 52h1v1h-1zM43 16h1v1h-1zM43 44h1v1h-1zM70 16h2v1h-2zM74 16h1v1h-1zM74 50h1v1h-1zM42 17h1v2h-1zM69 17h1v1h-1zM68 19h1v2h-1zM68 54h1v1h-1zM77 19h1v1h-1zM77 46h1v1h-1zM41 20h1v1h-1zM41 43h1v1h-1zM40 21h1v1h-1zM40 42h1v1h-1zM40 58h1v1h-1zM78 21h1v1h-1zM78 44h1v1h-1zM37 22h3v1h-3zM37 41h3v1h-3zM36 23h4v1h-4zM79 23h1v1h-1zM79 42h1v1h-1zM39 24h1v2h-1zM67 26h1v2h-1zM80 26h1v3h-1zM80 37h1v2h-1zM34 34h1v1h-1zM66 40h1v1h-1zM66 55h1v1h-1zM65 43h1v1h-1zM64 44h1v1h-1zM64 56h1v1h-1zM46 45h2v1h-2zM61 45h2v1h-2zM36 46h1v8h-1zM76 48h1v1h-1zM75 49h1v1h-1zM73 51h1v1h-1zM70 53h1v1h-1zM61 57h1v1h-1zM58 58h1v1h-1zM52 59h3v1h-3z"/><path fill="#454545" d="M41 12h3v1h-3zM39 13h5v2h-5zM38 15h1v2h-1zM38 20h1v1h-1zM38 24h1v1h-1zM38 56h1v1h-1zM42 15h1v2h-1zM72 16h2v1h-2zM41 17h1v3h-1zM70 17h1v1h-1zM74 17h2v1h-2zM69 18h1v2h-1zM69 53h1v1h-1zM76 18h1v1h-1zM76 47h1v1h-1zM40 20h1v1h-1zM40 28h1v3h-1zM77 20h1v1h-1zM38 21h2v1h-2zM38 42h2v1h-2zM68 21h1v3h-1zM78 22h1v1h-1zM78 43h1v1h-1zM35 24h1v1h-1zM79 24h1v2h-1zM79 40h1v2h-1zM33 25h1v1h-1zM32 26h1v1h-1zM31 28h1v1h-1zM67 28h1v2h-1zM67 54h1v1h-1zM80 29h1v8h-1zM37 34h1v1h-1zM37 44h1v3h-1zM37 55h1v1h-1zM66 41h1v2h-1zM38 43h3v1h-3zM41 44h2v1h-2zM41 58h2v1h-2zM65 44h1v1h-1zM65 55h1v1h-1zM44 45h2v1h-2zM63 45h1v1h-1zM52 46h8v1h-8zM72 51h1v1h-1zM71 52h1v1h-1zM62 56h2v1h-2zM39 57h1v1h-1zM60 57h1v1h-1zM56 58h2v1h-2zM47 59h5v1h-5z"/><path fill="#494949" d="M39 15h3v2h-3zM38 17h3v1h-3zM38 19h3v1h-3zM38 44h3v1h-3zM71 17h3v1h-3zM38 18h1v1h-1zM38 45h1v1h-1zM40 18h1v1h-1zM40 57h1v1h-1zM70 18h1v1h-1zM75 18h1v1h-1zM75 48h1v1h-1zM76 19h1v1h-1zM76 46h1v1h-1zM39 20h1v1h-1zM69 20h1v1h-1zM77 21h1v1h-1zM77 45h1v1h-1zM78 23h1v1h-1zM78 42h1v1h-1zM36 24h2v1h-2zM68 24h1v2h-1zM79 26h1v1h-1zM79 39h1v1h-1zM31 30h1v1h-1zM67 30h1v1h-1zM67 33h1v7h-1zM35 34h2v1h-2zM66 43h1v1h-1zM42 45h2v1h-2zM64 45h1v1h-1zM48 46h4v1h-4zM60 46h2v1h-2zM37 47h1v4h-1zM37 52h1v3h-1zM74 49h1v1h-1zM73 50h1v1h-1zM71 51h1v1h-1zM69 52h2v1h-2zM67 53h2v1h-2zM65 54h2v1h-2zM63 55h2v1h-2zM61 56h1v1h-1zM58 57h2v1h-2zM43 58h1v1h-1zM54 58h2v1h-2z"/><path fill="#4d4d4d" d="M39 18h1v1h-1zM39 26h1v1h-1zM39 32h1v1h-1zM39 56h1v1h-1zM71 18h4v1h-4zM70 19h1v1h-1zM70 51h1v1h-1zM75 19h1v1h-1zM75 47h1v1h-1zM76 20h1v1h-1zM69 21h1v2h-1zM77 22h1v1h-1zM77 44h1v1h-1zM78 24h1v1h-1zM78 41h1v1h-1zM38 25h1v1h-1zM38 33h1v1h-1zM38 46h1v2h-1zM38 55h1v1h-1zM68 26h1v2h-1zM68 52h1v1h-1zM79 27h1v2h-1zM79 36h1v3h-1zM31 29h1v1h-1zM67 31h1v2h-1zM67 40h1v2h-1zM32 32h1v1h-1zM33 33h1v1h-1zM66 44h1v1h-1zM66 53h1v1h-1zM39 45h3v1h-3zM65 45h1v1h-1zM45 46h3v1h-3zM62 46h2v1h-2zM74 48h1v1h-1zM73 49h1v1h-1zM72 50h1v1h-1zM37 51h1v1h-1zM64 54h1v1h-1zM62 55h1v1h-1zM60 56h1v1h-1zM41 57h1v1h-1zM57 57h1v1h-1zM44 58h3v1h-3zM52 58h2v1h-2z"/><path fill="#515151" d="M71 19h2v1h-2zM74 19h1v1h-1zM70 20h1v1h-1zM75 20h1v1h-1zM75 46h1v1h-1zM76 21h1v1h-1zM76 45h1v1h-1zM69 23h1v1h-1zM78 25h1v1h-1zM78 40h1v1h-1zM68 28h1v1h-1zM79 29h1v7h-1zM67 42h1v2h-1zM67 52h1v1h-1zM77 43h1v1h-1zM66 45h1v1h-1zM39 46h6v1h-6zM64 46h1v1h-1zM55 47h7v1h-7zM38 48h1v2h-1zM38 54h1v1h-1zM72 49h1v1h-1zM70 50h2v1h-2zM68 51h2v1h-2zM65 53h1v1h-1zM63 54h1v1h-1zM61 55h1v1h-1zM59 56h1v1h-1zM42 57h1v1h-1zM56 57h1v1h-1zM47 58h5v1h-5z"/><path fill="#555555" d="M73 19h1v1h-1zM73 48h1v1h-1zM71 20h1v1h-1zM71 49h1v1h-1zM74 20h1v1h-1zM74 47h1v1h-1zM70 21h1v2h-1zM76 22h1v1h-1zM76 44h1v1h-1zM77 23h1v1h-1zM77 42h1v1h-1zM69 24h1v2h-1zM69 50h1v1h-1zM78 26h1v1h-1zM78 38h1v2h-1zM68 29h1v2h-1zM68 35h1v6h-1zM67 44h1v1h-1zM67 51h1v1h-1zM75 45h1v1h-1zM65 46h2v1h-2zM65 52h2v1h-2zM39 47h2v1h-2zM48 47h7v1h-7zM62 47h3v1h-3zM39 48h1v1h-1zM39 55h1v1h-1zM38 50h1v4h-1zM64 53h1v1h-1zM62 54h1v1h-1zM60 55h1v1h-1zM40 56h1v1h-1zM58 56h1v1h-1zM43 57h1v1h-1zM54 57h2v1h-2z"/><path fill="#595959" d="M72 20h2v1h-2zM71 21h1v1h-1zM75 21h1v1h-1zM70 23h1v1h-1zM77 24h1v1h-1zM77 40h1v2h-1zM34 25h1v1h-1zM69 26h1v1h-1zM78 27h1v2h-1zM78 36h1v2h-1zM68 31h1v4h-1zM68 41h1v3h-1zM76 43h1v1h-1zM67 45h1v2h-1zM74 46h1v1h-1zM41 47h7v1h-7zM65 47h2v1h-2zM65 51h2v1h-2zM73 47h1v1h-1zM40 48h1v1h-1zM40 55h1v1h-1zM71 48h2v1h-2zM39 49h1v1h-1zM39 54h1v1h-1zM68 49h3v1h-3zM66 50h3v1h-3zM64 52h1v1h-1zM63 53h1v1h-1zM61 54h1v1h-1zM59 55h1v1h-1zM41 56h1v1h-1zM57 56h1v1h-1zM44 57h2v1h-2zM52 57h2v1h-2z"/><path fill="#5d5d5d" d="M72 21h3v1h-3zM71 22h1v1h-1zM75 22h1v1h-1zM75 44h1v1h-1zM76 23h1v1h-1zM76 42h1v1h-1zM70 24h1v1h-1zM37 25h1v1h-1zM77 25h1v2h-1zM77 39h1v1h-1zM39 27h1v1h-1zM39 50h1v4h-1zM69 27h1v2h-1zM78 29h1v7h-1zM68 44h1v3h-1zM74 45h1v1h-1zM73 46h1v1h-1zM67 47h6v1h-6zM41 48h1v1h-1zM56 48h15v1h-15zM40 49h1v1h-1zM64 49h4v1h-4zM64 50h2v1h-2zM64 51h1v1h-1zM63 52h1v1h-1zM62 53h1v1h-1zM60 54h1v1h-1zM58 55h1v1h-1zM42 56h1v1h-1zM55 56h2v1h-2zM46 57h6v1h-6z"/><path fill="#616161" d="M72 22h3v1h-3zM71 23h1v1h-1zM75 23h1v1h-1zM75 43h1v1h-1zM76 24h1v1h-1zM76 41h1v1h-1zM70 25h1v1h-1zM77 27h1v1h-1zM77 38h1v1h-1zM69 29h1v1h-1zM69 36h1v10h-1zM39 31h1v1h-1zM37 33h1v1h-1zM74 44h1v1h-1zM73 45h1v1h-1zM69 46h4v1h-4zM42 48h3v1h-3zM52 48h4v1h-4zM41 49h1v1h-1zM41 55h1v1h-1zM60 49h4v1h-4zM40 50h1v1h-1zM40 54h1v1h-1zM63 50h1v1h-1zM62 51h2v1h-2zM62 52h1v1h-1zM61 53h1v1h-1zM59 54h1v1h-1zM57 55h1v1h-1zM43 56h1v1h-1zM54 56h1v1h-1z"/><path fill="#656565" d="M72 23h3v1h-3zM71 24h1v1h-1zM75 24h1v1h-1zM75 42h1v1h-1zM35 25h2v1h-2zM76 25h1v1h-1zM76 40h1v1h-1zM70 26h1v2h-1zM70 43h1v2h-1zM32 27h1v1h-1zM77 28h1v2h-1zM77 36h1v2h-1zM69 30h1v1h-1zM69 33h1v3h-1zM34 33h1v1h-1zM74 43h1v1h-1zM73 44h1v1h-1zM70 45h3v1h-3zM45 48h7v1h-7zM42 49h1v1h-1zM42 55h1v1h-1zM58 49h2v1h-2zM41 50h1v1h-1zM41 54h1v1h-1zM61 50h2v1h-2zM40 51h1v3h-1zM61 51h1v2h-1zM60 53h1v1h-1zM58 54h1v1h-1zM56 55h1v1h-1zM44 56h2v1h-2zM52 56h2v1h-2z"/><path fill="#696969" d="M72 24h1v1h-1zM74 24h1v1h-1zM74 42h1v1h-1zM71 25h1v1h-1zM75 25h1v1h-1zM75 41h1v1h-1zM33 26h1v1h-1zM38 26h1v1h-1zM76 26h1v2h-1zM76 38h1v2h-1zM70 28h1v1h-1zM70 39h1v4h-1zM77 30h1v6h-1zM69 31h1v2h-1zM71 43h3v1h-3zM71 44h2v1h-2zM43 49h1v1h-1zM43 55h1v1h-1zM55 49h3v1h-3zM59 50h2v1h-2zM41 51h1v3h-1zM60 51h1v2h-1zM59 53h1v1h-1zM57 54h1v1h-1zM55 55h1v1h-1zM46 56h6v1h-6z"/><path fill="#6d6d6d" d="M73 24h1v1h-1zM72 25h1v1h-1zM74 25h1v1h-1zM74 41h1v1h-1zM71 26h1v1h-1zM71 41h1v1h-1zM75 26h1v1h-1zM75 39h1v2h-1zM76 28h1v1h-1zM76 37h1v1h-1zM70 29h1v1h-1zM70 36h1v3h-1zM32 31h1v1h-1zM38 32h1v1h-1zM71 42h3v1h-3zM44 49h3v1h-3zM53 49h2v1h-2zM53 55h2v1h-2zM42 50h2v1h-2zM57 50h2v1h-2zM42 51h1v1h-1zM42 54h1v1h-1zM59 51h1v1h-1zM58 52h2v1h-2zM58 53h1v1h-1zM56 54h1v1h-1zM44 55h1v1h-1z"/><path fill="#717171" d="M73 25h1v1h-1zM72 26h1v1h-1zM74 26h1v1h-1zM74 40h1v1h-1zM71 27h1v1h-1zM71 39h1v2h-1zM75 27h1v1h-1zM75 38h1v1h-1zM39 28h1v1h-1zM39 30h1v1h-1zM76 29h1v1h-1zM76 35h1v2h-1zM70 30h1v1h-1zM70 33h1v3h-1zM35 33h2v1h-2zM72 41h2v1h-2zM47 49h6v1h-6zM44 50h1v1h-1zM56 50h1v1h-1zM57 51h2v1h-2zM42 52h1v2h-1zM57 52h1v2h-1zM43 54h1v1h-1zM55 54h1v1h-1zM45 55h2v1h-2zM51 55h2v1h-2z"/><path fill="#757575" d="M73 26h1v1h-1zM72 27h1v1h-1zM74 27h1v1h-1zM74 38h1v1h-1zM71 28h1v2h-1zM71 36h1v3h-1zM75 28h1v1h-1zM75 37h1v1h-1zM76 30h1v5h-1zM70 31h1v2h-1zM72 39h3v1h-3zM72 40h2v1h-2zM45 50h1v1h-1zM54 50h2v1h-2zM43 51h2v1h-2zM56 51h1v2h-1zM43 52h1v2h-1zM55 53h2v1h-2zM44 54h1v1h-1zM54 54h1v1h-1zM47 55h4v1h-4z"/><path fill="#797979" d="M73 27h1v1h-1zM72 28h1v1h-1zM72 37h1v1h-1zM74 28h1v1h-1zM74 37h1v1h-1zM39 29h1v1h-1zM75 29h1v1h-1zM75 35h1v2h-1zM71 30h1v1h-1zM71 34h1v2h-1zM33 32h1v1h-1zM72 38h2v1h-2zM46 50h8v1h-8zM45 51h1v1h-1zM55 51h1v2h-1zM44 52h1v2h-1zM54 53h1v1h-1zM45 54h2v1h-2zM52 54h2v1h-2z"/><path fill="#7d7d7d" d="M73 28h1v1h-1zM73 37h1v1h-1zM72 29h3v1h-3zM72 36h3v1h-3zM75 30h1v5h-1zM71 31h1v3h-1zM72 35h1v1h-1zM74 35h1v1h-1zM46 51h2v1h-2zM53 51h2v1h-2zM45 52h1v1h-1zM54 52h1v1h-1zM45 53h2v1h-2zM53 53h1v1h-1zM47 54h5v1h-5z"/><path fill="#828282" d="M32 28h1v1h-1zM72 30h3v1h-3zM72 34h3v1h-3zM72 31h1v3h-1zM74 31h1v3h-1zM73 35h1v1h-1zM48 51h5v1h-5zM46 52h3v1h-3zM51 52h3v1h-3zM47 53h6v1h-6z"/><path fill="#868686" d="M73 31h1v3h-1zM49 52h2v1h-2z"/><path fill="#8a8a8a" d="M37 26h1v1h-1zM32 30h1v1h-1z"/><path fill="#929292" d="M34 26h1v1h-1zM38 27h1v1h-1zM32 29h1v1h-1z"/><path fill="#9a9a9a" d="M37 32h1v1h-1z"/><path fill="#9e9e9e" d="M38 31h1v1h-1z"/><path fill="#a6a6a6" d="M36 26h1v1h-1zM33 27h1v1h-1z"/><path fill="#aaaaaa" d="M35 26h1v1h-1zM34 32h1v1h-1z"/><path fill="#b6b6b6" d="M33 31h1v1h-1z"/><path fill="#bebebe" d="M38 28h1v1h-1zM36 32h1v1h-1z"/><path fill="#c6c6c6" d="M38 30h1v1h-1zM35 32h1v1h-1z"/><path fill="#d2d2d2" d="M37 27h1v1h-1zM38 29h1v1h-1z"/><path fill="#e3e3e3" d="M33 28h1v1h-1z"/><path fill="#ebebeb" d="M34 27h1v1h-1zM37 31h1v1h-1z"/><path fill="#efefef" d="M33 30h1v1h-1z"/><path fill="#ffffff" d="M35 27h2v1h-2zM34 28h4v1h-4zM34 30h4v1h-4zM33 29h5v1h-5zM34 31h3v1h-3z"/></g></g></g>
<path d="M1326.8 249.5H1529.3V83.5H1784.0V415.5H1326.8Z" fill="none" stroke="#00002a" stroke-opacity=".85" stroke-width="1.2"/>
<path d="M1348.3 95.3L1366.2 82.6L1367.4 84.2L1373.3 76.2L1363.8 79.1L1365.0 80.8L1347.0 93.6ZM1417.3 95.7L1441.9 80.0L1443.4 82.3L1451.7 72.0L1438.9 75.2L1440.4 77.6L1415.7 93.3ZM1486.9 96.3L1525.4 85.1L1526.5 88.8L1541.4 78.4L1523.3 77.7L1524.3 81.4L1485.8 92.6ZM1556.0 95.3L1572.8 91.9L1573.1 93.5L1579.8 89.7L1572.1 88.7L1572.4 90.3L1555.6 93.6ZM1624.7 96.3L1661.6 95.8L1661.7 99.3L1677.5 93.8L1661.6 88.7L1661.6 92.2L1624.6 92.7ZM1693.2 96.1L1726.8 101.2L1726.4 104.4L1741.5 101.8L1727.8 94.8L1727.3 98.0L1693.7 92.8ZM1762.1 94.9L1771.0 100.0L1770.5 100.9L1775.1 101.8L1772.0 98.3L1771.5 99.2L1762.6 94.0ZM1348.6 172.7L1364.3 152.8L1366.2 154.2L1370.1 143.4L1360.5 149.8L1362.4 151.2L1346.7 171.2ZM1417.9 173.2L1443.0 143.6L1445.8 145.9L1452.4 129.7L1437.4 138.8L1440.2 141.1L1415.1 170.7ZM1488.0 174.2L1534.4 139.7L1537.6 144.1L1552.6 122.6L1527.8 130.8L1531.0 135.2L1484.6 169.7ZM1557.4 172.8L1574.9 140.3L1577.9 141.9L1580.8 125.5L1568.6 136.9L1571.7 138.6L1554.2 171.1ZM1624.9 173.7L1660.7 168.8L1661.2 172.1L1675.9 164.9L1659.8 161.9L1660.3 165.3L1624.4 170.2ZM1692.2 173.4L1722.5 199.2L1720.1 202.0L1736.7 208.8L1727.4 193.4L1725.0 196.3L1694.7 170.5ZM1760.5 172.4L1770.0 208.9L1766.5 209.8L1775.8 224.1L1777.0 207.1L1773.5 208.0L1764.1 171.5ZM1349.3 249.1L1349.3 215.9L1352.4 215.9L1347.7 201.7L1342.9 215.9L1346.0 215.9L1346.0 249.1ZM1419.0 249.6L1428.0 198.4L1432.8 199.3L1429.3 176.1L1418.2 196.7L1423.0 197.6L1414.0 248.7ZM1490.1 250.4L1517.4 172.4L1524.8 175.0L1525.4 137.7L1502.5 167.2L1509.9 169.8L1482.5 247.8ZM1558.0 250.0L1576.4 204.5L1580.7 206.2L1582.0 184.1L1567.7 201.0L1572.0 202.7L1553.6 248.2ZM1624.8 249.6L1631.6 246.7L1631.8 247.2L1634.2 245.0L1630.9 245.2L1631.2 245.7L1624.4 248.7ZM1691.6 249.2L1693.2 287.7L1689.5 287.9L1695.7 304.2L1700.6 287.4L1696.9 287.6L1695.3 249.0ZM1759.8 249.1L1759.8 301.1L1754.9 301.1L1762.3 323.4L1769.7 301.1L1764.8 301.1L1764.8 249.1ZM1348.2 326.9L1347.0 316.6L1348.0 316.5L1346.1 312.2L1345.1 316.8L1346.0 316.7L1347.2 327.0ZM1417.2 326.7L1412.3 311.9L1413.7 311.4L1409.5 305.8L1409.5 312.8L1410.9 312.4L1415.8 327.2ZM1487.3 326.4L1476.1 306.4L1478.0 305.4L1470.3 298.4L1472.3 308.6L1474.1 307.5L1485.3 327.5ZM1556.7 325.7L1531.6 307.5L1533.3 305.2L1519.9 301.0L1528.1 312.4L1529.8 310.0L1554.9 328.1ZM1624.4 325.1L1587.4 330.5L1586.9 327.0L1571.8 334.6L1588.4 337.6L1587.9 334.1L1624.9 328.7ZM1691.9 325.4L1660.5 357.7L1657.5 354.7L1648.6 373.0L1666.7 363.7L1663.7 360.7L1695.0 328.4ZM1760.4 326.4L1750.3 365.4L1746.7 364.5L1747.9 382.6L1757.8 367.4L1754.1 366.4L1764.2 327.4ZM1348.0 404.4L1345.3 401.7L1345.4 401.7L1343.8 400.9L1344.6 402.4L1344.6 402.4L1347.3 405.1ZM1416.7 404.0L1402.1 400.4L1402.4 399.1L1395.7 399.6L1401.4 403.2L1401.8 401.9L1416.3 405.4ZM1486.5 403.2L1455.6 399.6L1455.9 396.7L1442.1 399.6L1454.9 405.6L1455.2 402.6L1486.1 406.2ZM1555.9 402.4L1507.7 400.4L1507.9 395.8L1486.9 401.9L1507.3 409.6L1507.5 405.1L1555.7 407.1ZM1624.5 404.1L1571.9 406.3L1571.6 401.4L1549.4 409.9L1572.3 416.4L1572.1 411.5L1624.7 409.2ZM1693.1 404.2L1655.7 411.4L1655.0 407.8L1640.0 416.3L1657.1 418.5L1656.4 415.0L1693.8 407.8ZM1762.1 405.6L1753.1 411.0L1752.6 410.1L1749.5 413.7L1754.1 412.7L1753.6 411.8L1762.6 406.4Z" fill="#fff"/>
</g>
</g>
<g id="pbr">
<clipPath id="cbr"><rect x="1285.9" y="523.3" width="531.8" height="495.6"/></clipPath>
<g clip-path="url(#cbr)">
<g filter="url(#jb)"><rect x="1255.9" y="493.29999999999995" width="591.8" height="555.6" fill="#080808"/><g transform="translate(1278.9 516.3) scale(7.0)" shape-rendering="crispEdges"><path fill="#000000" d="M35 0h43v1h-43zM34 1h44v2h-44zM33 3h45v2h-45zM32 5h46v1h-46zM31 6h47v2h-47zM30 8h17v1h-17zM60 8h18v1h-18zM29 9h13v1h-13zM63 9h15v1h-15zM28 10h11v1h-11zM65 10h13v1h-13zM27 11h10v1h-10zM66 11h12v1h-12zM25 12h10v1h-10zM68 12h10v1h-10zM68 15h10v1h-10zM23 13h11v1h-11zM69 13h9v1h-9zM69 16h9v1h-9zM21 14h12v1h-12zM36 14h3v1h-3zM67 14h11v1h-11zM19 15h13v1h-13zM36 15h1v1h-1zM16 16h15v1h-15zM13 17h17v1h-17zM70 17h1v2h-1zM70 55h1v1h-1zM72 17h6v1h-6zM9 18h21v1h-21zM73 18h5v2h-5zM0 19h29v2h-29zM0 66h29v1h-29zM74 20h4v1h-4zM0 21h28v2h-28zM0 65h28v1h-28zM75 21h3v3h-3zM0 23h27v2h-27zM76 24h2v3h-2zM0 25h26v2h-26zM0 64h26v1h-26zM0 27h25v1h-25zM0 63h25v1h-25zM77 27h1v1h-1zM0 28h24v2h-24zM0 59h24v1h-24zM0 30h23v1h-23zM0 58h23v1h-23zM0 62h23v1h-23zM0 31h22v2h-22zM0 57h22v1h-22zM0 61h22v1h-22zM0 33h21v1h-21zM0 37h21v2h-21zM0 56h21v1h-21zM0 60h21v1h-21zM0 34h20v2h-20zM0 39h20v2h-20zM0 54h20v2h-20zM0 36h19v1h-19zM0 41h19v2h-19zM0 52h19v2h-19zM0 43h18v9h-18zM69 56h2v1h-2zM68 57h3v2h-3zM67 59h4v1h-4zM0 67h31v1h-31zM0 68h32v1h-32zM0 69h33v1h-33zM0 70h34v1h-34zM0 71h35v2h-35z"/><path fill="#040404" d="M0 0h35v1h-35zM0 1h34v2h-34zM0 3h33v2h-33zM0 5h32v1h-32zM0 6h31v2h-31zM0 8h30v1h-30zM47 8h13v1h-13zM0 9h29v1h-29zM42 9h21v1h-21zM0 10h28v1h-28zM39 10h26v1h-26zM0 11h27v1h-27zM37 11h29v1h-29zM0 12h25v1h-25zM35 12h33v1h-33zM0 13h23v1h-23zM34 13h13v1h-13zM59 13h10v1h-10zM0 14h21v1h-21zM33 14h3v1h-3zM39 14h6v1h-6zM60 14h7v1h-7zM0 15h19v1h-19zM32 15h4v1h-4zM37 15h6v1h-6zM62 15h6v1h-6zM0 16h16v1h-16zM31 16h10v1h-10zM63 16h6v1h-6zM0 17h13v1h-13zM30 17h10v1h-10zM65 17h5v1h-5zM71 17h1v1h-1zM0 18h9v1h-9zM30 18h9v1h-9zM66 18h4v1h-4zM66 55h4v1h-4zM71 18h2v1h-2zM29 19h8v1h-8zM67 19h6v1h-6zM29 20h6v1h-6zM68 20h6v1h-6zM28 21h6v2h-6zM68 21h7v1h-7zM69 22h6v1h-6zM27 23h6v1h-6zM70 23h5v1h-5zM27 24h5v1h-5zM70 24h6v1h-6zM26 25h6v1h-6zM71 25h5v1h-5zM26 26h5v1h-5zM72 26h4v1h-4zM25 27h5v1h-5zM72 27h5v1h-5zM24 28h6v1h-6zM24 59h6v1h-6zM72 28h6v1h-6zM24 29h5v1h-5zM73 29h5v3h-5zM23 30h6v1h-6zM23 58h6v1h-6zM22 31h6v1h-6zM22 57h6v1h-6zM22 32h5v1h-5zM74 32h4v4h-4zM21 33h6v1h-6zM21 56h6v1h-6zM20 34h6v2h-6zM20 55h6v1h-6zM19 36h6v1h-6zM19 53h6v1h-6zM75 36h3v6h-3zM21 37h5v1h-5zM21 38h4v1h-4zM20 39h5v1h-5zM20 54h5v1h-5zM20 40h4v1h-4zM19 41h5v2h-5zM19 52h5v1h-5zM76 42h2v5h-2zM18 43h5v8h-5zM70 47h1v3h-1zM77 47h1v1h-1zM69 50h2v2h-2zM18 51h6v1h-6zM68 52h3v1h-3zM67 53h4v2h-4zM65 56h4v1h-4zM64 57h4v1h-4zM63 58h5v1h-5zM62 59h5v1h-5zM21 60h9v1h-9zM22 61h9v1h-9zM23 62h10v1h-10zM25 63h9v1h-9zM26 64h10v1h-10zM28 65h10v1h-10zM29 66h11v1h-11zM31 67h11v1h-11zM32 68h13v1h-13zM33 69h15v1h-15zM34 70h18v1h-18zM35 71h18v1h-18zM35 72h19v1h-19z"/><path fill="#080808" d="M47 13h12v1h-12zM45 14h15v1h-15zM43 15h5v1h-5zM57 15h5v1h-5zM41 16h4v1h-4zM60 16h3v1h-3zM40 17h3v1h-3zM62 17h3v1h-3zM39 18h2v1h-2zM63 18h3v1h-3zM37 19h3v1h-3zM64 19h3v1h-3zM35 20h4v1h-4zM65 20h3v1h-3zM34 21h4v1h-4zM66 21h2v1h-2zM66 52h2v1h-2zM34 22h3v1h-3zM67 22h2v1h-2zM67 50h2v2h-2zM33 23h2v1h-2zM68 23h2v2h-2zM68 48h2v2h-2zM32 24h2v2h-2zM69 25h2v1h-2zM31 26h2v1h-2zM69 26h3v2h-3zM30 27h2v2h-2zM70 28h2v1h-2zM29 29h2v2h-2zM70 29h3v2h-3zM28 31h2v1h-2zM71 31h2v1h-2zM27 32h3v1h-3zM27 56h3v1h-3zM72 32h2v4h-2zM27 33h2v1h-2zM26 34h3v1h-3zM26 55h3v1h-3zM26 35h2v1h-2zM26 37h2v1h-2zM25 36h3v1h-3zM25 54h3v1h-3zM72 36h3v6h-3zM25 38h2v2h-2zM25 53h2v1h-2zM24 40h3v1h-3zM24 52h3v1h-3zM24 41h2v2h-2zM24 51h2v1h-2zM70 41h1v4h-1zM72 42h4v3h-4zM23 43h3v8h-3zM69 45h7v2h-7zM69 47h1v1h-1zM71 47h6v1h-6zM71 48h7v12h-7zM65 53h2v2h-2zM64 55h2v1h-2zM63 56h2v1h-2zM28 57h3v1h-3zM62 57h2v1h-2zM29 58h3v1h-3zM61 58h2v1h-2zM30 59h3v1h-3zM59 59h3v1h-3zM30 60h4v1h-4zM63 60h15v1h-15zM31 61h4v1h-4zM62 61h16v1h-16zM33 62h4v1h-4zM60 62h18v1h-18zM34 63h5v1h-5zM58 63h20v1h-20zM36 64h6v1h-6zM55 64h23v1h-23zM38 65h40v1h-40zM40 66h38v1h-38zM42 67h36v1h-36zM45 68h33v1h-33zM48 69h30v1h-30zM52 70h26v1h-26zM53 71h25v1h-25zM54 72h24v1h-24z"/><path fill="#0c0c0c" d="M48 15h9v1h-9zM45 16h5v1h-5zM55 16h5v1h-5zM43 17h3v1h-3zM59 17h3v1h-3zM41 18h3v1h-3zM61 18h2v1h-2zM61 56h2v1h-2zM40 19h2v1h-2zM62 19h2v1h-2zM62 55h2v1h-2zM39 20h2v1h-2zM63 20h2v1h-2zM63 54h2v1h-2zM38 21h1v1h-1zM64 21h2v1h-2zM37 22h1v1h-1zM65 22h2v1h-2zM65 51h2v1h-2zM35 23h2v1h-2zM66 23h2v1h-2zM34 24h2v1h-2zM67 24h1v1h-1zM67 48h1v2h-1zM34 25h1v1h-1zM67 25h2v1h-2zM67 47h2v1h-2zM33 26h1v1h-1zM68 26h1v2h-1zM68 45h1v2h-1zM32 27h2v1h-2zM32 58h2v1h-2zM32 28h1v1h-1zM69 28h1v3h-1zM69 41h1v4h-1zM31 29h2v1h-2zM31 57h2v1h-2zM31 30h1v1h-1zM30 31h1v2h-1zM69 31h2v1h-2zM70 32h2v8h-2zM29 33h1v2h-1zM28 35h2v1h-2zM28 54h2v1h-2zM28 36h1v2h-1zM27 38h2v1h-2zM27 52h2v2h-2zM27 39h1v2h-1zM69 40h3v1h-3zM26 41h2v2h-2zM26 49h2v3h-2zM71 41h1v4h-1zM26 43h1v6h-1zM66 50h1v1h-1zM65 52h1v1h-1zM64 53h1v1h-1zM29 55h2v1h-2zM30 56h2v1h-2zM60 57h2v1h-2zM59 58h2v1h-2zM33 59h3v1h-3zM57 59h2v1h-2zM34 60h3v1h-3zM59 60h4v1h-4zM35 61h3v1h-3zM57 61h5v1h-5zM37 62h4v1h-4zM54 62h6v1h-6zM39 63h7v1h-7zM49 63h9v1h-9zM42 64h13v1h-13z"/><path fill="#101010" d="M50 16h5v1h-5zM46 17h3v1h-3zM46 63h3v1h-3zM55 17h4v1h-4zM44 18h2v1h-2zM59 18h2v1h-2zM42 19h2v1h-2zM60 19h2v1h-2zM41 20h1v1h-1zM62 20h1v1h-1zM62 54h1v1h-1zM39 21h2v1h-2zM63 21h1v1h-1zM63 53h1v1h-1zM38 22h1v1h-1zM64 22h1v1h-1zM64 51h1v2h-1zM37 23h1v1h-1zM65 23h1v1h-1zM65 50h1v1h-1zM36 24h1v1h-1zM66 24h1v2h-1zM66 48h1v2h-1zM35 25h2v1h-2zM34 26h2v1h-2zM34 58h2v1h-2zM67 26h1v2h-1zM67 45h1v2h-1zM34 27h1v1h-1zM33 28h1v2h-1zM68 28h1v4h-1zM68 41h1v4h-1zM32 30h1v1h-1zM31 31h2v1h-2zM31 55h2v1h-2zM31 32h1v1h-1zM69 32h1v8h-1zM30 33h2v1h-2zM30 54h2v1h-2zM30 34h1v2h-1zM29 36h1v3h-1zM29 52h1v1h-1zM28 39h2v1h-2zM28 51h2v1h-2zM28 40h1v3h-1zM28 49h1v2h-1zM27 43h2v2h-2zM27 46h2v3h-2zM27 45h1v1h-1zM29 53h2v1h-2zM61 55h1v1h-1zM32 56h2v1h-2zM60 56h1v1h-1zM33 57h2v1h-2zM58 57h2v1h-2zM57 58h2v1h-2zM36 59h2v1h-2zM55 59h2v1h-2zM37 60h2v1h-2zM56 60h3v1h-3zM38 61h4v1h-4zM53 61h4v1h-4zM41 62h13v1h-13z"/><path fill="#141414" d="M49 17h6v1h-6zM46 18h3v1h-3zM56 18h3v1h-3zM44 19h2v1h-2zM59 19h1v1h-1zM59 56h1v1h-1zM42 20h2v1h-2zM60 20h2v1h-2zM41 21h1v1h-1zM62 21h1v1h-1zM62 53h1v1h-1zM39 22h2v1h-2zM63 22h1v1h-1zM63 51h1v2h-1zM38 23h1v1h-1zM64 23h1v1h-1zM64 50h1v1h-1zM37 24h1v2h-1zM65 24h1v2h-1zM65 48h1v2h-1zM36 26h1v1h-1zM66 26h1v2h-1zM66 46h1v2h-1zM35 27h1v1h-1zM35 57h1v1h-1zM34 28h1v1h-1zM34 56h1v1h-1zM67 28h1v3h-1zM67 42h1v3h-1zM33 30h1v1h-1zM33 55h1v1h-1zM32 32h1v1h-1zM32 54h1v1h-1zM68 32h1v9h-1zM31 34h1v2h-1zM31 53h1v1h-1zM30 36h1v3h-1zM30 51h1v2h-1zM29 40h1v5h-1zM29 46h1v5h-1zM28 45h1v1h-1zM61 54h1v1h-1zM60 55h1v1h-1zM57 57h1v1h-1zM36 58h2v1h-2zM55 58h2v1h-2zM38 59h2v1h-2zM53 59h2v1h-2zM39 60h3v1h-3zM53 60h3v1h-3zM42 61h11v1h-11z"/><path fill="#181818" d="M49 18h7v1h-7zM46 19h2v1h-2zM57 19h2v1h-2zM57 56h2v1h-2zM44 20h1v1h-1zM59 20h1v1h-1zM59 55h1v1h-1zM42 21h1v1h-1zM61 21h1v1h-1zM61 53h1v1h-1zM41 22h1v1h-1zM62 22h1v1h-1zM62 52h1v1h-1zM39 23h1v1h-1zM63 23h1v1h-1zM63 50h1v1h-1zM38 24h1v1h-1zM64 24h1v2h-1zM64 49h1v1h-1zM37 26h1v1h-1zM65 26h1v1h-1zM65 46h1v2h-1zM36 27h1v1h-1zM35 28h1v1h-1zM35 56h1v1h-1zM66 28h1v2h-1zM66 44h1v2h-1zM34 29h1v2h-1zM34 55h1v1h-1zM33 31h1v2h-1zM33 54h1v1h-1zM67 31h1v4h-1zM67 38h1v4h-1zM32 33h1v2h-1zM32 53h1v1h-1zM31 36h1v2h-1zM31 51h1v1h-1zM30 39h1v4h-1zM30 47h1v4h-1zM29 45h1v1h-1zM31 52h2v1h-2zM60 54h1v1h-1zM36 57h2v1h-2zM56 57h1v1h-1zM38 58h2v1h-2zM54 58h1v1h-1zM40 59h3v1h-3zM50 59h3v1h-3zM42 60h11v1h-11z"/><path fill="#1c1c1c" d="M48 19h3v1h-3zM53 19h4v1h-4zM45 20h2v1h-2zM57 20h2v1h-2zM43 21h1v1h-1zM59 21h2v1h-2zM42 22h1v1h-1zM61 22h1v1h-1zM61 52h1v1h-1zM40 23h1v1h-1zM62 23h1v1h-1zM62 51h1v1h-1zM39 24h1v1h-1zM63 24h1v1h-1zM63 49h1v1h-1zM38 25h1v1h-1zM38 57h1v1h-1zM64 26h1v1h-1zM64 47h1v2h-1zM65 27h1v2h-1zM65 45h1v1h-1zM36 28h1v1h-1zM35 29h1v1h-1zM35 55h1v1h-1zM66 30h1v2h-1zM66 41h1v3h-1zM34 31h1v1h-1zM34 54h1v1h-1zM33 33h1v1h-1zM33 53h1v1h-1zM32 35h1v2h-1zM32 51h1v1h-1zM67 35h1v3h-1zM31 38h1v3h-1zM31 48h1v3h-1zM30 43h1v4h-1zM60 53h1v1h-1zM59 54h1v1h-1zM58 55h1v1h-1zM36 56h2v1h-2zM56 56h1v1h-1zM54 57h2v1h-2zM40 58h2v1h-2zM52 58h2v1h-2zM43 59h7v1h-7z"/><path fill="#202020" d="M51 19h2v1h-2zM47 20h1v1h-1zM56 20h1v1h-1zM44 21h2v1h-2zM58 21h1v1h-1zM58 54h1v1h-1zM43 22h1v1h-1zM60 22h1v1h-1zM60 52h1v1h-1zM41 23h1v1h-1zM61 23h1v1h-1zM61 51h1v1h-1zM40 24h1v1h-1zM62 24h1v1h-1zM62 50h1v1h-1zM39 25h1v1h-1zM63 25h1v1h-1zM63 48h1v1h-1zM38 26h1v1h-1zM38 56h1v1h-1zM37 27h1v1h-1zM64 27h1v1h-1zM64 46h1v1h-1zM36 29h1v1h-1zM36 55h1v1h-1zM65 29h1v1h-1zM65 43h1v2h-1zM35 30h1v1h-1zM35 54h1v1h-1zM34 32h1v1h-1zM34 53h1v1h-1zM66 32h1v9h-1zM33 34h1v1h-1zM33 51h1v2h-1zM32 37h1v2h-1zM32 49h1v2h-1zM31 41h1v7h-1zM59 53h1v1h-1zM57 55h1v1h-1zM55 56h1v1h-1zM39 57h2v1h-2zM53 57h1v1h-1zM42 58h3v1h-3zM49 58h3v1h-3z"/><path fill="#242424" d="M48 20h8v1h-8zM46 21h1v1h-1zM57 21h1v1h-1zM57 54h1v1h-1zM44 22h1v1h-1zM59 22h1v1h-1zM42 23h1v1h-1zM60 23h1v1h-1zM41 24h1v1h-1zM61 24h1v1h-1zM61 50h1v1h-1zM40 25h1v1h-1zM62 25h1v1h-1zM62 49h1v1h-1zM39 26h1v1h-1zM39 56h1v1h-1zM63 26h1v1h-1zM63 47h1v1h-1zM38 27h1v1h-1zM37 28h1v1h-1zM37 55h1v1h-1zM64 28h1v1h-1zM64 45h1v1h-1zM36 30h1v1h-1zM36 54h1v1h-1zM65 30h1v2h-1zM65 42h1v1h-1zM35 31h1v1h-1zM35 53h1v1h-1zM34 33h1v1h-1zM34 52h1v1h-1zM33 35h1v2h-1zM33 50h1v1h-1zM32 39h1v3h-1zM32 47h1v2h-1zM56 55h1v1h-1zM54 56h1v1h-1zM41 57h2v1h-2zM51 57h2v1h-2zM45 58h4v1h-4z"/><path fill="#282828" d="M47 21h1v1h-1zM55 21h2v1h-2zM45 22h1v1h-1zM58 22h1v1h-1zM58 53h1v1h-1zM43 23h1v1h-1zM59 23h1v1h-1zM59 52h1v1h-1zM62 26h1v1h-1zM62 48h1v1h-1zM63 27h1v1h-1zM63 46h1v1h-1zM37 29h1v1h-1zM37 54h1v1h-1zM64 29h1v1h-1zM64 44h1v1h-1zM35 32h1v1h-1zM35 52h1v1h-1zM65 32h1v3h-1zM65 39h1v3h-1zM34 34h1v1h-1zM34 51h1v1h-1zM33 37h1v2h-1zM33 48h1v2h-1zM32 42h1v5h-1zM60 51h1v1h-1zM36 53h1v1h-1zM38 55h1v1h-1zM55 55h1v1h-1zM40 56h1v1h-1zM53 56h1v1h-1zM43 57h2v1h-2zM49 57h2v1h-2z"/><path fill="#2d2d2d" d="M48 21h7v1h-7zM46 22h1v1h-1zM57 22h1v1h-1zM57 53h1v1h-1zM44 23h1v1h-1zM42 24h1v1h-1zM60 24h1v1h-1zM60 50h1v1h-1zM41 25h1v1h-1zM61 25h1v1h-1zM61 49h1v1h-1zM40 26h1v1h-1zM39 27h1v1h-1zM39 55h1v1h-1zM38 28h1v1h-1zM38 54h1v1h-1zM63 28h1v1h-1zM63 45h1v1h-1zM37 30h1v1h-1zM64 30h1v2h-1zM64 42h1v2h-1zM36 31h1v1h-1zM35 33h1v1h-1zM35 51h1v1h-1zM34 35h1v2h-1zM34 49h1v2h-1zM65 35h1v4h-1zM33 39h1v2h-1zM33 46h1v2h-1zM62 47h1v1h-1zM59 51h1v1h-1zM58 52h1v1h-1zM56 54h1v1h-1zM54 55h1v1h-1zM41 56h2v1h-2zM52 56h1v1h-1zM45 57h4v1h-4z"/><path fill="#313131" d="M47 22h1v1h-1zM55 22h2v1h-2zM45 23h1v1h-1zM58 23h1v1h-1zM43 24h1v1h-1zM59 24h1v1h-1zM60 25h1v1h-1zM61 26h1v1h-1zM61 48h1v1h-1zM62 27h1v1h-1zM62 46h1v1h-1zM38 29h1v1h-1zM63 29h1v1h-1zM63 44h1v1h-1zM36 32h1v1h-1zM36 52h1v1h-1zM64 32h1v1h-1zM64 40h1v2h-1zM35 34h1v1h-1zM35 50h1v1h-1zM34 37h1v1h-1zM34 48h1v1h-1zM33 41h1v5h-1zM37 53h1v1h-1zM39 54h1v1h-1zM55 54h1v1h-1zM40 55h1v1h-1zM53 55h1v1h-1zM43 56h2v1h-2zM50 56h2v1h-2z"/><path fill="#353535" d="M48 22h2v1h-2zM54 22h1v1h-1zM54 54h1v1h-1zM57 23h1v1h-1zM57 52h1v1h-1zM42 25h1v1h-1zM41 26h1v1h-1zM40 27h1v1h-1zM39 28h1v1h-1zM62 28h1v1h-1zM63 30h1v1h-1zM63 43h1v1h-1zM37 31h1v1h-1zM37 52h1v1h-1zM36 33h1v1h-1zM36 51h1v1h-1zM64 33h1v7h-1zM35 35h1v1h-1zM35 49h1v1h-1zM34 38h1v2h-1zM34 46h1v2h-1zM60 49h1v1h-1zM59 50h1v1h-1zM58 51h1v1h-1zM38 53h1v1h-1zM56 53h1v1h-1zM41 55h2v1h-2zM52 55h1v1h-1zM45 56h5v1h-5z"/><path fill="#393939" d="M50 22h4v1h-4zM46 23h1v1h-1zM56 23h1v1h-1zM44 24h1v1h-1zM58 24h1v1h-1zM43 25h1v1h-1zM43 55h1v1h-1zM59 25h1v1h-1zM60 26h1v1h-1zM61 27h1v1h-1zM61 47h1v1h-1zM62 29h1v1h-1zM62 45h1v1h-1zM38 30h1v1h-1zM63 31h1v1h-1zM63 42h1v1h-1zM37 32h1v1h-1zM36 34h1v1h-1zM36 50h1v1h-1zM35 36h1v2h-1zM35 48h1v1h-1zM34 40h1v6h-1zM39 53h1v1h-1zM55 53h1v1h-1zM40 54h1v1h-1zM51 55h1v1h-1z"/><path fill="#3d3d3d" d="M47 23h2v1h-2zM55 23h1v1h-1zM45 24h1v1h-1zM57 24h1v1h-1zM57 51h1v1h-1zM42 26h1v1h-1zM41 27h1v1h-1zM41 54h1v1h-1zM40 28h1v1h-1zM61 28h1v1h-1zM61 46h1v1h-1zM39 29h1v1h-1zM62 30h1v1h-1zM62 44h1v1h-1zM38 31h1v1h-1zM38 52h1v1h-1zM63 32h1v2h-1zM63 40h1v2h-1zM36 35h1v1h-1zM36 49h1v1h-1zM35 38h1v1h-1zM35 47h1v1h-1zM60 48h1v1h-1zM59 49h1v1h-1zM58 50h1v1h-1zM37 51h1v1h-1zM56 52h1v1h-1zM53 54h1v1h-1zM44 55h2v1h-2zM48 55h3v1h-3z"/><path fill="#414141" d="M49 23h2v1h-2zM52 23h3v1h-3zM46 24h1v1h-1zM56 24h1v1h-1zM44 25h1v1h-1zM58 25h1v1h-1zM59 26h1v1h-1zM60 27h1v1h-1zM60 47h1v1h-1zM39 30h1v1h-1zM39 52h1v1h-1zM37 33h1v1h-1zM37 50h1v1h-1zM63 34h1v6h-1zM35 39h1v2h-1zM35 45h1v2h-1zM62 43h1v1h-1zM38 51h1v1h-1zM40 53h1v1h-1zM54 53h1v1h-1zM42 54h1v1h-1zM52 54h1v1h-1zM46 55h2v1h-2z"/><path fill="#454545" d="M51 23h1v1h-1zM47 24h1v1h-1zM55 24h1v1h-1zM55 52h1v1h-1zM57 25h1v1h-1zM43 26h1v1h-1zM42 27h1v1h-1zM41 28h1v1h-1zM41 53h1v1h-1zM40 29h1v1h-1zM61 29h1v1h-1zM61 45h1v1h-1zM62 31h1v1h-1zM62 42h1v1h-1zM38 32h1v1h-1zM37 34h1v1h-1zM36 36h1v2h-1zM36 48h1v1h-1zM35 41h1v4h-1zM59 48h1v1h-1zM56 51h1v1h-1zM53 53h1v1h-1zM43 54h2v1h-2zM50 54h2v1h-2z"/><path fill="#494949" d="M48 24h1v1h-1zM54 24h1v1h-1zM45 25h1v1h-1zM58 26h1v1h-1zM58 49h1v1h-1zM59 27h1v1h-1zM60 28h1v1h-1zM60 46h1v1h-1zM61 30h1v1h-1zM61 44h1v1h-1zM39 31h1v1h-1zM39 51h1v1h-1zM62 32h1v2h-1zM62 41h1v1h-1zM36 38h1v1h-1zM36 46h1v2h-1zM37 49h1v1h-1zM38 50h1v1h-1zM57 50h1v1h-1zM40 52h1v1h-1zM42 53h1v1h-1zM45 54h2v1h-2zM48 54h2v1h-2z"/><path fill="#4d4d4d" d="M49 24h2v1h-2zM52 24h2v1h-2zM46 25h1v1h-1zM56 25h1v1h-1zM44 26h1v1h-1zM40 30h1v1h-1zM38 33h1v1h-1zM62 34h1v1h-1zM62 39h1v2h-1zM37 35h1v1h-1zM37 48h1v1h-1zM36 39h1v1h-1zM36 45h1v1h-1zM61 43h1v1h-1zM59 47h1v1h-1zM55 51h1v1h-1zM54 52h1v1h-1zM43 53h1v1h-1zM52 53h1v1h-1zM47 54h1v1h-1z"/><path fill="#515151" d="M51 24h1v1h-1zM51 53h1v1h-1zM47 25h1v1h-1zM55 25h1v1h-1zM57 26h1v1h-1zM57 49h1v1h-1zM43 27h1v1h-1zM58 27h1v1h-1zM58 48h1v1h-1zM42 28h1v1h-1zM59 28h1v1h-1zM41 29h1v1h-1zM41 52h1v1h-1zM60 29h1v1h-1zM60 45h1v1h-1zM61 31h1v1h-1zM39 32h1v1h-1zM39 50h1v1h-1zM38 34h1v1h-1zM38 49h1v1h-1zM62 35h1v4h-1zM37 36h1v1h-1zM37 47h1v1h-1zM36 40h1v5h-1zM56 50h1v1h-1zM40 51h1v1h-1zM53 52h1v1h-1zM44 53h1v1h-1z"/><path fill="#555555" d="M54 25h1v1h-1zM54 51h1v1h-1zM45 26h1v1h-1zM45 53h1v1h-1zM60 30h1v1h-1zM60 44h1v1h-1zM40 31h1v1h-1zM61 32h1v1h-1zM61 42h1v1h-1zM37 37h1v1h-1zM37 46h1v1h-1zM59 46h1v1h-1zM42 52h1v1h-1zM49 53h2v1h-2z"/><path fill="#595959" d="M48 25h2v1h-2zM53 25h1v1h-1zM46 26h1v1h-1zM56 26h1v1h-1zM44 27h1v1h-1zM43 28h1v1h-1zM43 52h1v1h-1zM59 29h1v1h-1zM41 30h1v1h-1zM41 51h1v1h-1zM39 33h1v1h-1zM39 49h1v1h-1zM61 33h1v1h-1zM61 41h1v1h-1zM38 35h1v1h-1zM38 48h1v1h-1zM37 38h1v1h-1zM37 45h1v1h-1zM58 47h1v1h-1zM55 50h1v1h-1zM52 52h1v1h-1zM46 53h3v1h-3z"/><path fill="#5d5d5d" d="M50 25h3v1h-3zM55 26h1v1h-1zM57 27h1v1h-1zM57 48h1v1h-1zM58 28h1v1h-1zM42 29h1v1h-1zM60 31h1v1h-1zM60 43h1v1h-1zM61 34h1v2h-1zM61 39h1v2h-1zM38 36h1v1h-1zM38 47h1v1h-1zM37 39h1v6h-1zM59 45h1v1h-1zM56 49h1v1h-1zM40 50h1v1h-1zM53 51h1v1h-1zM44 52h1v1h-1zM51 52h1v1h-1z"/><path fill="#616161" d="M47 26h1v1h-1zM45 27h1v1h-1zM45 52h1v1h-1zM59 30h1v1h-1zM40 32h1v1h-1zM60 32h1v1h-1zM60 42h1v1h-1zM39 34h1v1h-1zM39 48h1v1h-1zM61 36h1v3h-1zM38 46h1v1h-1zM42 51h1v1h-1zM50 52h1v1h-1z"/><path fill="#656565" d="M48 26h1v1h-1zM54 26h1v1h-1zM54 50h1v1h-1zM56 27h1v1h-1zM44 28h1v1h-1zM57 28h1v1h-1zM57 47h1v1h-1zM43 29h1v1h-1zM43 51h1v1h-1zM58 29h1v1h-1zM58 46h1v1h-1zM42 30h1v1h-1zM41 31h1v1h-1zM41 50h1v1h-1zM38 37h1v1h-1zM38 45h1v1h-1zM59 44h1v1h-1zM40 49h1v1h-1zM55 49h1v1h-1zM52 51h1v1h-1zM46 52h4v1h-4z"/><path fill="#696969" d="M49 26h2v1h-2zM52 26h2v1h-2zM46 27h1v1h-1zM55 27h1v1h-1zM59 31h1v1h-1zM40 33h1v1h-1zM60 33h1v1h-1zM60 41h1v1h-1zM39 35h1v1h-1zM39 47h1v1h-1zM38 38h1v2h-1zM38 44h1v1h-1zM56 48h1v1h-1zM51 51h1v1h-1z"/><path fill="#6d6d6d" d="M51 26h1v1h-1zM47 27h1v1h-1zM45 28h1v1h-1zM58 30h1v1h-1zM58 45h1v1h-1zM41 32h1v1h-1zM41 49h1v1h-1zM60 34h1v2h-1zM60 39h1v2h-1zM39 36h1v1h-1zM38 40h1v4h-1zM59 43h1v1h-1zM40 48h1v1h-1zM42 50h1v1h-1zM53 50h1v1h-1zM44 51h1v1h-1z"/><path fill="#717171" d="M54 27h1v1h-1zM54 49h1v1h-1zM56 28h1v1h-1zM44 29h1v1h-1zM57 29h1v1h-1zM57 46h1v1h-1zM43 30h1v1h-1zM43 50h1v1h-1zM42 31h1v1h-1zM59 32h1v1h-1zM40 34h1v1h-1zM60 36h1v3h-1zM39 46h1v1h-1zM45 51h2v1h-2zM49 51h2v1h-2z"/><path fill="#757575" d="M48 27h1v1h-1zM53 27h1v1h-1zM46 28h1v1h-1zM59 33h1v1h-1zM59 42h1v1h-1zM39 37h1v1h-1zM39 45h1v1h-1zM58 44h1v1h-1zM40 47h1v1h-1zM56 47h1v1h-1zM55 48h1v1h-1zM42 49h1v1h-1zM52 50h1v1h-1zM47 51h2v1h-2z"/><path fill="#797979" d="M49 27h4v1h-4zM55 28h1v1h-1zM58 31h1v1h-1zM41 33h1v1h-1zM41 48h1v1h-1zM40 35h1v1h-1zM39 38h1v1h-1zM39 44h1v1h-1zM59 41h1v1h-1zM53 49h1v1h-1zM44 50h1v1h-1zM51 50h1v1h-1z"/><path fill="#7d7d7d" d="M47 28h1v1h-1zM54 28h1v1h-1zM54 48h1v1h-1zM45 29h1v1h-1zM45 50h1v1h-1zM56 29h1v1h-1zM44 30h1v1h-1zM57 30h1v1h-1zM57 45h1v1h-1zM42 32h1v1h-1zM59 34h1v1h-1zM59 40h1v1h-1zM39 39h1v5h-1zM58 43h1v1h-1zM40 46h1v1h-1zM50 50h1v1h-1z"/><path fill="#828282" d="M43 31h1v1h-1zM43 49h1v1h-1zM58 32h1v1h-1zM41 34h1v1h-1zM41 47h1v1h-1zM59 35h1v5h-1zM40 36h1v1h-1zM40 45h1v1h-1zM56 46h1v1h-1zM55 47h1v1h-1zM42 48h1v1h-1zM52 49h1v1h-1zM46 50h1v1h-1zM49 50h1v1h-1z"/><path fill="#868686" d="M48 28h1v1h-1zM53 28h1v1h-1zM46 29h1v1h-1zM55 29h1v1h-1zM56 30h1v1h-1zM57 31h1v1h-1zM57 44h1v1h-1zM58 33h1v1h-1zM58 42h1v1h-1zM40 37h1v1h-1zM44 49h1v1h-1zM47 50h2v1h-2z"/><path fill="#8a8a8a" d="M49 28h4v1h-4zM45 30h1v1h-1zM42 33h1v1h-1zM41 35h1v1h-1zM41 46h1v1h-1zM40 38h1v1h-1zM40 44h1v1h-1zM58 41h1v1h-1zM56 45h1v1h-1zM53 48h1v1h-1zM51 49h1v1h-1z"/><path fill="#8e8e8e" d="M47 29h1v1h-1zM54 29h1v1h-1zM54 47h1v1h-1zM44 31h1v1h-1zM43 32h1v1h-1zM43 48h1v1h-1zM57 32h1v1h-1zM57 43h1v1h-1zM58 34h1v1h-1zM40 39h1v1h-1zM40 42h1v2h-1zM55 46h1v1h-1zM42 47h1v1h-1zM45 49h1v1h-1zM50 49h1v1h-1z"/><path fill="#929292" d="M55 30h1v1h-1zM56 31h1v1h-1zM42 34h1v1h-1zM58 35h1v1h-1zM58 39h1v2h-1zM41 36h1v1h-1zM41 45h1v1h-1zM40 40h1v2h-1zM52 48h1v1h-1zM46 49h1v1h-1zM49 49h1v1h-1z"/><path fill="#969696" d="M48 29h1v1h-1zM53 29h1v1h-1zM46 30h1v1h-1zM43 33h1v1h-1zM57 33h1v1h-1zM57 42h1v1h-1zM58 36h1v3h-1zM56 44h1v1h-1zM42 46h1v1h-1zM44 48h1v1h-1zM47 49h2v1h-2z"/><path fill="#9a9a9a" d="M49 29h4v1h-4zM54 30h1v1h-1zM54 46h1v1h-1zM45 31h1v1h-1zM45 48h1v1h-1zM44 32h1v1h-1zM42 35h1v1h-1zM41 37h1v1h-1zM41 44h1v1h-1zM55 45h1v1h-1zM43 47h1v1h-1zM53 47h1v1h-1zM51 48h1v1h-1z"/><path fill="#9e9e9e" d="M47 30h1v1h-1zM55 31h1v1h-1zM56 32h1v1h-1zM56 43h1v1h-1zM57 34h1v1h-1zM57 41h1v1h-1zM41 38h1v1h-1zM41 43h1v1h-1zM42 45h1v1h-1zM50 48h1v1h-1z"/><path fill="#a2a2a2" d="M53 30h1v1h-1zM43 34h1v1h-1zM43 46h1v1h-1zM57 35h1v1h-1zM57 40h1v1h-1zM42 36h1v1h-1zM41 39h1v4h-1zM44 47h1v1h-1zM52 47h1v1h-1zM46 48h2v1h-2zM49 48h1v1h-1z"/><path fill="#a6a6a6" d="M48 30h1v1h-1zM48 48h1v1h-1zM46 31h1v1h-1zM45 32h1v1h-1zM44 33h1v1h-1zM56 33h1v1h-1zM57 36h1v1h-1zM57 39h1v1h-1zM42 44h1v1h-1zM55 44h1v1h-1zM53 46h1v1h-1z"/><path fill="#aaaaaa" d="M49 30h4v1h-4zM54 31h1v1h-1zM54 45h1v1h-1zM55 32h1v1h-1zM42 37h1v1h-1zM57 37h1v2h-1zM56 42h1v1h-1zM45 47h1v1h-1zM51 47h1v1h-1z"/><path fill="#aeaeae" d="M47 31h1v1h-1zM56 34h1v1h-1zM56 41h1v1h-1zM43 35h1v1h-1zM43 45h1v1h-1zM42 38h1v1h-1zM42 43h1v1h-1zM44 46h1v1h-1zM46 47h1v1h-1zM50 47h1v1h-1z"/><path fill="#b2b2b2" d="M53 31h1v1h-1zM46 32h1v1h-1zM44 34h1v1h-1zM42 39h1v1h-1zM42 41h1v2h-1zM55 43h1v1h-1zM52 46h1v1h-1zM47 47h1v1h-1zM49 47h1v1h-1z"/><path fill="#b6b6b6" d="M48 31h1v1h-1zM48 47h1v1h-1zM52 31h1v1h-1zM54 32h1v1h-1zM54 44h1v1h-1zM45 33h1v1h-1zM45 46h1v1h-1zM55 33h1v1h-1zM56 35h1v1h-1zM56 40h1v1h-1zM43 36h1v1h-1zM43 44h1v1h-1zM42 40h1v1h-1zM53 45h1v1h-1z"/><path fill="#bababa" d="M49 31h3v1h-3zM56 36h1v4h-1zM55 42h1v1h-1zM44 45h1v1h-1zM51 46h1v1h-1z"/><path fill="#bebebe" d="M47 32h1v1h-1zM53 32h1v1h-1zM55 34h1v1h-1zM44 35h1v1h-1zM43 37h1v1h-1zM43 43h1v1h-1zM54 43h1v1h-1zM52 45h1v1h-1zM46 46h1v1h-1zM50 46h1v1h-1z"/><path fill="#c2c2c2" d="M46 33h1v1h-1zM54 33h1v1h-1zM45 34h1v1h-1zM45 45h1v1h-1zM55 35h1v1h-1zM55 41h1v1h-1zM43 38h1v1h-1zM43 42h1v1h-1zM44 44h1v1h-1zM53 44h1v1h-1zM47 46h3v1h-3z"/><path fill="#c6c6c6" d="M48 32h1v1h-1zM52 32h1v1h-1zM44 36h1v1h-1zM43 39h1v3h-1zM55 40h1v1h-1z"/><path fill="#cacaca" d="M49 32h3v1h-3zM47 33h1v1h-1zM53 33h1v1h-1zM54 34h1v1h-1zM54 42h1v1h-1zM45 35h1v1h-1zM55 36h1v2h-1zM55 39h1v1h-1zM44 43h1v1h-1zM46 45h1v1h-1zM51 45h1v1h-1z"/><path fill="#cecece" d="M46 34h1v1h-1zM44 37h1v1h-1zM44 42h1v1h-1zM55 38h1v1h-1zM53 43h1v1h-1zM45 44h1v1h-1zM52 44h1v1h-1zM47 45h1v1h-1zM50 45h1v1h-1z"/><path fill="#d2d2d2" d="M48 33h1v1h-1zM52 33h1v1h-1zM54 35h1v1h-1zM54 41h1v1h-1zM44 38h1v1h-1zM44 41h1v1h-1zM48 45h2v1h-2z"/><path fill="#d7d7d7" d="M49 33h1v1h-1zM51 33h1v1h-1zM51 44h1v1h-1zM47 34h1v1h-1zM53 34h1v1h-1zM53 42h1v1h-1zM45 36h1v1h-1zM45 43h1v1h-1zM54 36h1v1h-1zM54 40h1v1h-1zM44 39h1v2h-1zM46 44h1v1h-1z"/><path fill="#dbdbdb" d="M50 33h1v1h-1zM50 44h1v1h-1zM46 35h1v1h-1zM45 37h1v1h-1zM54 37h1v1h-1zM54 39h1v1h-1zM52 43h1v1h-1zM47 44h1v1h-1z"/><path fill="#dfdfdf" d="M48 34h1v1h-1zM52 34h1v1h-1zM53 35h1v1h-1zM53 41h1v1h-1zM54 38h1v1h-1zM45 42h1v1h-1zM46 43h1v1h-1zM48 44h2v1h-2z"/><path fill="#e3e3e3" d="M49 34h1v1h-1zM51 34h1v1h-1zM51 43h1v1h-1zM47 35h1v1h-1zM46 36h1v1h-1zM45 38h1v4h-1zM52 42h1v1h-1z"/><path fill="#e7e7e7" d="M50 34h1v1h-1zM50 43h1v1h-1zM52 35h1v1h-1zM53 36h1v1h-1zM53 40h1v1h-1zM46 42h1v1h-1zM47 43h1v1h-1z"/><path fill="#ebebeb" d="M48 35h1v1h-1zM46 37h1v1h-1zM53 37h1v3h-1zM52 41h1v1h-1zM51 42h1v1h-1zM48 43h2v1h-2z"/><path fill="#efefef" d="M49 35h3v1h-3zM47 36h1v1h-1zM47 42h1v1h-1zM52 36h1v1h-1zM46 38h1v4h-1z"/><path fill="#f3f3f3" d="M48 36h1v1h-1zM48 42h1v1h-1zM47 37h1v1h-1zM52 37h1v1h-1zM52 40h1v1h-1zM51 41h1v1h-1zM50 42h1v1h-1z"/><path fill="#f7f7f7" d="M49 36h3v1h-3zM47 38h1v1h-1zM47 41h1v1h-1zM52 38h1v2h-1zM49 42h1v1h-1z"/><path fill="#fbfbfb" d="M48 37h1v1h-1zM51 37h1v1h-1zM51 40h1v1h-1zM47 39h1v2h-1zM48 41h3v1h-3z"/><path fill="#ffffff" d="M49 37h2v1h-2zM48 38h4v2h-4zM48 40h3v1h-3z"/></g></g>
<path d="M1332.5 774.4H1528.7V613.1H1775.5V935.0H1332.5Z" fill="none" stroke="#000030" stroke-opacity=".8" stroke-width="1.3"/>
</g>
</g>
<g id="pb">
<g fill="none" stroke-width="4.6" stroke-linejoin="miter" stroke-miterlimit="10">
<polyline stroke="#000" points="2075.0,912.8 2135.0,916.2 2210.0,919.5 2310.0,924.5 2410.0,929.5 2475.0,932.5 2541.4,936.5 2573.5,938.0 2605.7,939.2 2637.8,940.2 2670.0,941.2 2702.2,941.5 2734.3,940.0 2766.4,935.0 2798.6,917.5 2830.8,889.2 2862.9,878.8 2895.0,891.2 2927.2,902.0 2959.3,910.0 2991.5,915.8 3023.7,919.5 3055.8,922.5 3087.9,925.0 3120.1,927.0 3152.2,928.5 3184.4,929.8 3216.5,930.8 3248.7,931.5 3277.0,932.0"/>
<polyline stroke="#f20000" points="2075.0,914.2 2135.0,922.5 2210.0,928.8 2310.0,936.2 2410.0,940.5 2475.0,941.8 2535.0,941.2 2573.5,938.8 2605.7,931.8 2637.8,923.2 2670.0,908.8 2702.2,881.2 2734.3,829.2 2766.4,721.8 2798.6,511.0 2830.8,303.0 2862.9,356.0 2895.0,548.8 2927.2,690.8 2959.3,772.5 2991.5,820.0 3023.7,850.5 3055.8,871.2 3087.9,885.5 3120.1,895.8 3152.2,903.2 3184.4,909.5 3216.5,914.5 3248.7,918.5 3277.0,921.5"/>
<polyline stroke="#0000f0" points="2075.0,929.4 2210.0,933.0 2310.0,937.0 2410.0,940.5 2510.0,942.0 2573.5,940.5 2605.7,937.5 2637.8,933.0 2670.0,923.8 2702.2,907.0 2734.3,877.0 2766.4,838.2 2798.6,822.0 2830.8,838.0 2862.9,862.5 2895.0,882.5 2927.2,896.2 2959.3,906.2 2991.5,913.0 3023.7,918.0 3055.8,922.0 3087.9,924.5 3120.1,926.5 3152.2,928.2 3184.4,930.0 3216.5,931.5 3248.7,932.8 3277.0,933.8"/>
<polyline stroke="#ff00ff" points="2075.0,884.2 2210.0,903.8 2310.0,917.0 2410.0,930.0 2475.0,937.5 2510.0,941.5 2547.5,942.0 2573.5,937.5 2605.7,928.0 2637.8,903.8 2670.0,852.5 2702.2,743.0 2734.3,546.0 2766.4,271.5 2798.6,115.0 2830.8,179.5 2862.9,317.0 2895.0,455.0 2927.2,551.2 2959.3,618.0 2991.5,667.5 3023.7,704.5 3055.8,732.5 3087.9,753.8 3120.1,770.8 3152.2,785.0 3184.4,797.0 3216.5,806.8 3248.7,816.2 3277.0,823.8"/>
</g>
<path d="M2077.2 161.5h10M2077.2 317.6h15.5M2077.2 473.8h10M2077.2 630h15.5M2077.2 786.2h10M2077.2 942.2h15.5M2275.5 971.3v-10M2475.8 971.3v-15.5M2676.1 971.3v-10M2876.4 971.3v-15.5M3076.7 971.3v-10" stroke="#000" stroke-width="4.5" fill="none"/>
<rect x="2075.2" y="5.6" width="1201.8000000000002" height="967.6999999999999" fill="none" stroke="#000" stroke-width="4.5"/>
<path d="M2979 113.75H3076.8" stroke="#000" stroke-width="4.6"/>
<path d="M2979 185H3076.8" stroke="#e60000" stroke-width="4.6"/>
<path d="M2979 255.6H3076.8" stroke="#0000f0" stroke-width="4.6"/>
<path d="M2979 326.5H3076.8" stroke="#ff00ff" stroke-width="4.6"/>
<text x="3104" y="134.9" font-size="59" font-style="italic" textLength="42" lengthAdjust="spacingAndGlyphs">T</text>
<text x="3149" y="144.9" font-size="43" font-style="italic" textLength="47" lengthAdjust="spacingAndGlyphs">yy</text>
<text x="3104" y="206" font-size="59" font-style="italic" textLength="42" lengthAdjust="spacingAndGlyphs">T</text>
<text x="3149" y="216" font-size="43" font-style="italic" textLength="47" lengthAdjust="spacingAndGlyphs">yx</text>
<text x="3104" y="276.6" font-size="59" font-style="italic" textLength="42" lengthAdjust="spacingAndGlyphs">T</text>
<text x="3149" y="286.6" font-size="43" font-style="italic" textLength="47" lengthAdjust="spacingAndGlyphs">xx</text>
<text x="3104" y="347.5" font-size="59" font-style="italic" textLength="42" lengthAdjust="spacingAndGlyphs">T</text>
<text x="3149" y="357.5" font-size="43" font-style="italic" textLength="47" lengthAdjust="spacingAndGlyphs">xy</text>
<text x="2110.5" y="95.5" font-size="60" textLength="82" lengthAdjust="spacingAndGlyphs">(b)</text>
<text x="2007.6999999999998" y="1040" font-size="57" textLength="134" lengthAdjust="spacingAndGlyphs">1530</text>
<text x="2408.3" y="1040" font-size="57" textLength="134" lengthAdjust="spacingAndGlyphs">1540</text>
<text x="2808.7" y="1040" font-size="57" textLength="134" lengthAdjust="spacingAndGlyphs">1550</text>
<text x="3209.0" y="1040" font-size="57" textLength="134" lengthAdjust="spacingAndGlyphs">1560</text>
<text x="2441" y="1133.8" font-size="60" textLength="469" lengthAdjust="spacingAndGlyphs">Wavelength/nm</text>
<text transform="translate(2006.5 840) rotate(-90)" font-size="59.5" textLength="699" lengthAdjust="spacingAndGlyphs">Transmission/arb. units</text>
</g>
<g id="pc">
<g fill="none" stroke-width="4.6" stroke-linejoin="miter" stroke-miterlimit="10">
<path stroke="#f20000" d="M1109.0 2105.5C1115.8 2107.5 1134.8 2113.5 1150.0 2117.7C1165.2 2121.9 1183.3 2126.7 1200.0 2130.7C1216.7 2134.6 1233.3 2138.2 1250.0 2141.4C1266.7 2144.7 1283.3 2147.5 1300.0 2150.1C1316.7 2152.8 1333.3 2155.1 1350.0 2157.3C1366.7 2159.5 1385.0 2161.8 1400.0 2163.5C1415.0 2165.1 1424.5 2166.0 1440.0 2167.3C1455.5 2168.5 1475.1 2169.7 1492.7 2170.9C1510.3 2172.0 1530.0 2173.3 1545.4 2174.1C1560.8 2175.0 1574.0 2175.7 1585.0 2176.1C1596.0 2176.6 1602.5 2176.7 1611.3 2176.7C1620.1 2176.7 1628.9 2176.6 1637.7 2176.1C1646.5 2175.6 1655.2 2174.9 1664.0 2173.7C1672.8 2172.5 1682.7 2170.7 1690.4 2168.9C1698.1 2167.1 1704.7 2165.0 1710.2 2162.9C1715.7 2160.8 1718.2 2159.8 1723.4 2156.2C1728.6 2152.6 1735.5 2147.7 1741.4 2141.2C1747.4 2134.8 1753.7 2126.5 1759.1 2117.6C1764.5 2108.8 1769.5 2098.4 1773.9 2088.2C1778.3 2078.1 1782.2 2066.9 1785.7 2056.8C1789.2 2046.7 1791.6 2038.1 1794.6 2027.5C1797.5 2016.9 1800.7 2004.8 1803.4 1993.2C1806.1 1981.7 1808.5 1970.3 1810.8 1958.1C1813.1 1945.9 1813.9 1940.1 1817.5 1920.0C1821.1 1899.9 1827.5 1865.0 1832.5 1837.5L1846.2 1785.0L1859.5 1778.8L1873.8 1815.0C1878.7 1832.7 1883.9 1851.2 1888.5 1868.1C1893.1 1885.0 1898.2 1904.8 1901.3 1916.3C1904.4 1927.8 1905.0 1930.5 1906.9 1937.3C1908.8 1944.1 1910.3 1949.8 1912.8 1957.1C1915.3 1964.4 1918.8 1973.8 1921.7 1981.1C1924.7 1988.4 1927.0 1993.8 1930.5 2000.8C1934.0 2007.9 1938.0 2015.8 1942.4 2023.4C1946.8 2031.0 1951.9 2039.2 1957.1 2046.6C1962.3 2053.9 1968.2 2061.4 1973.4 2067.5C1978.6 2073.6 1983.8 2078.8 1988.2 2083.1C1992.6 2087.5 1996.3 2090.6 2000.0 2093.5C2003.7 2096.4 2005.6 2097.7 2010.3 2100.4C2015.0 2103.2 2022.0 2107.0 2027.9 2109.9C2033.8 2112.7 2036.7 2114.3 2045.5 2117.6C2054.3 2121.0 2068.9 2126.2 2080.6 2129.8C2092.3 2133.5 2104.1 2136.7 2115.8 2139.6C2127.5 2142.5 2139.2 2145.0 2150.9 2147.3C2162.6 2149.6 2174.3 2151.5 2186.0 2153.4C2197.7 2155.2 2209.5 2156.9 2221.2 2158.4C2232.9 2159.8 2244.6 2161.1 2256.3 2162.2C2268.0 2163.3 2282.4 2164.4 2291.5 2165.1C2300.6 2165.8 2307.8 2166.2 2311.0 2166.4"/>
<path stroke="#0000f0" d="M1109.0 1370.3C1116.3 1368.1 1136.6 1361.5 1152.7 1357.1C1168.8 1352.6 1187.8 1347.6 1205.4 1343.6C1223.0 1339.6 1240.6 1336.3 1258.2 1333.2C1275.8 1330.1 1293.3 1327.5 1310.9 1325.1C1328.5 1322.6 1348.8 1320.2 1363.6 1318.4C1378.4 1316.6 1385.2 1315.8 1400.0 1314.2C1414.8 1312.5 1435.1 1310.1 1452.7 1308.4C1470.3 1306.6 1487.8 1305.0 1505.4 1303.6C1523.0 1302.3 1542.8 1301.1 1558.2 1300.3C1573.6 1299.5 1585.6 1299.2 1597.7 1299.0C1609.8 1298.8 1621.9 1298.8 1630.7 1299.0C1639.5 1299.1 1643.8 1299.4 1650.4 1299.9C1657.0 1300.4 1664.7 1301.2 1670.2 1302.0C1675.7 1302.8 1678.0 1303.1 1683.4 1304.6C1688.9 1306.1 1697.5 1308.8 1702.9 1310.8C1708.3 1312.8 1711.6 1314.5 1715.9 1316.8C1720.2 1319.2 1724.5 1322.0 1728.8 1325.1C1733.1 1328.2 1737.8 1331.9 1741.7 1335.4C1745.6 1338.9 1748.6 1341.9 1752.1 1346.1C1755.5 1350.3 1759.0 1354.9 1762.4 1360.5C1765.8 1366.1 1769.7 1373.4 1772.7 1379.7C1775.7 1386.0 1777.9 1391.4 1780.5 1398.3C1783.1 1405.2 1785.9 1413.6 1788.3 1421.0C1790.7 1428.4 1792.8 1435.8 1794.7 1442.9C1796.6 1450.0 1798.0 1455.3 1799.9 1463.7C1801.9 1472.1 1803.8 1481.0 1806.4 1493.2C1809.0 1505.4 1812.0 1520.3 1815.4 1537.0C1818.8 1553.6 1823.6 1576.4 1826.7 1593.3C1829.8 1610.2 1831.4 1623.5 1833.8 1638.6L1845.9 1690.3L1860.0 1697.4L1873.5 1662.7C1878.2 1644.3 1883.1 1624.4 1887.6 1607.5C1892.1 1590.6 1897.2 1572.7 1900.4 1561.3C1903.6 1549.9 1904.2 1547.9 1906.8 1539.0C1909.4 1530.2 1912.9 1518.4 1916.3 1508.1C1919.7 1497.8 1923.0 1487.5 1927.1 1477.1C1931.1 1466.7 1936.1 1455.1 1940.6 1445.9C1945.1 1436.6 1949.7 1428.7 1954.2 1421.6C1958.7 1414.6 1963.2 1408.8 1967.7 1403.3C1972.2 1397.9 1976.8 1393.3 1981.3 1389.1C1985.8 1384.9 1990.3 1381.3 1994.8 1378.0C1999.3 1374.8 2001.6 1373.1 2008.4 1369.6C2015.2 1366.0 2026.4 1360.6 2035.4 1356.8C2044.4 1353.0 2053.5 1349.8 2062.5 1346.8C2071.5 1343.8 2080.6 1341.4 2089.6 1339.1C2098.6 1336.8 2107.7 1334.8 2116.7 1332.9C2125.7 1331.1 2134.8 1329.4 2143.8 1327.9C2152.8 1326.4 2161.5 1325.1 2170.9 1323.8C2180.3 1322.6 2184.5 1322.0 2200.0 1320.3C2215.5 1318.7 2245.5 1315.7 2264.0 1313.9C2282.5 1312.1 2303.2 1310.4 2311.0 1309.7"/>
<polyline stroke="#000" points="1109.0,2191.2 1300.0,2190.3 1440.0,2187.9 1492.7,2185.9 1545.4,2183.3 1585.0,2180.0 1611.3,2176.9 1637.7,2172.0 1664.0,2165.5 1690.4,2156.5 1700.0,2152.8 1720.7,2141.7 1738.4,2129.9 1756.9,2119.6 1778.3,2093.7 1798.3,2021.3 1818.0,1868.0 1838.2,1450.3 1858.7,1368.0 1879.2,1621.0 1898.3,1837.7 1920.2,1979.9 1939.4,2059.7 1959.4,2104.0 1979.3,2132.1 2000.4,2150.3 2020.8,2161.5 2041.9,2169.8 2063.0,2175.0 2080.6,2178.5 2115.8,2183.0 2150.9,2185.7 2186.0,2187.4 2221.2,2188.5 2256.3,2189.5 2311.0,2190.5"/>
</g>
<path d="M1111.1 1401h10M2309.1 1401h-10M1111.1 1559.4h15.5M2309.1 1559.4h-15.5M1111.1 1717.4h10M2309.1 1717.4h-10M1111.1 1875.5h15.5M2309.1 1875.5h-15.5M1111.1 2034.8h10M2309.1 2034.8h-10M1111.1 2192.6h15.5M2309.1 2192.6h-15.5M1409.6 2208.9v-10M1710.1 2208.9v-15.5M2010.6 2208.9v-10" stroke="#000" stroke-width="4.5" fill="none"/>
<rect x="1109.1" y="1243.4" width="1202.0" height="967.5" fill="none" stroke="#000" stroke-width="4.4"/>
<path d="M1994.5 1457.7H2092" stroke="#f20000" stroke-width="4.6"/>
<path d="M1994.5 1528.4H2092" stroke="#0000f0" stroke-width="4.6"/>
<path d="M1994.5 1599.2H2092" stroke="#000" stroke-width="4.6"/>
<text x="2125" y="1478.6" font-size="58" textLength="44" lengthAdjust="spacingAndGlyphs">T</text>
<text x="2125" y="1548.8" font-size="58" textLength="47" lengthAdjust="spacingAndGlyphs">R</text>
<text x="2125" y="1618.5" font-size="58" textLength="146" lengthAdjust="spacingAndGlyphs">THG</text>
<text x="1148" y="1316.3" font-size="60" textLength="75" lengthAdjust="spacingAndGlyphs">(c)</text>
<text x="1042.1" y="2277.5" font-size="57" textLength="134" lengthAdjust="spacingAndGlyphs">1530</text>
<text x="1642.4" y="2277.5" font-size="57" textLength="134" lengthAdjust="spacingAndGlyphs">1545</text>
<text x="2243.5" y="2277.5" font-size="57" textLength="134" lengthAdjust="spacingAndGlyphs">1560</text>
<text x="1476.5" y="2372" font-size="60" textLength="469" lengthAdjust="spacingAndGlyphs">Wavelength/nm</text>
<text transform="translate(968.4 1955) rotate(-90)" font-size="59.5" textLength="471" lengthAdjust="spacingAndGlyphs">Transmission &amp;</text>
<text transform="translate(1045 2039) rotate(-90)" font-size="59.5" textLength="621" lengthAdjust="spacingAndGlyphs">reflectance/arb. units</text>
<text transform="translate(2411.5 2094) rotate(-90)" font-size="59.5" textLength="736" lengthAdjust="spacingAndGlyphs">THG intensity/arb. units</text>
</g>
</svg>
</body></html>
